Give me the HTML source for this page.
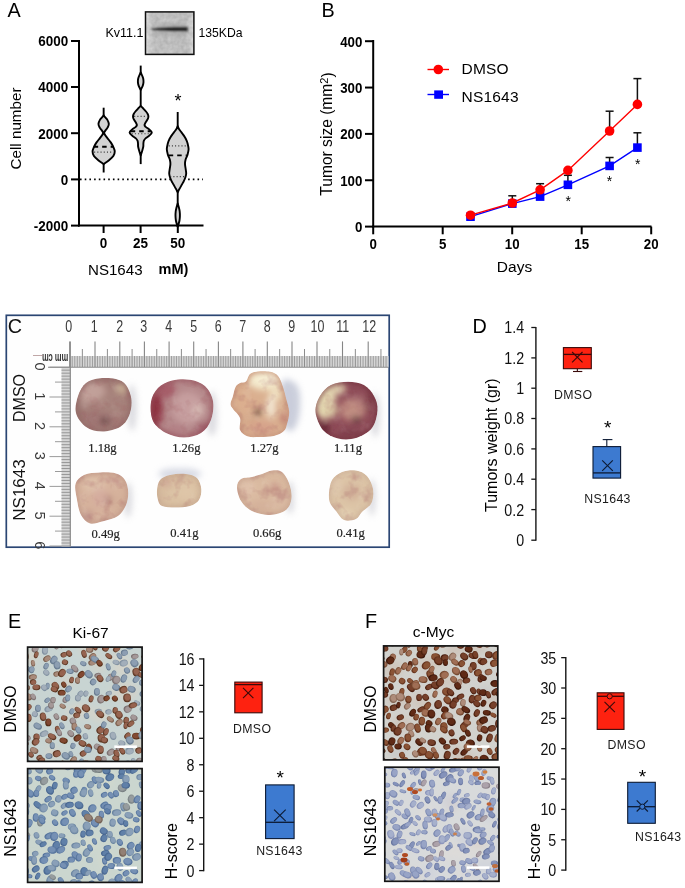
<!DOCTYPE html><html><head><meta charset="utf-8"><style>html,body{margin:0;padding:0;background:#fff;}#w{position:relative;width:685px;height:888px;overflow:hidden;background:#fff;will-change:transform;}svg{position:absolute;left:0;top:0;}</style></head><body><div id="w">
<svg width="685" height="888" viewBox="0 0 685 888">
<defs><filter id="b04" x="-20%" y="-20%" width="140%" height="140%"><feGaussianBlur stdDeviation="0.4"/></filter><filter id="b1" x="-20%" y="-20%" width="140%" height="140%"><feGaussianBlur stdDeviation="1"/></filter><filter id="b2" x="-30%" y="-30%" width="160%" height="160%"><feGaussianBlur stdDeviation="2"/></filter><filter id="b3" x="-30%" y="-30%" width="160%" height="160%"><feGaussianBlur stdDeviation="3"/></filter></defs>
<text x="7.60" y="17.20" font-size="19.8" text-anchor="start" font-weight="normal" fill="#000" font-family='"Liberation Sans", sans-serif' >A</text>
<defs><linearGradient id="wbg" x1="0" y1="0" x2="1" y2="0"><stop offset="0" stop-color="#f2f2f2"/><stop offset="0.07" stop-color="#e0e0e0"/><stop offset="0.15" stop-color="#d2d2d2"/><stop offset="0.85" stop-color="#cfcfcf"/><stop offset="0.95" stop-color="#dedede"/><stop offset="1" stop-color="#ececec"/></linearGradient><filter id="wbn" x="0" y="0" width="100%" height="100%"><feTurbulence type="fractalNoise" baseFrequency="0.22" numOctaves="2" seed="3"/><feColorMatrix type="matrix" values="0 0 0 0 0  0 0 0 0 0  0 0 0 0 0  0 0 0 0.18 0"/></filter><clipPath id="wbc"><rect x="145.5" y="11.9" width="48.4" height="42.5"/></clipPath></defs>
<rect x="145.5" y="11.9" width="48.4" height="42.5" fill="url(#wbg)"/>
<g clip-path="url(#wbc)"><rect x="145.5" y="11.9" width="48.4" height="42.5" filter="url(#wbn)"/></g>
<g filter="url(#b1)"><path d="M151.5,28.6 C160,27.2 175,26.6 187.5,26.8 L187.5,31.4 C175,31.4 160,30.8 151.5,30.0 Z" fill="#161616"/><rect x="152" y="23.5" width="34" height="4" fill="#a8a8a8" opacity="0.5"/><rect x="152" y="31" width="34" height="5" fill="#a0a0a0" opacity="0.45"/></g>
<rect x="145.5" y="11.9" width="48.4" height="42.5" fill="none" stroke="#111" stroke-width="1.5"/>
<text x="143.50" y="36.50" font-size="12.5" text-anchor="end" font-weight="normal" fill="#000" font-family='"Liberation Sans", sans-serif' >Kv11.1</text>
<text x="198.50" y="36.50" font-size="12.2" text-anchor="start" font-weight="normal" fill="#000" font-family='"Liberation Sans", sans-serif' >135KDa</text>
<line x1="79.00" y1="40.00" x2="79.00" y2="226.50" stroke="#000" stroke-width="2" />
<line x1="78.00" y1="225.60" x2="203.50" y2="225.60" stroke="#000" stroke-width="2" />
<line x1="71.00" y1="41.00" x2="79.00" y2="41.00" stroke="#000" stroke-width="2" />
<text x="0" y="0" transform="translate(68.20,46.30) scale(0.91,1)" font-size="14.8" text-anchor="end" font-weight="bold" fill="#000" font-family='"Liberation Sans", sans-serif'>6000</text>
<line x1="71.00" y1="87.00" x2="79.00" y2="87.00" stroke="#000" stroke-width="2" />
<text x="0" y="0" transform="translate(68.20,92.30) scale(0.91,1)" font-size="14.8" text-anchor="end" font-weight="bold" fill="#000" font-family='"Liberation Sans", sans-serif'>4000</text>
<line x1="71.00" y1="133.20" x2="79.00" y2="133.20" stroke="#000" stroke-width="2" />
<text x="0" y="0" transform="translate(68.20,138.50) scale(0.91,1)" font-size="14.8" text-anchor="end" font-weight="bold" fill="#000" font-family='"Liberation Sans", sans-serif'>2000</text>
<line x1="71.00" y1="179.40" x2="79.00" y2="179.40" stroke="#000" stroke-width="2" />
<text x="0" y="0" transform="translate(68.20,184.70) scale(0.91,1)" font-size="14.8" text-anchor="end" font-weight="bold" fill="#000" font-family='"Liberation Sans", sans-serif'>0</text>
<line x1="71.00" y1="225.60" x2="79.00" y2="225.60" stroke="#000" stroke-width="2" />
<text x="0" y="0" transform="translate(68.20,230.90) scale(0.91,1)" font-size="14.8" text-anchor="end" font-weight="bold" fill="#000" font-family='"Liberation Sans", sans-serif'>-2000</text>
<line x1="103.60" y1="225.60" x2="103.60" y2="233.00" stroke="#000" stroke-width="2" />
<text x="0" y="0" transform="translate(103.60,248.00) scale(0.91,1)" font-size="14.8" text-anchor="middle" font-weight="bold" fill="#000" font-family='"Liberation Sans", sans-serif'>0</text>
<line x1="140.60" y1="225.60" x2="140.60" y2="233.00" stroke="#000" stroke-width="2" />
<text x="0" y="0" transform="translate(140.60,248.00) scale(0.91,1)" font-size="14.8" text-anchor="middle" font-weight="bold" fill="#000" font-family='"Liberation Sans", sans-serif'>25</text>
<line x1="177.80" y1="225.60" x2="177.80" y2="233.00" stroke="#000" stroke-width="2" />
<text x="0" y="0" transform="translate(177.80,248.00) scale(0.91,1)" font-size="14.8" text-anchor="middle" font-weight="bold" fill="#000" font-family='"Liberation Sans", sans-serif'>50</text>
<text x="88.00" y="275.00" font-size="15.1" text-anchor="start" font-weight="normal" fill="#000" font-family='"Liberation Sans", sans-serif' >NS1643</text>
<text x="158.60" y="273.50" font-size="14.5" text-anchor="start" font-weight="bold" fill="#000" font-family='"Liberation Sans", sans-serif' >mM)</text>
<text x="0" y="0" transform="translate(15.50,128.50) rotate(-90)" font-size="15.2" text-anchor="middle" dominant-baseline="central" font-weight="normal" fill="#000" font-family='"Liberation Sans", sans-serif' >Cell number</text>
<line x1="80.00" y1="179.40" x2="203.00" y2="179.40" stroke="#000" stroke-width="1.6" stroke-dasharray="1.6 3.1"/>
<line x1="103.65" y1="107.70" x2="103.65" y2="172.50" stroke="#000" stroke-width="1.9" /><path d="M103.65,115.30 C103.88,115.62 104.45,116.48 105.05,117.20 C105.65,117.92 106.62,118.48 107.25,119.60 C107.88,120.72 108.80,122.57 108.85,123.90 C108.90,125.23 108.13,126.48 107.55,127.60 C106.97,128.72 105.97,129.72 105.35,130.60 C104.73,131.48 104.10,132.52 103.85,132.90 L103.45,132.90 C103.20,132.52 102.57,131.48 101.95,130.60 C101.33,129.72 100.33,128.72 99.75,127.60 C99.17,126.48 98.40,125.23 98.45,123.90 C98.50,122.57 99.42,120.72 100.05,119.60 C100.68,118.48 101.65,117.92 102.25,117.20 C102.85,116.48 103.42,115.62 103.65,115.30 Z" fill="#d3d3d3" stroke="#000" stroke-width="1.9" stroke-linejoin="round"/><path d="M103.85,132.90 C104.08,133.30 104.63,134.40 105.25,135.30 C105.87,136.20 106.63,137.12 107.55,138.30 C108.47,139.48 109.80,140.98 110.75,142.40 C111.70,143.82 112.58,145.30 113.25,146.80 C113.92,148.30 114.73,149.88 114.75,151.40 C114.77,152.92 114.30,154.43 113.35,155.90 C112.40,157.37 110.63,158.85 109.05,160.20 C107.47,161.55 104.72,163.37 103.85,164.00 L103.45,164.00 C102.58,163.37 99.83,161.55 98.25,160.20 C96.67,158.85 94.90,157.37 93.95,155.90 C93.00,154.43 92.53,152.92 92.55,151.40 C92.57,149.88 93.38,148.30 94.05,146.80 C94.72,145.30 95.60,143.82 96.55,142.40 C97.50,140.98 98.83,139.48 99.75,138.30 C100.67,137.12 101.43,136.20 102.05,135.30 C102.67,134.40 103.22,133.30 103.45,132.90 Z" fill="#d3d3d3" stroke="#000" stroke-width="1.9" stroke-linejoin="round"/><line x1="93.65" y1="146.70" x2="113.65" y2="146.70" stroke="#000" stroke-width="1.9" stroke-dasharray="4.5 4"/><line x1="94.15" y1="152.10" x2="113.15" y2="152.10" stroke="#333" stroke-width="1.1" stroke-dasharray="1 2.2"/>
<line x1="140.70" y1="65.60" x2="140.70" y2="164.10" stroke="#000" stroke-width="1.9" /><path d="M140.70,72.40 C140.93,72.92 141.68,74.48 142.10,75.50 C142.52,76.52 142.97,77.40 143.20,78.50 C143.43,79.60 143.58,80.88 143.50,82.10 C143.42,83.32 143.17,84.52 142.70,85.80 C142.23,87.08 141.03,89.13 140.70,89.80 L140.70,89.80 C140.37,89.13 139.17,87.08 138.70,85.80 C138.23,84.52 137.98,83.32 137.90,82.10 C137.82,80.88 137.97,79.60 138.20,78.50 C138.43,77.40 138.88,76.52 139.30,75.50 C139.72,74.48 140.47,72.92 140.70,72.40 Z" fill="#d3d3d3" stroke="#000" stroke-width="1.9" stroke-linejoin="round"/><path d="M140.70,105.90 C141.13,106.33 142.42,107.57 143.30,108.50 C144.18,109.43 145.27,110.58 146.00,111.50 C146.73,112.42 147.30,113.18 147.70,114.00 C148.10,114.82 148.40,115.53 148.40,116.40 C148.40,117.27 148.15,118.22 147.70,119.20 C147.25,120.18 146.23,121.32 145.70,122.30 C145.17,123.28 144.50,124.33 144.50,125.10 C144.50,125.87 144.92,126.18 145.70,126.90 C146.48,127.62 148.18,128.47 149.20,129.40 C150.22,130.33 151.78,131.47 151.80,132.50 C151.82,133.53 150.30,134.67 149.30,135.60 C148.30,136.53 146.70,137.27 145.80,138.10 C144.90,138.93 144.30,139.70 143.90,140.60 C143.50,141.50 143.50,142.52 143.40,143.50 C143.30,144.48 143.48,145.33 143.30,146.50 C143.12,147.67 142.73,149.00 142.30,150.50 C141.87,152.00 140.97,154.67 140.70,155.50 L140.70,155.50 C140.43,154.67 139.53,152.00 139.10,150.50 C138.67,149.00 138.28,147.67 138.10,146.50 C137.92,145.33 138.10,144.48 138.00,143.50 C137.90,142.52 137.90,141.50 137.50,140.60 C137.10,139.70 136.50,138.93 135.60,138.10 C134.70,137.27 133.10,136.53 132.10,135.60 C131.10,134.67 129.58,133.53 129.60,132.50 C129.62,131.47 131.18,130.33 132.20,129.40 C133.22,128.47 134.92,127.62 135.70,126.90 C136.48,126.18 136.90,125.87 136.90,125.10 C136.90,124.33 136.23,123.28 135.70,122.30 C135.17,121.32 134.15,120.18 133.70,119.20 C133.25,118.22 133.00,117.27 133.00,116.40 C133.00,115.53 133.30,114.82 133.70,114.00 C134.10,113.18 134.67,112.42 135.40,111.50 C136.13,110.58 137.22,109.43 138.10,108.50 C138.98,107.57 140.27,106.33 140.70,105.90 Z" fill="#d3d3d3" stroke="#000" stroke-width="1.9" stroke-linejoin="round"/><line x1="134.20" y1="116.40" x2="147.20" y2="116.40" stroke="#333" stroke-width="1.1" stroke-dasharray="1 2.2"/><line x1="130.70" y1="131.30" x2="150.70" y2="131.30" stroke="#000" stroke-width="1.9" stroke-dasharray="4.5 4"/><line x1="131.70" y1="133.80" x2="149.70" y2="133.80" stroke="#333" stroke-width="1.1" stroke-dasharray="1 2.2"/>
<line x1="177.70" y1="112.00" x2="177.70" y2="225.60" stroke="#000" stroke-width="1.9" /><path d="M177.70,126.20 C177.87,126.58 178.25,127.70 178.70,128.50 C179.15,129.30 179.73,130.08 180.40,131.00 C181.07,131.92 181.95,132.97 182.70,134.00 C183.45,135.03 184.27,136.15 184.90,137.20 C185.53,138.25 186.05,139.25 186.50,140.30 C186.95,141.35 187.25,142.03 187.60,143.50 C187.95,144.97 188.60,147.27 188.60,149.10 C188.60,150.93 188.10,152.77 187.60,154.50 C187.10,156.23 186.03,157.92 185.60,159.50 C185.17,161.08 185.00,162.50 185.00,164.00 C185.00,165.50 185.40,166.92 185.60,168.50 C185.80,170.08 186.25,172.00 186.20,173.50 C186.15,175.00 185.72,176.20 185.30,177.50 C184.88,178.80 184.27,180.13 183.70,181.30 C183.13,182.47 182.48,183.45 181.90,184.50 C181.32,185.55 180.73,186.63 180.20,187.60 C179.67,188.57 179.12,189.50 178.70,190.30 C178.28,191.10 177.87,192.05 177.70,192.40 L177.70,192.40 C177.53,192.05 177.12,191.10 176.70,190.30 C176.28,189.50 175.73,188.57 175.20,187.60 C174.67,186.63 174.08,185.55 173.50,184.50 C172.92,183.45 172.27,182.47 171.70,181.30 C171.13,180.13 170.52,178.80 170.10,177.50 C169.68,176.20 169.25,175.00 169.20,173.50 C169.15,172.00 169.60,170.08 169.80,168.50 C170.00,166.92 170.40,165.50 170.40,164.00 C170.40,162.50 170.23,161.08 169.80,159.50 C169.37,157.92 168.30,156.23 167.80,154.50 C167.30,152.77 166.80,150.93 166.80,149.10 C166.80,147.27 167.45,144.97 167.80,143.50 C168.15,142.03 168.45,141.35 168.90,140.30 C169.35,139.25 169.87,138.25 170.50,137.20 C171.13,136.15 171.95,135.03 172.70,134.00 C173.45,132.97 174.33,131.92 175.00,131.00 C175.67,130.08 176.25,129.30 176.70,128.50 C177.15,127.70 177.53,126.58 177.70,126.20 Z" fill="#d3d3d3" stroke="#000" stroke-width="1.9" stroke-linejoin="round"/><path d="M177.70,203.40 C177.90,204.08 178.57,206.15 178.90,207.50 C179.23,208.85 179.53,210.08 179.70,211.50 C179.87,212.92 179.93,214.50 179.90,216.00 C179.87,217.50 179.72,219.17 179.50,220.50 C179.28,221.83 178.87,223.00 178.60,224.00 C178.33,225.00 178.02,226.08 177.90,226.50 L177.50,226.50 C177.38,226.08 177.07,225.00 176.80,224.00 C176.53,223.00 176.12,221.83 175.90,220.50 C175.68,219.17 175.53,217.50 175.50,216.00 C175.47,214.50 175.53,212.92 175.70,211.50 C175.87,210.08 176.17,208.85 176.50,207.50 C176.83,206.15 177.50,204.08 177.70,203.40 Z" fill="#d3d3d3" stroke="#000" stroke-width="1.9" stroke-linejoin="round"/><line x1="168.70" y1="145.90" x2="186.70" y2="145.90" stroke="#333" stroke-width="1.1" stroke-dasharray="1 2.2"/><line x1="168.70" y1="155.40" x2="186.70" y2="155.40" stroke="#000" stroke-width="1.9" stroke-dasharray="4.5 4"/><line x1="170.20" y1="176.60" x2="185.20" y2="176.60" stroke="#333" stroke-width="1.1" stroke-dasharray="1 2.2"/>
<text x="178.10" y="106.80" font-size="18" text-anchor="middle" font-weight="normal" fill="#000" font-family='"Liberation Sans", sans-serif' >*</text>
<text x="321.50" y="17.20" font-size="19.8" text-anchor="start" font-weight="normal" fill="#000" font-family='"Liberation Sans", sans-serif' >B</text>
<line x1="373.20" y1="40.00" x2="373.20" y2="227.50" stroke="#000" stroke-width="2" />
<line x1="372.20" y1="226.60" x2="651.50" y2="226.60" stroke="#000" stroke-width="2" />
<line x1="365.00" y1="226.60" x2="373.20" y2="226.60" stroke="#000" stroke-width="2" />
<text x="0" y="0" transform="translate(362.30,231.90) scale(0.91,1)" font-size="14.6" text-anchor="end" font-weight="bold" fill="#000" font-family='"Liberation Sans", sans-serif'>0</text>
<line x1="365.00" y1="180.25" x2="373.20" y2="180.25" stroke="#000" stroke-width="2" />
<text x="0" y="0" transform="translate(362.30,185.55) scale(0.91,1)" font-size="14.6" text-anchor="end" font-weight="bold" fill="#000" font-family='"Liberation Sans", sans-serif'>100</text>
<line x1="365.00" y1="133.90" x2="373.20" y2="133.90" stroke="#000" stroke-width="2" />
<text x="0" y="0" transform="translate(362.30,139.20) scale(0.91,1)" font-size="14.6" text-anchor="end" font-weight="bold" fill="#000" font-family='"Liberation Sans", sans-serif'>200</text>
<line x1="365.00" y1="87.55" x2="373.20" y2="87.55" stroke="#000" stroke-width="2" />
<text x="0" y="0" transform="translate(362.30,92.85) scale(0.91,1)" font-size="14.6" text-anchor="end" font-weight="bold" fill="#000" font-family='"Liberation Sans", sans-serif'>300</text>
<line x1="365.00" y1="41.20" x2="373.20" y2="41.20" stroke="#000" stroke-width="2" />
<text x="0" y="0" transform="translate(362.30,46.50) scale(0.91,1)" font-size="14.6" text-anchor="end" font-weight="bold" fill="#000" font-family='"Liberation Sans", sans-serif'>400</text>
<line x1="373.20" y1="226.60" x2="373.20" y2="234.30" stroke="#000" stroke-width="2" />
<text x="0" y="0" transform="translate(373.20,249.20) scale(0.91,1)" font-size="14.6" text-anchor="middle" font-weight="bold" fill="#000" font-family='"Liberation Sans", sans-serif'>0</text>
<line x1="442.70" y1="226.60" x2="442.70" y2="234.30" stroke="#000" stroke-width="2" />
<text x="0" y="0" transform="translate(442.70,249.20) scale(0.91,1)" font-size="14.6" text-anchor="middle" font-weight="bold" fill="#000" font-family='"Liberation Sans", sans-serif'>5</text>
<line x1="512.20" y1="226.60" x2="512.20" y2="234.30" stroke="#000" stroke-width="2" />
<text x="0" y="0" transform="translate(512.20,249.20) scale(0.91,1)" font-size="14.6" text-anchor="middle" font-weight="bold" fill="#000" font-family='"Liberation Sans", sans-serif'>10</text>
<line x1="581.70" y1="226.60" x2="581.70" y2="234.30" stroke="#000" stroke-width="2" />
<text x="0" y="0" transform="translate(581.70,249.20) scale(0.91,1)" font-size="14.6" text-anchor="middle" font-weight="bold" fill="#000" font-family='"Liberation Sans", sans-serif'>15</text>
<line x1="651.20" y1="226.60" x2="651.20" y2="234.30" stroke="#000" stroke-width="2" />
<text x="0" y="0" transform="translate(651.20,249.20) scale(0.91,1)" font-size="14.6" text-anchor="middle" font-weight="bold" fill="#000" font-family='"Liberation Sans", sans-serif'>20</text>
<text x="514.50" y="272.20" font-size="15.5" text-anchor="middle" font-weight="normal" fill="#000" font-family='"Liberation Sans", sans-serif' >Days</text>
<text x="0" y="0" transform="translate(326.60,134.00) rotate(-90)" font-size="15.6" text-anchor="middle" dominant-baseline="central" font-family='"Liberation Sans", sans-serif'>Tumor size (mm<tspan font-size="11" dy="-2.6">2</tspan><tspan dy="2.6">)</tspan></text>
<line x1="512.30" y1="203.00" x2="512.30" y2="195.80" stroke="#111" stroke-width="1.5" />
<line x1="508.30" y1="195.80" x2="516.30" y2="195.80" stroke="#111" stroke-width="1.5" />
<line x1="540.10" y1="189.80" x2="540.10" y2="183.70" stroke="#111" stroke-width="1.5" />
<line x1="536.10" y1="183.70" x2="544.10" y2="183.70" stroke="#111" stroke-width="1.5" />
<line x1="609.60" y1="131.00" x2="609.60" y2="111.20" stroke="#111" stroke-width="1.5" />
<line x1="605.60" y1="111.20" x2="613.60" y2="111.20" stroke="#111" stroke-width="1.5" />
<line x1="637.40" y1="104.40" x2="637.40" y2="78.60" stroke="#111" stroke-width="1.5" />
<line x1="633.40" y1="78.60" x2="641.40" y2="78.60" stroke="#111" stroke-width="1.5" />
<line x1="567.90" y1="184.80" x2="567.90" y2="175.30" stroke="#111" stroke-width="1.5" />
<line x1="563.90" y1="175.30" x2="571.90" y2="175.30" stroke="#111" stroke-width="1.5" />
<line x1="609.60" y1="165.90" x2="609.60" y2="157.50" stroke="#111" stroke-width="1.5" />
<line x1="605.60" y1="157.50" x2="613.60" y2="157.50" stroke="#111" stroke-width="1.5" />
<line x1="637.40" y1="147.60" x2="637.40" y2="132.80" stroke="#111" stroke-width="1.5" />
<line x1="633.40" y1="132.80" x2="641.40" y2="132.80" stroke="#111" stroke-width="1.5" />
<polyline points="470.5,216.7 512.3,203.6 540.1,196.6 567.9,184.8 609.6,165.9 637.4,147.6" fill="none" stroke="#0000ff" stroke-width="1.4"/>
<rect x="466.20" y="212.40" width="8.6" height="8.6" fill="#0000ff"/>
<rect x="508.00" y="199.30" width="8.6" height="8.6" fill="#0000ff"/>
<rect x="535.80" y="192.30" width="8.6" height="8.6" fill="#0000ff"/>
<rect x="563.60" y="180.50" width="8.6" height="8.6" fill="#0000ff"/>
<rect x="605.30" y="161.60" width="8.6" height="8.6" fill="#0000ff"/>
<rect x="633.10" y="143.30" width="8.6" height="8.6" fill="#0000ff"/>
<polyline points="470.5,215.2 512.3,203.0 540.1,189.8 567.9,170.4 609.6,131.0 637.4,104.4" fill="none" stroke="#ff0000" stroke-width="1.4"/>
<circle cx="470.5" cy="215.2" r="4.8" fill="#ff0000"/>
<circle cx="512.3" cy="203.0" r="4.8" fill="#ff0000"/>
<circle cx="540.1" cy="189.8" r="4.8" fill="#ff0000"/>
<circle cx="567.9" cy="170.4" r="4.8" fill="#ff0000"/>
<circle cx="609.6" cy="131.0" r="4.8" fill="#ff0000"/>
<circle cx="637.4" cy="104.4" r="4.8" fill="#ff0000"/>
<text x="568.20" y="206.20" font-size="14" text-anchor="middle" font-weight="normal" fill="#000" font-family='"Liberation Sans", sans-serif' >*</text>
<text x="609.60" y="186.20" font-size="14" text-anchor="middle" font-weight="normal" fill="#000" font-family='"Liberation Sans", sans-serif' >*</text>
<text x="637.70" y="169.00" font-size="14" text-anchor="middle" font-weight="normal" fill="#000" font-family='"Liberation Sans", sans-serif' >*</text>
<line x1="427.50" y1="69.50" x2="449.00" y2="69.50" stroke="#ff0000" stroke-width="1.4" />
<circle cx="438.3" cy="69.5" r="4.8" fill="#ff0000"/>
<line x1="427.50" y1="94.50" x2="449.00" y2="94.50" stroke="#0000ff" stroke-width="1.4" />
<rect x="434.2" y="90.4" width="8.8" height="8.4" fill="#0000ff"/>
<text x="461.50" y="74.30" font-size="15.5" text-anchor="start" font-weight="normal" fill="#000" font-family='"Liberation Sans", sans-serif' letter-spacing="0.2">DMSO</text>
<text x="461.50" y="101.80" font-size="15.5" text-anchor="start" font-weight="normal" fill="#000" font-family='"Liberation Sans", sans-serif' letter-spacing="0.2">NS1643</text>
<rect x="6.3" y="315.3" width="382.9" height="231.9" fill="#fefefe" stroke="#2b4673" stroke-width="1.7"/>
<text x="7.80" y="332.90" font-size="19.8" text-anchor="start" font-weight="normal" fill="#111" font-family='"Liberation Sans", sans-serif' >C</text>
<text x="0" y="0" transform="translate(68.60,331.60) scale(0.8,1)" font-size="15.6" text-anchor="middle" font-weight="normal" fill="#3a3a3a" font-family='"Liberation Sans", sans-serif' >0</text>
<text x="0" y="0" transform="translate(94.30,331.60) scale(0.8,1)" font-size="15.6" text-anchor="middle" font-weight="normal" fill="#3a3a3a" font-family='"Liberation Sans", sans-serif' >1</text>
<text x="0" y="0" transform="translate(119.70,331.60) scale(0.8,1)" font-size="15.6" text-anchor="middle" font-weight="normal" fill="#3a3a3a" font-family='"Liberation Sans", sans-serif' >2</text>
<text x="0" y="0" transform="translate(143.80,331.60) scale(0.8,1)" font-size="15.6" text-anchor="middle" font-weight="normal" fill="#3a3a3a" font-family='"Liberation Sans", sans-serif' >3</text>
<text x="0" y="0" transform="translate(168.80,331.60) scale(0.8,1)" font-size="15.6" text-anchor="middle" font-weight="normal" fill="#3a3a3a" font-family='"Liberation Sans", sans-serif' >4</text>
<text x="0" y="0" transform="translate(193.60,331.60) scale(0.8,1)" font-size="15.6" text-anchor="middle" font-weight="normal" fill="#3a3a3a" font-family='"Liberation Sans", sans-serif' >5</text>
<text x="0" y="0" transform="translate(218.10,331.60) scale(0.8,1)" font-size="15.6" text-anchor="middle" font-weight="normal" fill="#3a3a3a" font-family='"Liberation Sans", sans-serif' >6</text>
<text x="0" y="0" transform="translate(242.60,331.60) scale(0.8,1)" font-size="15.6" text-anchor="middle" font-weight="normal" fill="#3a3a3a" font-family='"Liberation Sans", sans-serif' >7</text>
<text x="0" y="0" transform="translate(267.20,331.60) scale(0.8,1)" font-size="15.6" text-anchor="middle" font-weight="normal" fill="#3a3a3a" font-family='"Liberation Sans", sans-serif' >8</text>
<text x="0" y="0" transform="translate(291.60,331.60) scale(0.8,1)" font-size="15.6" text-anchor="middle" font-weight="normal" fill="#3a3a3a" font-family='"Liberation Sans", sans-serif' >9</text>
<text x="0" y="0" transform="translate(317.50,331.60) scale(0.8,1)" font-size="15.6" text-anchor="middle" font-weight="normal" fill="#3a3a3a" font-family='"Liberation Sans", sans-serif' >10</text>
<text x="0" y="0" transform="translate(342.60,331.60) scale(0.8,1)" font-size="15.6" text-anchor="middle" font-weight="normal" fill="#3a3a3a" font-family='"Liberation Sans", sans-serif' >11</text>
<text x="0" y="0" transform="translate(369.30,331.60) scale(0.8,1)" font-size="15.6" text-anchor="middle" font-weight="normal" fill="#3a3a3a" font-family='"Liberation Sans", sans-serif' >12</text>
<rect x="70" y="356" width="318.5" height="11" fill="#d6d6d6"/>
<rect x="61.5" y="367" width="8.8" height="179.5" fill="#d6d6d6"/>
<g><line x1="69.70" y1="341.40" x2="69.70" y2="367.00" stroke="#858585" stroke-width="1.1" /><line x1="82.35" y1="349.00" x2="82.35" y2="367.00" stroke="#8d8d8d" stroke-width="1.0" /><line x1="72.23" y1="356.00" x2="72.23" y2="367.00" stroke="#979797" stroke-width="0.9" /><line x1="74.76" y1="356.00" x2="74.76" y2="367.00" stroke="#979797" stroke-width="0.9" /><line x1="77.29" y1="356.00" x2="77.29" y2="367.00" stroke="#979797" stroke-width="0.9" /><line x1="79.82" y1="356.00" x2="79.82" y2="367.00" stroke="#979797" stroke-width="0.9" /><line x1="84.88" y1="356.00" x2="84.88" y2="367.00" stroke="#979797" stroke-width="0.9" /><line x1="87.41" y1="356.00" x2="87.41" y2="367.00" stroke="#979797" stroke-width="0.9" /><line x1="89.94" y1="356.00" x2="89.94" y2="367.00" stroke="#979797" stroke-width="0.9" /><line x1="92.47" y1="356.00" x2="92.47" y2="367.00" stroke="#979797" stroke-width="0.9" /><line x1="95.00" y1="341.40" x2="95.00" y2="367.00" stroke="#858585" stroke-width="1.1" /><line x1="107.40" y1="349.00" x2="107.40" y2="367.00" stroke="#8d8d8d" stroke-width="1.0" /><line x1="97.48" y1="356.00" x2="97.48" y2="367.00" stroke="#979797" stroke-width="0.9" /><line x1="99.96" y1="356.00" x2="99.96" y2="367.00" stroke="#979797" stroke-width="0.9" /><line x1="102.44" y1="356.00" x2="102.44" y2="367.00" stroke="#979797" stroke-width="0.9" /><line x1="104.92" y1="356.00" x2="104.92" y2="367.00" stroke="#979797" stroke-width="0.9" /><line x1="109.88" y1="356.00" x2="109.88" y2="367.00" stroke="#979797" stroke-width="0.9" /><line x1="112.36" y1="356.00" x2="112.36" y2="367.00" stroke="#979797" stroke-width="0.9" /><line x1="114.84" y1="356.00" x2="114.84" y2="367.00" stroke="#979797" stroke-width="0.9" /><line x1="117.32" y1="356.00" x2="117.32" y2="367.00" stroke="#979797" stroke-width="0.9" /><line x1="119.80" y1="341.40" x2="119.80" y2="367.00" stroke="#858585" stroke-width="1.1" /><line x1="132.10" y1="349.00" x2="132.10" y2="367.00" stroke="#8d8d8d" stroke-width="1.0" /><line x1="122.26" y1="356.00" x2="122.26" y2="367.00" stroke="#979797" stroke-width="0.9" /><line x1="124.72" y1="356.00" x2="124.72" y2="367.00" stroke="#979797" stroke-width="0.9" /><line x1="127.18" y1="356.00" x2="127.18" y2="367.00" stroke="#979797" stroke-width="0.9" /><line x1="129.64" y1="356.00" x2="129.64" y2="367.00" stroke="#979797" stroke-width="0.9" /><line x1="134.56" y1="356.00" x2="134.56" y2="367.00" stroke="#979797" stroke-width="0.9" /><line x1="137.02" y1="356.00" x2="137.02" y2="367.00" stroke="#979797" stroke-width="0.9" /><line x1="139.48" y1="356.00" x2="139.48" y2="367.00" stroke="#979797" stroke-width="0.9" /><line x1="141.94" y1="356.00" x2="141.94" y2="367.00" stroke="#979797" stroke-width="0.9" /><line x1="144.40" y1="341.40" x2="144.40" y2="367.00" stroke="#858585" stroke-width="1.1" /><line x1="156.75" y1="349.00" x2="156.75" y2="367.00" stroke="#8d8d8d" stroke-width="1.0" /><line x1="146.87" y1="356.00" x2="146.87" y2="367.00" stroke="#979797" stroke-width="0.9" /><line x1="149.34" y1="356.00" x2="149.34" y2="367.00" stroke="#979797" stroke-width="0.9" /><line x1="151.81" y1="356.00" x2="151.81" y2="367.00" stroke="#979797" stroke-width="0.9" /><line x1="154.28" y1="356.00" x2="154.28" y2="367.00" stroke="#979797" stroke-width="0.9" /><line x1="159.22" y1="356.00" x2="159.22" y2="367.00" stroke="#979797" stroke-width="0.9" /><line x1="161.69" y1="356.00" x2="161.69" y2="367.00" stroke="#979797" stroke-width="0.9" /><line x1="164.16" y1="356.00" x2="164.16" y2="367.00" stroke="#979797" stroke-width="0.9" /><line x1="166.63" y1="356.00" x2="166.63" y2="367.00" stroke="#979797" stroke-width="0.9" /><line x1="169.10" y1="341.40" x2="169.10" y2="367.00" stroke="#858585" stroke-width="1.1" /><line x1="181.40" y1="349.00" x2="181.40" y2="367.00" stroke="#8d8d8d" stroke-width="1.0" /><line x1="171.56" y1="356.00" x2="171.56" y2="367.00" stroke="#979797" stroke-width="0.9" /><line x1="174.02" y1="356.00" x2="174.02" y2="367.00" stroke="#979797" stroke-width="0.9" /><line x1="176.48" y1="356.00" x2="176.48" y2="367.00" stroke="#979797" stroke-width="0.9" /><line x1="178.94" y1="356.00" x2="178.94" y2="367.00" stroke="#979797" stroke-width="0.9" /><line x1="183.86" y1="356.00" x2="183.86" y2="367.00" stroke="#979797" stroke-width="0.9" /><line x1="186.32" y1="356.00" x2="186.32" y2="367.00" stroke="#979797" stroke-width="0.9" /><line x1="188.78" y1="356.00" x2="188.78" y2="367.00" stroke="#979797" stroke-width="0.9" /><line x1="191.24" y1="356.00" x2="191.24" y2="367.00" stroke="#979797" stroke-width="0.9" /><line x1="193.70" y1="341.40" x2="193.70" y2="367.00" stroke="#858585" stroke-width="1.1" /><line x1="206.05" y1="349.00" x2="206.05" y2="367.00" stroke="#8d8d8d" stroke-width="1.0" /><line x1="196.17" y1="356.00" x2="196.17" y2="367.00" stroke="#979797" stroke-width="0.9" /><line x1="198.64" y1="356.00" x2="198.64" y2="367.00" stroke="#979797" stroke-width="0.9" /><line x1="201.11" y1="356.00" x2="201.11" y2="367.00" stroke="#979797" stroke-width="0.9" /><line x1="203.58" y1="356.00" x2="203.58" y2="367.00" stroke="#979797" stroke-width="0.9" /><line x1="208.52" y1="356.00" x2="208.52" y2="367.00" stroke="#979797" stroke-width="0.9" /><line x1="210.99" y1="356.00" x2="210.99" y2="367.00" stroke="#979797" stroke-width="0.9" /><line x1="213.46" y1="356.00" x2="213.46" y2="367.00" stroke="#979797" stroke-width="0.9" /><line x1="215.93" y1="356.00" x2="215.93" y2="367.00" stroke="#979797" stroke-width="0.9" /><line x1="218.40" y1="341.40" x2="218.40" y2="367.00" stroke="#858585" stroke-width="1.1" /><line x1="230.65" y1="349.00" x2="230.65" y2="367.00" stroke="#8d8d8d" stroke-width="1.0" /><line x1="220.85" y1="356.00" x2="220.85" y2="367.00" stroke="#979797" stroke-width="0.9" /><line x1="223.30" y1="356.00" x2="223.30" y2="367.00" stroke="#979797" stroke-width="0.9" /><line x1="225.75" y1="356.00" x2="225.75" y2="367.00" stroke="#979797" stroke-width="0.9" /><line x1="228.20" y1="356.00" x2="228.20" y2="367.00" stroke="#979797" stroke-width="0.9" /><line x1="233.10" y1="356.00" x2="233.10" y2="367.00" stroke="#979797" stroke-width="0.9" /><line x1="235.55" y1="356.00" x2="235.55" y2="367.00" stroke="#979797" stroke-width="0.9" /><line x1="238.00" y1="356.00" x2="238.00" y2="367.00" stroke="#979797" stroke-width="0.9" /><line x1="240.45" y1="356.00" x2="240.45" y2="367.00" stroke="#979797" stroke-width="0.9" /><line x1="242.90" y1="341.40" x2="242.90" y2="367.00" stroke="#858585" stroke-width="1.1" /><line x1="255.10" y1="349.00" x2="255.10" y2="367.00" stroke="#8d8d8d" stroke-width="1.0" /><line x1="245.34" y1="356.00" x2="245.34" y2="367.00" stroke="#979797" stroke-width="0.9" /><line x1="247.78" y1="356.00" x2="247.78" y2="367.00" stroke="#979797" stroke-width="0.9" /><line x1="250.22" y1="356.00" x2="250.22" y2="367.00" stroke="#979797" stroke-width="0.9" /><line x1="252.66" y1="356.00" x2="252.66" y2="367.00" stroke="#979797" stroke-width="0.9" /><line x1="257.54" y1="356.00" x2="257.54" y2="367.00" stroke="#979797" stroke-width="0.9" /><line x1="259.98" y1="356.00" x2="259.98" y2="367.00" stroke="#979797" stroke-width="0.9" /><line x1="262.42" y1="356.00" x2="262.42" y2="367.00" stroke="#979797" stroke-width="0.9" /><line x1="264.86" y1="356.00" x2="264.86" y2="367.00" stroke="#979797" stroke-width="0.9" /><line x1="267.30" y1="341.40" x2="267.30" y2="367.00" stroke="#858585" stroke-width="1.1" /><line x1="279.65" y1="349.00" x2="279.65" y2="367.00" stroke="#8d8d8d" stroke-width="1.0" /><line x1="269.77" y1="356.00" x2="269.77" y2="367.00" stroke="#979797" stroke-width="0.9" /><line x1="272.24" y1="356.00" x2="272.24" y2="367.00" stroke="#979797" stroke-width="0.9" /><line x1="274.71" y1="356.00" x2="274.71" y2="367.00" stroke="#979797" stroke-width="0.9" /><line x1="277.18" y1="356.00" x2="277.18" y2="367.00" stroke="#979797" stroke-width="0.9" /><line x1="282.12" y1="356.00" x2="282.12" y2="367.00" stroke="#979797" stroke-width="0.9" /><line x1="284.59" y1="356.00" x2="284.59" y2="367.00" stroke="#979797" stroke-width="0.9" /><line x1="287.06" y1="356.00" x2="287.06" y2="367.00" stroke="#979797" stroke-width="0.9" /><line x1="289.53" y1="356.00" x2="289.53" y2="367.00" stroke="#979797" stroke-width="0.9" /><line x1="292.00" y1="341.40" x2="292.00" y2="367.00" stroke="#858585" stroke-width="1.1" /><line x1="304.50" y1="349.00" x2="304.50" y2="367.00" stroke="#8d8d8d" stroke-width="1.0" /><line x1="294.50" y1="356.00" x2="294.50" y2="367.00" stroke="#979797" stroke-width="0.9" /><line x1="297.00" y1="356.00" x2="297.00" y2="367.00" stroke="#979797" stroke-width="0.9" /><line x1="299.50" y1="356.00" x2="299.50" y2="367.00" stroke="#979797" stroke-width="0.9" /><line x1="302.00" y1="356.00" x2="302.00" y2="367.00" stroke="#979797" stroke-width="0.9" /><line x1="307.00" y1="356.00" x2="307.00" y2="367.00" stroke="#979797" stroke-width="0.9" /><line x1="309.50" y1="356.00" x2="309.50" y2="367.00" stroke="#979797" stroke-width="0.9" /><line x1="312.00" y1="356.00" x2="312.00" y2="367.00" stroke="#979797" stroke-width="0.9" /><line x1="314.50" y1="356.00" x2="314.50" y2="367.00" stroke="#979797" stroke-width="0.9" /><line x1="317.00" y1="341.40" x2="317.00" y2="367.00" stroke="#858585" stroke-width="1.1" /><line x1="329.75" y1="349.00" x2="329.75" y2="367.00" stroke="#8d8d8d" stroke-width="1.0" /><line x1="319.55" y1="356.00" x2="319.55" y2="367.00" stroke="#979797" stroke-width="0.9" /><line x1="322.10" y1="356.00" x2="322.10" y2="367.00" stroke="#979797" stroke-width="0.9" /><line x1="324.65" y1="356.00" x2="324.65" y2="367.00" stroke="#979797" stroke-width="0.9" /><line x1="327.20" y1="356.00" x2="327.20" y2="367.00" stroke="#979797" stroke-width="0.9" /><line x1="332.30" y1="356.00" x2="332.30" y2="367.00" stroke="#979797" stroke-width="0.9" /><line x1="334.85" y1="356.00" x2="334.85" y2="367.00" stroke="#979797" stroke-width="0.9" /><line x1="337.40" y1="356.00" x2="337.40" y2="367.00" stroke="#979797" stroke-width="0.9" /><line x1="339.95" y1="356.00" x2="339.95" y2="367.00" stroke="#979797" stroke-width="0.9" /><line x1="342.50" y1="341.40" x2="342.50" y2="367.00" stroke="#858585" stroke-width="1.1" /><line x1="355.35" y1="349.00" x2="355.35" y2="367.00" stroke="#8d8d8d" stroke-width="1.0" /><line x1="345.07" y1="356.00" x2="345.07" y2="367.00" stroke="#979797" stroke-width="0.9" /><line x1="347.64" y1="356.00" x2="347.64" y2="367.00" stroke="#979797" stroke-width="0.9" /><line x1="350.21" y1="356.00" x2="350.21" y2="367.00" stroke="#979797" stroke-width="0.9" /><line x1="352.78" y1="356.00" x2="352.78" y2="367.00" stroke="#979797" stroke-width="0.9" /><line x1="357.92" y1="356.00" x2="357.92" y2="367.00" stroke="#979797" stroke-width="0.9" /><line x1="360.49" y1="356.00" x2="360.49" y2="367.00" stroke="#979797" stroke-width="0.9" /><line x1="363.06" y1="356.00" x2="363.06" y2="367.00" stroke="#979797" stroke-width="0.9" /><line x1="365.63" y1="356.00" x2="365.63" y2="367.00" stroke="#979797" stroke-width="0.9" /><line x1="368.20" y1="341.40" x2="368.20" y2="367.00" stroke="#858585" stroke-width="1.1" /><line x1="380.95" y1="349.00" x2="380.95" y2="367.00" stroke="#8d8d8d" stroke-width="1.0" /><line x1="370.75" y1="356.00" x2="370.75" y2="367.00" stroke="#979797" stroke-width="0.9" /><line x1="373.30" y1="356.00" x2="373.30" y2="367.00" stroke="#979797" stroke-width="0.9" /><line x1="375.85" y1="356.00" x2="375.85" y2="367.00" stroke="#979797" stroke-width="0.9" /><line x1="378.40" y1="356.00" x2="378.40" y2="367.00" stroke="#979797" stroke-width="0.9" /><line x1="383.50" y1="356.00" x2="383.50" y2="367.00" stroke="#979797" stroke-width="0.9" /><line x1="386.05" y1="356.00" x2="386.05" y2="367.00" stroke="#979797" stroke-width="0.9" /></g>
<line x1="48.00" y1="367.20" x2="388.50" y2="367.20" stroke="#8a8a8a" stroke-width="1.1" />
<line x1="70.30" y1="341.40" x2="70.30" y2="547.00" stroke="#8a8a8a" stroke-width="1.2" />
<g><line x1="49.50" y1="367.20" x2="70.30" y2="367.20" stroke="#909090" stroke-width="0.9" /><line x1="61.50" y1="370.18" x2="70.30" y2="370.18" stroke="#909090" stroke-width="0.9" /><line x1="61.50" y1="373.16" x2="70.30" y2="373.16" stroke="#909090" stroke-width="0.9" /><line x1="61.50" y1="376.14" x2="70.30" y2="376.14" stroke="#909090" stroke-width="0.9" /><line x1="61.50" y1="379.12" x2="70.30" y2="379.12" stroke="#909090" stroke-width="0.9" /><line x1="55.00" y1="382.10" x2="70.30" y2="382.10" stroke="#909090" stroke-width="0.9" /><line x1="61.50" y1="385.08" x2="70.30" y2="385.08" stroke="#909090" stroke-width="0.9" /><line x1="61.50" y1="388.06" x2="70.30" y2="388.06" stroke="#909090" stroke-width="0.9" /><line x1="61.50" y1="391.04" x2="70.30" y2="391.04" stroke="#909090" stroke-width="0.9" /><line x1="61.50" y1="394.02" x2="70.30" y2="394.02" stroke="#909090" stroke-width="0.9" /><line x1="49.50" y1="397.00" x2="70.30" y2="397.00" stroke="#909090" stroke-width="0.9" /><line x1="61.50" y1="399.98" x2="70.30" y2="399.98" stroke="#909090" stroke-width="0.9" /><line x1="61.50" y1="402.96" x2="70.30" y2="402.96" stroke="#909090" stroke-width="0.9" /><line x1="61.50" y1="405.94" x2="70.30" y2="405.94" stroke="#909090" stroke-width="0.9" /><line x1="61.50" y1="408.92" x2="70.30" y2="408.92" stroke="#909090" stroke-width="0.9" /><line x1="55.00" y1="411.90" x2="70.30" y2="411.90" stroke="#909090" stroke-width="0.9" /><line x1="61.50" y1="414.88" x2="70.30" y2="414.88" stroke="#909090" stroke-width="0.9" /><line x1="61.50" y1="417.86" x2="70.30" y2="417.86" stroke="#909090" stroke-width="0.9" /><line x1="61.50" y1="420.84" x2="70.30" y2="420.84" stroke="#909090" stroke-width="0.9" /><line x1="61.50" y1="423.82" x2="70.30" y2="423.82" stroke="#909090" stroke-width="0.9" /><line x1="49.50" y1="426.80" x2="70.30" y2="426.80" stroke="#909090" stroke-width="0.9" /><line x1="61.50" y1="429.78" x2="70.30" y2="429.78" stroke="#909090" stroke-width="0.9" /><line x1="61.50" y1="432.76" x2="70.30" y2="432.76" stroke="#909090" stroke-width="0.9" /><line x1="61.50" y1="435.74" x2="70.30" y2="435.74" stroke="#909090" stroke-width="0.9" /><line x1="61.50" y1="438.72" x2="70.30" y2="438.72" stroke="#909090" stroke-width="0.9" /><line x1="55.00" y1="441.70" x2="70.30" y2="441.70" stroke="#909090" stroke-width="0.9" /><line x1="61.50" y1="444.68" x2="70.30" y2="444.68" stroke="#909090" stroke-width="0.9" /><line x1="61.50" y1="447.66" x2="70.30" y2="447.66" stroke="#909090" stroke-width="0.9" /><line x1="61.50" y1="450.64" x2="70.30" y2="450.64" stroke="#909090" stroke-width="0.9" /><line x1="61.50" y1="453.62" x2="70.30" y2="453.62" stroke="#909090" stroke-width="0.9" /><line x1="49.50" y1="456.60" x2="70.30" y2="456.60" stroke="#909090" stroke-width="0.9" /><line x1="61.50" y1="459.58" x2="70.30" y2="459.58" stroke="#909090" stroke-width="0.9" /><line x1="61.50" y1="462.56" x2="70.30" y2="462.56" stroke="#909090" stroke-width="0.9" /><line x1="61.50" y1="465.54" x2="70.30" y2="465.54" stroke="#909090" stroke-width="0.9" /><line x1="61.50" y1="468.52" x2="70.30" y2="468.52" stroke="#909090" stroke-width="0.9" /><line x1="55.00" y1="471.50" x2="70.30" y2="471.50" stroke="#909090" stroke-width="0.9" /><line x1="61.50" y1="474.48" x2="70.30" y2="474.48" stroke="#909090" stroke-width="0.9" /><line x1="61.50" y1="477.46" x2="70.30" y2="477.46" stroke="#909090" stroke-width="0.9" /><line x1="61.50" y1="480.44" x2="70.30" y2="480.44" stroke="#909090" stroke-width="0.9" /><line x1="61.50" y1="483.42" x2="70.30" y2="483.42" stroke="#909090" stroke-width="0.9" /><line x1="49.50" y1="486.40" x2="70.30" y2="486.40" stroke="#909090" stroke-width="0.9" /><line x1="61.50" y1="489.38" x2="70.30" y2="489.38" stroke="#909090" stroke-width="0.9" /><line x1="61.50" y1="492.36" x2="70.30" y2="492.36" stroke="#909090" stroke-width="0.9" /><line x1="61.50" y1="495.34" x2="70.30" y2="495.34" stroke="#909090" stroke-width="0.9" /><line x1="61.50" y1="498.32" x2="70.30" y2="498.32" stroke="#909090" stroke-width="0.9" /><line x1="55.00" y1="501.30" x2="70.30" y2="501.30" stroke="#909090" stroke-width="0.9" /><line x1="61.50" y1="504.28" x2="70.30" y2="504.28" stroke="#909090" stroke-width="0.9" /><line x1="61.50" y1="507.26" x2="70.30" y2="507.26" stroke="#909090" stroke-width="0.9" /><line x1="61.50" y1="510.24" x2="70.30" y2="510.24" stroke="#909090" stroke-width="0.9" /><line x1="61.50" y1="513.22" x2="70.30" y2="513.22" stroke="#909090" stroke-width="0.9" /><line x1="49.50" y1="516.20" x2="70.30" y2="516.20" stroke="#909090" stroke-width="0.9" /><line x1="61.50" y1="519.18" x2="70.30" y2="519.18" stroke="#909090" stroke-width="0.9" /><line x1="61.50" y1="522.16" x2="70.30" y2="522.16" stroke="#909090" stroke-width="0.9" /><line x1="61.50" y1="525.14" x2="70.30" y2="525.14" stroke="#909090" stroke-width="0.9" /><line x1="61.50" y1="528.12" x2="70.30" y2="528.12" stroke="#909090" stroke-width="0.9" /><line x1="55.00" y1="531.10" x2="70.30" y2="531.10" stroke="#909090" stroke-width="0.9" /><line x1="61.50" y1="534.08" x2="70.30" y2="534.08" stroke="#909090" stroke-width="0.9" /><line x1="61.50" y1="537.06" x2="70.30" y2="537.06" stroke="#909090" stroke-width="0.9" /><line x1="61.50" y1="540.04" x2="70.30" y2="540.04" stroke="#909090" stroke-width="0.9" /><line x1="61.50" y1="543.02" x2="70.30" y2="543.02" stroke="#909090" stroke-width="0.9" /><line x1="49.50" y1="546.00" x2="70.30" y2="546.00" stroke="#909090" stroke-width="0.9" /></g>
<text x="0" y="0" transform="translate(40.20,366.50) rotate(90)" font-size="14.5" text-anchor="middle" dominant-baseline="central" font-weight="normal" fill="#3a3a3a" font-family='"Liberation Sans", sans-serif' >0</text>
<text x="0" y="0" transform="translate(40.20,396.30) rotate(90)" font-size="14.5" text-anchor="middle" dominant-baseline="central" font-weight="normal" fill="#3a3a3a" font-family='"Liberation Sans", sans-serif' >1</text>
<text x="0" y="0" transform="translate(40.20,426.10) rotate(90)" font-size="14.5" text-anchor="middle" dominant-baseline="central" font-weight="normal" fill="#3a3a3a" font-family='"Liberation Sans", sans-serif' >2</text>
<text x="0" y="0" transform="translate(40.20,455.90) rotate(90)" font-size="14.5" text-anchor="middle" dominant-baseline="central" font-weight="normal" fill="#3a3a3a" font-family='"Liberation Sans", sans-serif' >3</text>
<text x="0" y="0" transform="translate(40.20,485.70) rotate(90)" font-size="14.5" text-anchor="middle" dominant-baseline="central" font-weight="normal" fill="#3a3a3a" font-family='"Liberation Sans", sans-serif' >4</text>
<text x="0" y="0" transform="translate(40.20,515.50) rotate(90)" font-size="14.5" text-anchor="middle" dominant-baseline="central" font-weight="normal" fill="#3a3a3a" font-family='"Liberation Sans", sans-serif' >5</text>
<text x="0" y="0" transform="translate(40.20,545.30) rotate(90)" font-size="14.5" text-anchor="middle" dominant-baseline="central" font-weight="normal" fill="#3a3a3a" font-family='"Liberation Sans", sans-serif' >6</text>
<text x="0" y="0" transform="translate(68.2,353.6) rotate(180) scale(0.6,1)" font-size="12.5" font-weight="bold" fill="#333" font-family='"Liberation Sans", sans-serif'>mm cm</text>
<line x1="33.00" y1="355.50" x2="43.00" y2="355.50" stroke="#b09090" stroke-width="0.8" />
<text x="0" y="0" transform="translate(19.20,398.00) rotate(-90)" font-size="16" text-anchor="middle" dominant-baseline="central" font-weight="normal" fill="#111" font-family='"Liberation Sans", sans-serif' >DMSO</text>
<text x="0" y="0" transform="translate(19.00,490.00) rotate(-90)" font-size="17" text-anchor="middle" dominant-baseline="central" font-weight="normal" fill="#111" font-family='"Liberation Sans", sans-serif' >NS1643</text>
<defs><filter id="tsoft" x="-10%" y="-10%" width="120%" height="120%"><feGaussianBlur stdDeviation="0.6"/></filter><filter id="tnoise" x="0" y="0" width="100%" height="100%"><feTurbulence type="fractalNoise" baseFrequency="0.08" numOctaves="3" seed="7"/><feColorMatrix type="matrix" values="0 0 0 0 0.35  0 0 0 0 0.1  0 0 0 0 0.12  3 0 0 0 -1.5"/></filter><filter id="tnoise2" x="0" y="0" width="100%" height="100%"><feTurbulence type="fractalNoise" baseFrequency="0.09" numOctaves="3" seed="19"/><feColorMatrix type="matrix" values="0 0 0 0 1  0 0 0 0 0.95  0 0 0 0 0.9  3 0 0 0 -1.5"/></filter></defs>
<g filter="url(#b3)" opacity="0.6"><path d="M300.06,405.00 C299.97,408.63 299.76,412.25 299.14,415.58 C298.52,418.91 297.59,422.39 296.35,424.98 C295.12,427.56 293.39,430.44 291.75,431.09 C290.10,431.74 288.11,430.05 286.48,428.88 C284.86,427.71 283.29,426.25 281.98,424.07 C280.68,421.89 279.57,418.97 278.65,415.80 C277.74,412.62 276.48,408.57 276.51,405.00 C276.53,401.43 278.01,397.87 278.80,394.36 C279.59,390.84 279.99,386.45 281.23,383.89 C282.47,381.33 284.55,379.45 286.26,378.99 C287.97,378.53 289.80,380.20 291.51,381.13 C293.23,382.05 295.16,382.44 296.52,384.56 C297.89,386.67 299.13,390.41 299.72,393.81 C300.31,397.22 300.16,401.37 300.06,405.00Z" fill="#a8aec4"/><path d="M136.66,408.00 C136.69,410.98 136.57,414.33 136.30,417.11 C136.02,419.88 135.54,422.37 135.02,424.66 C134.50,426.94 133.87,430.03 133.18,430.82 C132.50,431.62 131.62,430.27 130.89,429.44 C130.15,428.60 129.29,427.89 128.77,425.81 C128.26,423.72 128.08,419.90 127.78,416.93 C127.49,413.97 127.08,411.17 126.99,408.00 C126.90,404.83 126.93,400.81 127.25,397.93 C127.56,395.05 128.28,392.89 128.87,390.74 C129.46,388.59 130.09,385.94 130.81,385.03 C131.53,384.11 132.47,384.22 133.18,385.24 C133.89,386.26 134.56,388.83 135.05,391.15 C135.55,393.48 135.88,396.41 136.14,399.22 C136.41,402.02 136.64,405.02 136.66,408.00Z" fill="#c4c4cc"/><path d="M217.06,414.00 C217.08,417.20 216.90,420.74 216.60,423.75 C216.30,426.76 215.86,430.25 215.28,432.07 C214.69,433.90 213.81,434.03 213.07,434.68 C212.34,435.33 211.59,436.37 210.86,435.97 C210.13,435.57 209.30,434.24 208.69,432.28 C208.08,430.31 207.44,427.22 207.20,424.17 C206.96,421.12 207.22,417.32 207.25,414.00 C207.28,410.68 207.12,407.14 207.39,404.22 C207.65,401.30 208.24,398.42 208.82,396.48 C209.41,394.53 210.16,393.46 210.89,392.54 C211.62,391.62 212.49,390.25 213.20,390.95 C213.90,391.65 214.59,394.46 215.13,396.72 C215.68,398.99 216.14,401.66 216.47,404.54 C216.79,407.42 217.03,410.80 217.06,414.00Z" fill="#c4c4cc"/><path d="M380.02,414.00 C380.02,417.23 379.86,420.65 379.57,423.68 C379.28,426.70 378.85,429.96 378.29,432.15 C377.72,434.34 376.93,436.05 376.18,436.82 C375.44,437.59 374.52,437.76 373.82,436.76 C373.11,435.76 372.56,432.92 371.95,430.83 C371.34,428.74 370.49,427.04 370.17,424.23 C369.86,421.43 369.98,417.25 370.06,414.00 C370.14,410.75 370.30,407.43 370.63,404.75 C370.97,402.07 371.54,399.96 372.08,397.92 C372.63,395.88 373.22,393.21 373.89,392.51 C374.55,391.81 375.36,392.92 376.05,393.74 C376.74,394.55 377.42,395.66 378.00,397.42 C378.59,399.18 379.25,401.52 379.58,404.29 C379.92,407.05 380.03,410.77 380.02,414.00Z" fill="#c4c4cc"/><path d="M201.16,474.00 C201.25,474.89 200.94,475.89 199.68,476.71 C198.42,477.52 196.07,478.30 193.61,478.88 C191.16,479.46 187.97,480.06 184.95,480.19 C181.93,480.32 178.66,479.84 175.49,479.65 C172.32,479.46 168.37,479.54 165.93,479.04 C163.50,478.54 162.17,477.47 160.88,476.63 C159.58,475.79 158.26,474.89 158.17,474.00 C158.07,473.11 159.00,472.13 160.31,471.29 C161.61,470.46 163.48,469.47 166.01,468.99 C168.54,468.50 172.40,468.48 175.50,468.36 C178.59,468.24 181.56,468.14 184.57,468.28 C187.58,468.41 191.11,468.63 193.55,469.15 C195.98,469.66 197.91,470.55 199.18,471.36 C200.45,472.17 201.08,473.11 201.16,474.00Z" fill="#c0c4d4"/><path d="M293.89,497.00 C293.93,499.42 294.08,502.24 293.88,504.48 C293.68,506.72 293.17,508.90 292.68,510.43 C292.19,511.96 291.55,513.16 290.95,513.64 C290.35,514.13 289.67,513.89 289.07,513.32 C288.47,512.76 287.75,511.92 287.36,510.26 C286.96,508.60 286.92,505.60 286.68,503.39 C286.44,501.18 285.94,499.17 285.92,497.00 C285.89,494.83 286.29,492.50 286.54,490.34 C286.79,488.18 286.98,485.49 287.41,484.03 C287.84,482.57 288.54,482.03 289.12,481.57 C289.70,481.11 290.33,480.78 290.90,481.25 C291.46,481.72 292.05,482.95 292.51,484.41 C292.97,485.86 293.42,487.87 293.65,489.97 C293.88,492.07 293.85,494.58 293.89,497.00Z" fill="#c4c4cc"/><path d="M376.12,497.00 C376.09,499.49 375.63,501.91 375.37,504.30 C375.11,506.69 374.95,509.47 374.54,511.34 C374.14,513.21 373.52,514.82 372.94,515.51 C372.36,516.20 371.64,516.22 371.06,515.49 C370.49,514.75 369.96,512.86 369.50,511.11 C369.04,509.35 368.56,507.32 368.32,504.97 C368.08,502.62 368.07,499.64 368.08,497.00 C368.09,494.36 368.12,491.35 368.38,489.16 C368.64,486.96 369.21,485.51 369.66,483.81 C370.11,482.11 370.54,479.71 371.08,478.94 C371.62,478.16 372.35,478.42 372.90,479.17 C373.46,479.92 373.97,481.72 374.41,483.42 C374.85,485.11 375.25,487.08 375.53,489.34 C375.82,491.61 376.14,494.51 376.12,497.00Z" fill="#c4c4cc"/><path d="M132.09,500.00 C132.04,502.68 131.81,505.29 131.56,507.72 C131.31,510.15 131.04,513.14 130.58,514.58 C130.13,516.01 129.41,515.74 128.83,516.33 C128.24,516.92 127.63,518.53 127.08,518.10 C126.54,517.68 126.01,515.48 125.56,513.79 C125.10,512.10 124.56,510.24 124.33,507.94 C124.11,505.65 124.19,502.59 124.21,500.00 C124.24,497.41 124.25,494.64 124.49,492.38 C124.72,490.13 125.16,488.03 125.60,486.45 C126.04,484.88 126.58,483.70 127.13,482.93 C127.69,482.16 128.36,481.31 128.92,481.82 C129.48,482.32 129.99,484.35 130.48,485.99 C130.97,487.62 131.60,489.28 131.87,491.61 C132.14,493.95 132.14,497.32 132.09,500.00Z" fill="#c4c4cc"/></g>
<clipPath id="tc1"><path d="M78.00,396.00 C79.67,391.00 82.33,385.95 86.00,383.00 C89.67,380.05 95.00,378.97 100.00,378.30 C105.00,377.63 111.67,377.88 116.00,379.00 C120.33,380.12 123.42,381.50 126.00,385.00 C128.58,388.50 131.00,394.83 131.50,400.00 C132.00,405.17 130.92,411.50 129.00,416.00 C127.08,420.50 124.50,424.42 120.00,427.00 C115.50,429.58 107.67,431.50 102.00,431.50 C96.33,431.50 90.33,430.08 86.00,427.00 C81.67,423.92 77.33,418.17 76.00,413.00 C74.67,407.83 76.33,401.00 78.00,396.00Z"/></clipPath><g filter="url(#tsoft)"><g clip-path="url(#tc1)"><path d="M78.00,396.00 C79.67,391.00 82.33,385.95 86.00,383.00 C89.67,380.05 95.00,378.97 100.00,378.30 C105.00,377.63 111.67,377.88 116.00,379.00 C120.33,380.12 123.42,381.50 126.00,385.00 C128.58,388.50 131.00,394.83 131.50,400.00 C132.00,405.17 130.92,411.50 129.00,416.00 C127.08,420.50 124.50,424.42 120.00,427.00 C115.50,429.58 107.67,431.50 102.00,431.50 C96.33,431.50 90.33,430.08 86.00,427.00 C81.67,423.92 77.33,418.17 76.00,413.00 C74.67,407.83 76.33,401.00 78.00,396.00Z" fill="#a47e78"/><g filter="url(#b3)"><ellipse cx="92" cy="392" rx="14" ry="10" fill="#c4a49c" opacity="0.9"/><ellipse cx="122" cy="388" rx="6" ry="5" fill="#d4c0a0" opacity="0.8"/><ellipse cx="112" cy="405" rx="14" ry="14" fill="#a8847e" opacity="0.7"/><ellipse cx="100" cy="420" rx="16" ry="8" fill="#9c7070" opacity="0.7"/><ellipse cx="105" cy="421" rx="4" ry="3" fill="#4a2a2a" opacity="0.9"/><ellipse cx="84" cy="404" rx="2" ry="2" fill="#e8d8d0" opacity="0.9"/><ellipse cx="80" cy="412" rx="5" ry="10" fill="#98706c" opacity="0.6"/></g><path d="M78.00,396.00 C79.67,391.00 82.33,385.95 86.00,383.00 C89.67,380.05 95.00,378.97 100.00,378.30 C105.00,377.63 111.67,377.88 116.00,379.00 C120.33,380.12 123.42,381.50 126.00,385.00 C128.58,388.50 131.00,394.83 131.50,400.00 C132.00,405.17 130.92,411.50 129.00,416.00 C127.08,420.50 124.50,424.42 120.00,427.00 C115.50,429.58 107.67,431.50 102.00,431.50 C96.33,431.50 90.33,430.08 86.00,427.00 C81.67,423.92 77.33,418.17 76.00,413.00 C74.67,407.83 76.33,401.00 78.00,396.00Z" fill="#000" filter="url(#tnoise)" opacity="0.3"/><path d="M78.00,396.00 C79.67,391.00 82.33,385.95 86.00,383.00 C89.67,380.05 95.00,378.97 100.00,378.30 C105.00,377.63 111.67,377.88 116.00,379.00 C120.33,380.12 123.42,381.50 126.00,385.00 C128.58,388.50 131.00,394.83 131.50,400.00 C132.00,405.17 130.92,411.50 129.00,416.00 C127.08,420.50 124.50,424.42 120.00,427.00 C115.50,429.58 107.67,431.50 102.00,431.50 C96.33,431.50 90.33,430.08 86.00,427.00 C81.67,423.92 77.33,418.17 76.00,413.00 C74.67,407.83 76.33,401.00 78.00,396.00Z" fill="#000" filter="url(#tnoise2)" opacity="0.08"/><path d="M78.00,396.00 C79.67,391.00 82.33,385.95 86.00,383.00 C89.67,380.05 95.00,378.97 100.00,378.30 C105.00,377.63 111.67,377.88 116.00,379.00 C120.33,380.12 123.42,381.50 126.00,385.00 C128.58,388.50 131.00,394.83 131.50,400.00 C132.00,405.17 130.92,411.50 129.00,416.00 C127.08,420.50 124.50,424.42 120.00,427.00 C115.50,429.58 107.67,431.50 102.00,431.50 C96.33,431.50 90.33,430.08 86.00,427.00 C81.67,423.92 77.33,418.17 76.00,413.00 C74.67,407.83 76.33,401.00 78.00,396.00Z" fill="none" stroke="#8a6260" stroke-width="5" opacity="0.5" filter="url(#b2)"/></g></g>
<clipPath id="tc2"><path d="M151.00,402.00 C151.83,396.50 154.50,391.58 158.00,388.00 C161.50,384.42 166.67,381.88 172.00,380.50 C177.33,379.12 184.50,378.78 190.00,379.70 C195.50,380.62 201.17,382.45 205.00,386.00 C208.83,389.55 212.00,395.33 213.00,401.00 C214.00,406.67 213.00,414.67 211.00,420.00 C209.00,425.33 205.50,430.08 201.00,433.00 C196.50,435.92 189.83,437.50 184.00,437.50 C178.17,437.50 171.17,435.75 166.00,433.00 C160.83,430.25 155.50,426.17 153.00,421.00 C150.50,415.83 150.17,407.50 151.00,402.00Z"/></clipPath><g filter="url(#tsoft)"><g clip-path="url(#tc2)"><path d="M151.00,402.00 C151.83,396.50 154.50,391.58 158.00,388.00 C161.50,384.42 166.67,381.88 172.00,380.50 C177.33,379.12 184.50,378.78 190.00,379.70 C195.50,380.62 201.17,382.45 205.00,386.00 C208.83,389.55 212.00,395.33 213.00,401.00 C214.00,406.67 213.00,414.67 211.00,420.00 C209.00,425.33 205.50,430.08 201.00,433.00 C196.50,435.92 189.83,437.50 184.00,437.50 C178.17,437.50 171.17,435.75 166.00,433.00 C160.83,430.25 155.50,426.17 153.00,421.00 C150.50,415.83 150.17,407.50 151.00,402.00Z" fill="#b68a8c"/><g filter="url(#b3)"><ellipse cx="156" cy="410" rx="7" ry="17" fill="#8a2c3c" opacity="0.95"/><ellipse cx="166" cy="390" rx="10" ry="8" fill="#a45462" opacity="0.8"/><ellipse cx="188" cy="408" rx="16" ry="16" fill="#caa4a4" opacity="0.8"/><ellipse cx="198" cy="410" rx="5" ry="5" fill="#dcc4bc" opacity="0.8"/><ellipse cx="203" cy="428" rx="9" ry="6" fill="#9c5866" opacity="0.7"/><ellipse cx="176" cy="430" rx="10" ry="5" fill="#b07880" opacity="0.6"/></g><path d="M151.00,402.00 C151.83,396.50 154.50,391.58 158.00,388.00 C161.50,384.42 166.67,381.88 172.00,380.50 C177.33,379.12 184.50,378.78 190.00,379.70 C195.50,380.62 201.17,382.45 205.00,386.00 C208.83,389.55 212.00,395.33 213.00,401.00 C214.00,406.67 213.00,414.67 211.00,420.00 C209.00,425.33 205.50,430.08 201.00,433.00 C196.50,435.92 189.83,437.50 184.00,437.50 C178.17,437.50 171.17,435.75 166.00,433.00 C160.83,430.25 155.50,426.17 153.00,421.00 C150.50,415.83 150.17,407.50 151.00,402.00Z" fill="#000" filter="url(#tnoise)" opacity="0.3"/><path d="M151.00,402.00 C151.83,396.50 154.50,391.58 158.00,388.00 C161.50,384.42 166.67,381.88 172.00,380.50 C177.33,379.12 184.50,378.78 190.00,379.70 C195.50,380.62 201.17,382.45 205.00,386.00 C208.83,389.55 212.00,395.33 213.00,401.00 C214.00,406.67 213.00,414.67 211.00,420.00 C209.00,425.33 205.50,430.08 201.00,433.00 C196.50,435.92 189.83,437.50 184.00,437.50 C178.17,437.50 171.17,435.75 166.00,433.00 C160.83,430.25 155.50,426.17 153.00,421.00 C150.50,415.83 150.17,407.50 151.00,402.00Z" fill="#000" filter="url(#tnoise2)" opacity="0.08"/><path d="M151.00,402.00 C151.83,396.50 154.50,391.58 158.00,388.00 C161.50,384.42 166.67,381.88 172.00,380.50 C177.33,379.12 184.50,378.78 190.00,379.70 C195.50,380.62 201.17,382.45 205.00,386.00 C208.83,389.55 212.00,395.33 213.00,401.00 C214.00,406.67 213.00,414.67 211.00,420.00 C209.00,425.33 205.50,430.08 201.00,433.00 C196.50,435.92 189.83,437.50 184.00,437.50 C178.17,437.50 171.17,435.75 166.00,433.00 C160.83,430.25 155.50,426.17 153.00,421.00 C150.50,415.83 150.17,407.50 151.00,402.00Z" fill="none" stroke="#8a3a48" stroke-width="5" opacity="0.5" filter="url(#b2)"/></g></g>
<clipPath id="tc3"><path d="M230.50,404.00 C230.50,401.83 232.17,398.83 233.00,396.00 C233.83,393.17 234.33,389.17 235.50,387.00 C236.67,384.83 238.25,383.92 240.00,383.00 C241.75,382.08 244.33,383.00 246.00,381.50 C247.67,380.00 248.00,375.67 250.00,374.00 C252.00,372.33 254.67,371.87 258.00,371.50 C261.33,371.13 266.67,371.05 270.00,371.80 C273.33,372.55 275.83,373.47 278.00,376.00 C280.17,378.53 281.67,383.33 283.00,387.00 C284.33,390.67 284.97,393.83 286.00,398.00 C287.03,402.17 289.03,407.67 289.20,412.00 C289.37,416.33 287.87,420.83 287.00,424.00 C286.13,427.17 286.17,429.00 284.00,431.00 C281.83,433.00 278.00,435.00 274.00,436.00 C270.00,437.00 264.33,436.92 260.00,437.00 C255.67,437.08 251.33,437.67 248.00,436.50 C244.67,435.33 241.33,433.08 240.00,430.00 C238.67,426.92 241.17,421.50 240.00,418.00 C238.83,414.50 234.58,411.33 233.00,409.00 C231.42,406.67 230.50,406.17 230.50,404.00Z"/></clipPath><g filter="url(#tsoft)"><g clip-path="url(#tc3)"><path d="M230.50,404.00 C230.50,401.83 232.17,398.83 233.00,396.00 C233.83,393.17 234.33,389.17 235.50,387.00 C236.67,384.83 238.25,383.92 240.00,383.00 C241.75,382.08 244.33,383.00 246.00,381.50 C247.67,380.00 248.00,375.67 250.00,374.00 C252.00,372.33 254.67,371.87 258.00,371.50 C261.33,371.13 266.67,371.05 270.00,371.80 C273.33,372.55 275.83,373.47 278.00,376.00 C280.17,378.53 281.67,383.33 283.00,387.00 C284.33,390.67 284.97,393.83 286.00,398.00 C287.03,402.17 289.03,407.67 289.20,412.00 C289.37,416.33 287.87,420.83 287.00,424.00 C286.13,427.17 286.17,429.00 284.00,431.00 C281.83,433.00 278.00,435.00 274.00,436.00 C270.00,437.00 264.33,436.92 260.00,437.00 C255.67,437.08 251.33,437.67 248.00,436.50 C244.67,435.33 241.33,433.08 240.00,430.00 C238.67,426.92 241.17,421.50 240.00,418.00 C238.83,414.50 234.58,411.33 233.00,409.00 C231.42,406.67 230.50,406.17 230.50,404.00Z" fill="#dab090"/><g filter="url(#b3)"><ellipse cx="265" cy="380" rx="17" ry="10" fill="#f4eacc" opacity="1"/><ellipse cx="266" cy="377" rx="12" ry="6" fill="#f6eed4" opacity="1"/><ellipse cx="276" cy="392" rx="7" ry="9" fill="#f0e0c0" opacity="0.9"/><ellipse cx="271" cy="407" rx="4.5" ry="11" fill="#f6eedc" opacity="0.9"/><ellipse cx="245" cy="400" rx="10" ry="12" fill="#dcae8e" opacity="0.6"/><ellipse cx="262" cy="428" rx="14" ry="7" fill="#d49c88" opacity="0.7"/><ellipse cx="284" cy="418" rx="4" ry="6" fill="#b06060" opacity="0.6"/><ellipse cx="257.7" cy="412.3" rx="3.5" ry="2.8" fill="#4a2a20" opacity="1"/><ellipse cx="250" cy="420" rx="6" ry="5" fill="#d0a084" opacity="0.5"/></g><path d="M230.50,404.00 C230.50,401.83 232.17,398.83 233.00,396.00 C233.83,393.17 234.33,389.17 235.50,387.00 C236.67,384.83 238.25,383.92 240.00,383.00 C241.75,382.08 244.33,383.00 246.00,381.50 C247.67,380.00 248.00,375.67 250.00,374.00 C252.00,372.33 254.67,371.87 258.00,371.50 C261.33,371.13 266.67,371.05 270.00,371.80 C273.33,372.55 275.83,373.47 278.00,376.00 C280.17,378.53 281.67,383.33 283.00,387.00 C284.33,390.67 284.97,393.83 286.00,398.00 C287.03,402.17 289.03,407.67 289.20,412.00 C289.37,416.33 287.87,420.83 287.00,424.00 C286.13,427.17 286.17,429.00 284.00,431.00 C281.83,433.00 278.00,435.00 274.00,436.00 C270.00,437.00 264.33,436.92 260.00,437.00 C255.67,437.08 251.33,437.67 248.00,436.50 C244.67,435.33 241.33,433.08 240.00,430.00 C238.67,426.92 241.17,421.50 240.00,418.00 C238.83,414.50 234.58,411.33 233.00,409.00 C231.42,406.67 230.50,406.17 230.50,404.00Z" fill="#000" filter="url(#tnoise)" opacity="0.3"/><path d="M230.50,404.00 C230.50,401.83 232.17,398.83 233.00,396.00 C233.83,393.17 234.33,389.17 235.50,387.00 C236.67,384.83 238.25,383.92 240.00,383.00 C241.75,382.08 244.33,383.00 246.00,381.50 C247.67,380.00 248.00,375.67 250.00,374.00 C252.00,372.33 254.67,371.87 258.00,371.50 C261.33,371.13 266.67,371.05 270.00,371.80 C273.33,372.55 275.83,373.47 278.00,376.00 C280.17,378.53 281.67,383.33 283.00,387.00 C284.33,390.67 284.97,393.83 286.00,398.00 C287.03,402.17 289.03,407.67 289.20,412.00 C289.37,416.33 287.87,420.83 287.00,424.00 C286.13,427.17 286.17,429.00 284.00,431.00 C281.83,433.00 278.00,435.00 274.00,436.00 C270.00,437.00 264.33,436.92 260.00,437.00 C255.67,437.08 251.33,437.67 248.00,436.50 C244.67,435.33 241.33,433.08 240.00,430.00 C238.67,426.92 241.17,421.50 240.00,418.00 C238.83,414.50 234.58,411.33 233.00,409.00 C231.42,406.67 230.50,406.17 230.50,404.00Z" fill="#000" filter="url(#tnoise2)" opacity="0.08"/><path d="M230.50,404.00 C230.50,401.83 232.17,398.83 233.00,396.00 C233.83,393.17 234.33,389.17 235.50,387.00 C236.67,384.83 238.25,383.92 240.00,383.00 C241.75,382.08 244.33,383.00 246.00,381.50 C247.67,380.00 248.00,375.67 250.00,374.00 C252.00,372.33 254.67,371.87 258.00,371.50 C261.33,371.13 266.67,371.05 270.00,371.80 C273.33,372.55 275.83,373.47 278.00,376.00 C280.17,378.53 281.67,383.33 283.00,387.00 C284.33,390.67 284.97,393.83 286.00,398.00 C287.03,402.17 289.03,407.67 289.20,412.00 C289.37,416.33 287.87,420.83 287.00,424.00 C286.13,427.17 286.17,429.00 284.00,431.00 C281.83,433.00 278.00,435.00 274.00,436.00 C270.00,437.00 264.33,436.92 260.00,437.00 C255.67,437.08 251.33,437.67 248.00,436.50 C244.67,435.33 241.33,433.08 240.00,430.00 C238.67,426.92 241.17,421.50 240.00,418.00 C238.83,414.50 234.58,411.33 233.00,409.00 C231.42,406.67 230.50,406.17 230.50,404.00Z" fill="none" stroke="#c08a74" stroke-width="5" opacity="0.5" filter="url(#b2)"/></g></g>
<clipPath id="tc4"><path d="M315.50,412.00 C315.00,406.33 317.42,400.50 320.00,396.00 C322.58,391.50 326.33,387.37 331.00,385.00 C335.67,382.63 342.50,381.80 348.00,381.80 C353.50,381.80 359.67,382.63 364.00,385.00 C368.33,387.37 371.75,391.83 374.00,396.00 C376.25,400.17 377.83,404.67 377.50,410.00 C377.17,415.33 375.58,423.33 372.00,428.00 C368.42,432.67 361.67,436.25 356.00,438.00 C350.33,439.75 343.50,439.83 338.00,438.50 C332.50,437.17 326.75,434.42 323.00,430.00 C319.25,425.58 316.00,417.67 315.50,412.00Z"/></clipPath><g filter="url(#tsoft)"><g clip-path="url(#tc4)"><path d="M315.50,412.00 C315.00,406.33 317.42,400.50 320.00,396.00 C322.58,391.50 326.33,387.37 331.00,385.00 C335.67,382.63 342.50,381.80 348.00,381.80 C353.50,381.80 359.67,382.63 364.00,385.00 C368.33,387.37 371.75,391.83 374.00,396.00 C376.25,400.17 377.83,404.67 377.50,410.00 C377.17,415.33 375.58,423.33 372.00,428.00 C368.42,432.67 361.67,436.25 356.00,438.00 C350.33,439.75 343.50,439.83 338.00,438.50 C332.50,437.17 326.75,434.42 323.00,430.00 C319.25,425.58 316.00,417.67 315.50,412.00Z" fill="#8e4c58"/><g filter="url(#b3)"><ellipse cx="324" cy="402" rx="12" ry="17" fill="#e6dab4" opacity="0.98"/><ellipse cx="336" cy="388" rx="10" ry="7" fill="#e2d4b0" opacity="0.9"/><ellipse cx="330" cy="412" rx="8" ry="6" fill="#dccaa4" opacity="0.7"/><ellipse cx="352" cy="410" rx="13" ry="11" fill="#c89888" opacity="0.85"/><ellipse cx="360" cy="400" rx="6" ry="5" fill="#b48080" opacity="0.6"/><ellipse cx="370" cy="402" rx="6" ry="10" fill="#7a3644" opacity="0.7"/><ellipse cx="356" cy="419" rx="4" ry="2.5" fill="#24100c" opacity="0.85"/><ellipse cx="323" cy="428" rx="7" ry="6" fill="#5e2030" opacity="0.8"/><ellipse cx="350" cy="433" rx="12" ry="5" fill="#7c3a48" opacity="0.7"/></g><path d="M315.50,412.00 C315.00,406.33 317.42,400.50 320.00,396.00 C322.58,391.50 326.33,387.37 331.00,385.00 C335.67,382.63 342.50,381.80 348.00,381.80 C353.50,381.80 359.67,382.63 364.00,385.00 C368.33,387.37 371.75,391.83 374.00,396.00 C376.25,400.17 377.83,404.67 377.50,410.00 C377.17,415.33 375.58,423.33 372.00,428.00 C368.42,432.67 361.67,436.25 356.00,438.00 C350.33,439.75 343.50,439.83 338.00,438.50 C332.50,437.17 326.75,434.42 323.00,430.00 C319.25,425.58 316.00,417.67 315.50,412.00Z" fill="#000" filter="url(#tnoise)" opacity="0.3"/><path d="M315.50,412.00 C315.00,406.33 317.42,400.50 320.00,396.00 C322.58,391.50 326.33,387.37 331.00,385.00 C335.67,382.63 342.50,381.80 348.00,381.80 C353.50,381.80 359.67,382.63 364.00,385.00 C368.33,387.37 371.75,391.83 374.00,396.00 C376.25,400.17 377.83,404.67 377.50,410.00 C377.17,415.33 375.58,423.33 372.00,428.00 C368.42,432.67 361.67,436.25 356.00,438.00 C350.33,439.75 343.50,439.83 338.00,438.50 C332.50,437.17 326.75,434.42 323.00,430.00 C319.25,425.58 316.00,417.67 315.50,412.00Z" fill="#000" filter="url(#tnoise2)" opacity="0.08"/><path d="M315.50,412.00 C315.00,406.33 317.42,400.50 320.00,396.00 C322.58,391.50 326.33,387.37 331.00,385.00 C335.67,382.63 342.50,381.80 348.00,381.80 C353.50,381.80 359.67,382.63 364.00,385.00 C368.33,387.37 371.75,391.83 374.00,396.00 C376.25,400.17 377.83,404.67 377.50,410.00 C377.17,415.33 375.58,423.33 372.00,428.00 C368.42,432.67 361.67,436.25 356.00,438.00 C350.33,439.75 343.50,439.83 338.00,438.50 C332.50,437.17 326.75,434.42 323.00,430.00 C319.25,425.58 316.00,417.67 315.50,412.00Z" fill="none" stroke="#6a2a38" stroke-width="5" opacity="0.5" filter="url(#b2)"/></g></g>
<clipPath id="tc5"><path d="M75.50,484.00 C76.67,479.83 79.92,476.92 84.00,475.00 C88.08,473.08 94.67,472.75 100.00,472.50 C105.33,472.25 111.83,472.25 116.00,473.50 C120.17,474.75 122.97,476.92 125.00,480.00 C127.03,483.08 128.03,487.83 128.20,492.00 C128.37,496.17 127.70,501.00 126.00,505.00 C124.30,509.00 121.67,513.33 118.00,516.00 C114.33,518.67 108.67,519.77 104.00,521.00 C99.33,522.23 93.83,524.40 90.00,523.40 C86.17,522.40 83.17,518.90 81.00,515.00 C78.83,511.10 77.92,505.17 77.00,500.00 C76.08,494.83 74.33,488.17 75.50,484.00Z"/></clipPath><g filter="url(#tsoft)"><g clip-path="url(#tc5)"><path d="M75.50,484.00 C76.67,479.83 79.92,476.92 84.00,475.00 C88.08,473.08 94.67,472.75 100.00,472.50 C105.33,472.25 111.83,472.25 116.00,473.50 C120.17,474.75 122.97,476.92 125.00,480.00 C127.03,483.08 128.03,487.83 128.20,492.00 C128.37,496.17 127.70,501.00 126.00,505.00 C124.30,509.00 121.67,513.33 118.00,516.00 C114.33,518.67 108.67,519.77 104.00,521.00 C99.33,522.23 93.83,524.40 90.00,523.40 C86.17,522.40 83.17,518.90 81.00,515.00 C78.83,511.10 77.92,505.17 77.00,500.00 C76.08,494.83 74.33,488.17 75.50,484.00Z" fill="#d6b29c"/><g filter="url(#b3)"><ellipse cx="94" cy="484" rx="12" ry="8" fill="#e0c4ac" opacity="0.8"/><ellipse cx="108" cy="500" rx="3" ry="4" fill="#8a4c4c" opacity="0.7"/><ellipse cx="88" cy="515" rx="5" ry="4" fill="#a86e6e" opacity="0.6"/><ellipse cx="86" cy="517" rx="2" ry="2" fill="#f0e8e0" opacity="0.9"/><ellipse cx="120" cy="505" rx="6" ry="10" fill="#d0ac94" opacity="0.6"/><ellipse cx="100" cy="497" rx="8" ry="10" fill="#d4a8a0" opacity="0.5"/></g><path d="M75.50,484.00 C76.67,479.83 79.92,476.92 84.00,475.00 C88.08,473.08 94.67,472.75 100.00,472.50 C105.33,472.25 111.83,472.25 116.00,473.50 C120.17,474.75 122.97,476.92 125.00,480.00 C127.03,483.08 128.03,487.83 128.20,492.00 C128.37,496.17 127.70,501.00 126.00,505.00 C124.30,509.00 121.67,513.33 118.00,516.00 C114.33,518.67 108.67,519.77 104.00,521.00 C99.33,522.23 93.83,524.40 90.00,523.40 C86.17,522.40 83.17,518.90 81.00,515.00 C78.83,511.10 77.92,505.17 77.00,500.00 C76.08,494.83 74.33,488.17 75.50,484.00Z" fill="#000" filter="url(#tnoise)" opacity="0.3"/><path d="M75.50,484.00 C76.67,479.83 79.92,476.92 84.00,475.00 C88.08,473.08 94.67,472.75 100.00,472.50 C105.33,472.25 111.83,472.25 116.00,473.50 C120.17,474.75 122.97,476.92 125.00,480.00 C127.03,483.08 128.03,487.83 128.20,492.00 C128.37,496.17 127.70,501.00 126.00,505.00 C124.30,509.00 121.67,513.33 118.00,516.00 C114.33,518.67 108.67,519.77 104.00,521.00 C99.33,522.23 93.83,524.40 90.00,523.40 C86.17,522.40 83.17,518.90 81.00,515.00 C78.83,511.10 77.92,505.17 77.00,500.00 C76.08,494.83 74.33,488.17 75.50,484.00Z" fill="#000" filter="url(#tnoise2)" opacity="0.08"/><path d="M75.50,484.00 C76.67,479.83 79.92,476.92 84.00,475.00 C88.08,473.08 94.67,472.75 100.00,472.50 C105.33,472.25 111.83,472.25 116.00,473.50 C120.17,474.75 122.97,476.92 125.00,480.00 C127.03,483.08 128.03,487.83 128.20,492.00 C128.37,496.17 127.70,501.00 126.00,505.00 C124.30,509.00 121.67,513.33 118.00,516.00 C114.33,518.67 108.67,519.77 104.00,521.00 C99.33,522.23 93.83,524.40 90.00,523.40 C86.17,522.40 83.17,518.90 81.00,515.00 C78.83,511.10 77.92,505.17 77.00,500.00 C76.08,494.83 74.33,488.17 75.50,484.00Z" fill="none" stroke="#b88e80" stroke-width="5" opacity="0.5" filter="url(#b2)"/></g></g>
<clipPath id="tc6"><path d="M157.00,490.00 C157.33,486.67 157.83,482.50 160.00,480.00 C162.17,477.50 165.67,476.00 170.00,475.00 C174.33,474.00 181.50,473.50 186.00,474.00 C190.50,474.50 194.45,475.50 197.00,478.00 C199.55,480.50 200.97,485.33 201.30,489.00 C201.63,492.67 200.88,497.17 199.00,500.00 C197.12,502.83 194.00,504.73 190.00,506.00 C186.00,507.27 179.67,507.60 175.00,507.60 C170.33,507.60 164.83,507.27 162.00,506.00 C159.17,504.73 158.83,502.67 158.00,500.00 C157.17,497.33 156.67,493.33 157.00,490.00Z"/></clipPath><g filter="url(#tsoft)"><g clip-path="url(#tc6)"><path d="M157.00,490.00 C157.33,486.67 157.83,482.50 160.00,480.00 C162.17,477.50 165.67,476.00 170.00,475.00 C174.33,474.00 181.50,473.50 186.00,474.00 C190.50,474.50 194.45,475.50 197.00,478.00 C199.55,480.50 200.97,485.33 201.30,489.00 C201.63,492.67 200.88,497.17 199.00,500.00 C197.12,502.83 194.00,504.73 190.00,506.00 C186.00,507.27 179.67,507.60 175.00,507.60 C170.33,507.60 164.83,507.27 162.00,506.00 C159.17,504.73 158.83,502.67 158.00,500.00 C157.17,497.33 156.67,493.33 157.00,490.00Z" fill="#dac0a2"/><g filter="url(#b3)"><ellipse cx="166" cy="482" rx="6" ry="5" fill="#c8988c" opacity="0.6"/><ellipse cx="186" cy="492" rx="10" ry="8" fill="#e0c8aa" opacity="0.7"/><ellipse cx="162" cy="498" rx="4" ry="6" fill="#d0b098" opacity="0.5"/></g><path d="M157.00,490.00 C157.33,486.67 157.83,482.50 160.00,480.00 C162.17,477.50 165.67,476.00 170.00,475.00 C174.33,474.00 181.50,473.50 186.00,474.00 C190.50,474.50 194.45,475.50 197.00,478.00 C199.55,480.50 200.97,485.33 201.30,489.00 C201.63,492.67 200.88,497.17 199.00,500.00 C197.12,502.83 194.00,504.73 190.00,506.00 C186.00,507.27 179.67,507.60 175.00,507.60 C170.33,507.60 164.83,507.27 162.00,506.00 C159.17,504.73 158.83,502.67 158.00,500.00 C157.17,497.33 156.67,493.33 157.00,490.00Z" fill="#000" filter="url(#tnoise)" opacity="0.3"/><path d="M157.00,490.00 C157.33,486.67 157.83,482.50 160.00,480.00 C162.17,477.50 165.67,476.00 170.00,475.00 C174.33,474.00 181.50,473.50 186.00,474.00 C190.50,474.50 194.45,475.50 197.00,478.00 C199.55,480.50 200.97,485.33 201.30,489.00 C201.63,492.67 200.88,497.17 199.00,500.00 C197.12,502.83 194.00,504.73 190.00,506.00 C186.00,507.27 179.67,507.60 175.00,507.60 C170.33,507.60 164.83,507.27 162.00,506.00 C159.17,504.73 158.83,502.67 158.00,500.00 C157.17,497.33 156.67,493.33 157.00,490.00Z" fill="#000" filter="url(#tnoise2)" opacity="0.08"/><path d="M157.00,490.00 C157.33,486.67 157.83,482.50 160.00,480.00 C162.17,477.50 165.67,476.00 170.00,475.00 C174.33,474.00 181.50,473.50 186.00,474.00 C190.50,474.50 194.45,475.50 197.00,478.00 C199.55,480.50 200.97,485.33 201.30,489.00 C201.63,492.67 200.88,497.17 199.00,500.00 C197.12,502.83 194.00,504.73 190.00,506.00 C186.00,507.27 179.67,507.60 175.00,507.60 C170.33,507.60 164.83,507.27 162.00,506.00 C159.17,504.73 158.83,502.67 158.00,500.00 C157.17,497.33 156.67,493.33 157.00,490.00Z" fill="none" stroke="#c0a088" stroke-width="5" opacity="0.5" filter="url(#b2)"/></g></g>
<clipPath id="tc7"><path d="M237.00,487.00 C237.00,483.33 238.50,480.67 241.00,479.00 C243.50,477.33 248.50,477.83 252.00,477.00 C255.50,476.17 258.67,475.08 262.00,474.00 C265.33,472.92 268.67,470.83 272.00,470.50 C275.33,470.17 279.17,469.92 282.00,472.00 C284.83,474.08 287.42,478.67 289.00,483.00 C290.58,487.33 292.00,493.50 291.50,498.00 C291.00,502.50 289.58,507.17 286.00,510.00 C282.42,512.83 275.67,514.83 270.00,515.00 C264.33,515.17 256.83,513.33 252.00,511.00 C247.17,508.67 243.50,505.00 241.00,501.00 C238.50,497.00 237.00,490.67 237.00,487.00Z"/></clipPath><g filter="url(#tsoft)"><g clip-path="url(#tc7)"><path d="M237.00,487.00 C237.00,483.33 238.50,480.67 241.00,479.00 C243.50,477.33 248.50,477.83 252.00,477.00 C255.50,476.17 258.67,475.08 262.00,474.00 C265.33,472.92 268.67,470.83 272.00,470.50 C275.33,470.17 279.17,469.92 282.00,472.00 C284.83,474.08 287.42,478.67 289.00,483.00 C290.58,487.33 292.00,493.50 291.50,498.00 C291.00,502.50 289.58,507.17 286.00,510.00 C282.42,512.83 275.67,514.83 270.00,515.00 C264.33,515.17 256.83,513.33 252.00,511.00 C247.17,508.67 243.50,505.00 241.00,501.00 C238.50,497.00 237.00,490.67 237.00,487.00Z" fill="#dabaa0"/><g filter="url(#b3)"><ellipse cx="275" cy="488" rx="4" ry="5" fill="#b06a6a" opacity="0.55"/><ellipse cx="247" cy="487" rx="8" ry="8" fill="#e2c4b0" opacity="0.6"/><ellipse cx="280" cy="500" rx="8" ry="8" fill="#d8b8a4" opacity="0.6"/><ellipse cx="262" cy="506" rx="12" ry="6" fill="#d0a894" opacity="0.5"/></g><path d="M237.00,487.00 C237.00,483.33 238.50,480.67 241.00,479.00 C243.50,477.33 248.50,477.83 252.00,477.00 C255.50,476.17 258.67,475.08 262.00,474.00 C265.33,472.92 268.67,470.83 272.00,470.50 C275.33,470.17 279.17,469.92 282.00,472.00 C284.83,474.08 287.42,478.67 289.00,483.00 C290.58,487.33 292.00,493.50 291.50,498.00 C291.00,502.50 289.58,507.17 286.00,510.00 C282.42,512.83 275.67,514.83 270.00,515.00 C264.33,515.17 256.83,513.33 252.00,511.00 C247.17,508.67 243.50,505.00 241.00,501.00 C238.50,497.00 237.00,490.67 237.00,487.00Z" fill="#000" filter="url(#tnoise)" opacity="0.3"/><path d="M237.00,487.00 C237.00,483.33 238.50,480.67 241.00,479.00 C243.50,477.33 248.50,477.83 252.00,477.00 C255.50,476.17 258.67,475.08 262.00,474.00 C265.33,472.92 268.67,470.83 272.00,470.50 C275.33,470.17 279.17,469.92 282.00,472.00 C284.83,474.08 287.42,478.67 289.00,483.00 C290.58,487.33 292.00,493.50 291.50,498.00 C291.00,502.50 289.58,507.17 286.00,510.00 C282.42,512.83 275.67,514.83 270.00,515.00 C264.33,515.17 256.83,513.33 252.00,511.00 C247.17,508.67 243.50,505.00 241.00,501.00 C238.50,497.00 237.00,490.67 237.00,487.00Z" fill="#000" filter="url(#tnoise2)" opacity="0.08"/><path d="M237.00,487.00 C237.00,483.33 238.50,480.67 241.00,479.00 C243.50,477.33 248.50,477.83 252.00,477.00 C255.50,476.17 258.67,475.08 262.00,474.00 C265.33,472.92 268.67,470.83 272.00,470.50 C275.33,470.17 279.17,469.92 282.00,472.00 C284.83,474.08 287.42,478.67 289.00,483.00 C290.58,487.33 292.00,493.50 291.50,498.00 C291.00,502.50 289.58,507.17 286.00,510.00 C282.42,512.83 275.67,514.83 270.00,515.00 C264.33,515.17 256.83,513.33 252.00,511.00 C247.17,508.67 243.50,505.00 241.00,501.00 C238.50,497.00 237.00,490.67 237.00,487.00Z" fill="none" stroke="#c09a88" stroke-width="5" opacity="0.5" filter="url(#b2)"/></g></g>
<clipPath id="tc8"><path d="M329.00,493.00 C329.33,489.17 329.83,483.50 332.00,480.00 C334.17,476.50 338.00,473.58 342.00,472.00 C346.00,470.42 351.83,469.83 356.00,470.50 C360.17,471.17 364.17,472.92 367.00,476.00 C369.83,479.08 372.25,484.50 373.00,489.00 C373.75,493.50 373.33,499.17 371.50,503.00 C369.67,506.83 364.58,509.33 362.00,512.00 C359.42,514.67 359.00,517.67 356.00,519.00 C353.00,520.33 347.33,521.33 344.00,520.00 C340.67,518.67 338.33,513.83 336.00,511.00 C333.67,508.17 331.17,506.00 330.00,503.00 C328.83,500.00 328.67,496.83 329.00,493.00Z"/></clipPath><g filter="url(#tsoft)"><g clip-path="url(#tc8)"><path d="M329.00,493.00 C329.33,489.17 329.83,483.50 332.00,480.00 C334.17,476.50 338.00,473.58 342.00,472.00 C346.00,470.42 351.83,469.83 356.00,470.50 C360.17,471.17 364.17,472.92 367.00,476.00 C369.83,479.08 372.25,484.50 373.00,489.00 C373.75,493.50 373.33,499.17 371.50,503.00 C369.67,506.83 364.58,509.33 362.00,512.00 C359.42,514.67 359.00,517.67 356.00,519.00 C353.00,520.33 347.33,521.33 344.00,520.00 C340.67,518.67 338.33,513.83 336.00,511.00 C333.67,508.17 331.17,506.00 330.00,503.00 C328.83,500.00 328.67,496.83 329.00,493.00Z" fill="#dcc4a6"/><g filter="url(#b3)"><ellipse cx="352" cy="492" rx="9" ry="8" fill="#caa290" opacity="0.55"/><ellipse cx="345" cy="514" rx="8" ry="4" fill="#e8d8bc" opacity="0.7"/><ellipse cx="336" cy="484" rx="6" ry="6" fill="#e2ccb4" opacity="0.6"/></g><path d="M329.00,493.00 C329.33,489.17 329.83,483.50 332.00,480.00 C334.17,476.50 338.00,473.58 342.00,472.00 C346.00,470.42 351.83,469.83 356.00,470.50 C360.17,471.17 364.17,472.92 367.00,476.00 C369.83,479.08 372.25,484.50 373.00,489.00 C373.75,493.50 373.33,499.17 371.50,503.00 C369.67,506.83 364.58,509.33 362.00,512.00 C359.42,514.67 359.00,517.67 356.00,519.00 C353.00,520.33 347.33,521.33 344.00,520.00 C340.67,518.67 338.33,513.83 336.00,511.00 C333.67,508.17 331.17,506.00 330.00,503.00 C328.83,500.00 328.67,496.83 329.00,493.00Z" fill="#000" filter="url(#tnoise)" opacity="0.3"/><path d="M329.00,493.00 C329.33,489.17 329.83,483.50 332.00,480.00 C334.17,476.50 338.00,473.58 342.00,472.00 C346.00,470.42 351.83,469.83 356.00,470.50 C360.17,471.17 364.17,472.92 367.00,476.00 C369.83,479.08 372.25,484.50 373.00,489.00 C373.75,493.50 373.33,499.17 371.50,503.00 C369.67,506.83 364.58,509.33 362.00,512.00 C359.42,514.67 359.00,517.67 356.00,519.00 C353.00,520.33 347.33,521.33 344.00,520.00 C340.67,518.67 338.33,513.83 336.00,511.00 C333.67,508.17 331.17,506.00 330.00,503.00 C328.83,500.00 328.67,496.83 329.00,493.00Z" fill="#000" filter="url(#tnoise2)" opacity="0.08"/><path d="M329.00,493.00 C329.33,489.17 329.83,483.50 332.00,480.00 C334.17,476.50 338.00,473.58 342.00,472.00 C346.00,470.42 351.83,469.83 356.00,470.50 C360.17,471.17 364.17,472.92 367.00,476.00 C369.83,479.08 372.25,484.50 373.00,489.00 C373.75,493.50 373.33,499.17 371.50,503.00 C369.67,506.83 364.58,509.33 362.00,512.00 C359.42,514.67 359.00,517.67 356.00,519.00 C353.00,520.33 347.33,521.33 344.00,520.00 C340.67,518.67 338.33,513.83 336.00,511.00 C333.67,508.17 331.17,506.00 330.00,503.00 C328.83,500.00 328.67,496.83 329.00,493.00Z" fill="none" stroke="#c8aa94" stroke-width="5" opacity="0.5" filter="url(#b2)"/></g></g>
<text x="102.50" y="451.80" font-size="12.6" text-anchor="middle" font-weight="normal" fill="#222" font-family='"Liberation Serif", serif' stroke="#222" stroke-width="0.18">1.18g</text>
<text x="186.30" y="451.50" font-size="12.6" text-anchor="middle" font-weight="normal" fill="#222" font-family='"Liberation Serif", serif' stroke="#222" stroke-width="0.18">1.26g</text>
<text x="264.50" y="451.50" font-size="12.6" text-anchor="middle" font-weight="normal" fill="#222" font-family='"Liberation Serif", serif' stroke="#222" stroke-width="0.18">1.27g</text>
<text x="348.00" y="451.50" font-size="12.6" text-anchor="middle" font-weight="normal" fill="#222" font-family='"Liberation Serif", serif' stroke="#222" stroke-width="0.18">1.11g</text>
<text x="105.70" y="538.00" font-size="12.6" text-anchor="middle" font-weight="normal" fill="#222" font-family='"Liberation Serif", serif' stroke="#222" stroke-width="0.18">0.49g</text>
<text x="184.40" y="537.20" font-size="12.6" text-anchor="middle" font-weight="normal" fill="#222" font-family='"Liberation Serif", serif' stroke="#222" stroke-width="0.18">0.41g</text>
<text x="267.10" y="537.20" font-size="12.6" text-anchor="middle" font-weight="normal" fill="#222" font-family='"Liberation Serif", serif' stroke="#222" stroke-width="0.18">0.66g</text>
<text x="350.60" y="537.20" font-size="12.6" text-anchor="middle" font-weight="normal" fill="#222" font-family='"Liberation Serif", serif' stroke="#222" stroke-width="0.18">0.41g</text>
<text x="472.60" y="332.70" font-size="19.8" text-anchor="start" font-weight="normal" fill="#000" font-family='"Liberation Sans", sans-serif' >D</text>
<line x1="535.90" y1="326.90" x2="535.90" y2="540.80" stroke="#151515" stroke-width="1.4" /><line x1="531.30" y1="327.50" x2="535.90" y2="327.50" stroke="#151515" stroke-width="1.3" /><text x="0" y="0" transform="translate(524.20,333.40) scale(0.85,1)" font-size="16.8" text-anchor="end" font-weight="normal" fill="#111" font-family='"Liberation Sans", sans-serif' >1.4</text><line x1="531.30" y1="357.90" x2="535.90" y2="357.90" stroke="#151515" stroke-width="1.3" /><text x="0" y="0" transform="translate(524.20,363.80) scale(0.85,1)" font-size="16.8" text-anchor="end" font-weight="normal" fill="#111" font-family='"Liberation Sans", sans-serif' >1.2</text><line x1="531.30" y1="388.20" x2="535.90" y2="388.20" stroke="#151515" stroke-width="1.3" /><text x="0" y="0" transform="translate(524.20,394.10) scale(0.85,1)" font-size="16.8" text-anchor="end" font-weight="normal" fill="#111" font-family='"Liberation Sans", sans-serif' >1</text><line x1="531.30" y1="418.50" x2="535.90" y2="418.50" stroke="#151515" stroke-width="1.3" /><text x="0" y="0" transform="translate(524.20,424.40) scale(0.85,1)" font-size="16.8" text-anchor="end" font-weight="normal" fill="#111" font-family='"Liberation Sans", sans-serif' >0.8</text><line x1="531.30" y1="448.90" x2="535.90" y2="448.90" stroke="#151515" stroke-width="1.3" /><text x="0" y="0" transform="translate(524.20,454.80) scale(0.85,1)" font-size="16.8" text-anchor="end" font-weight="normal" fill="#111" font-family='"Liberation Sans", sans-serif' >0.6</text><line x1="531.30" y1="479.20" x2="535.90" y2="479.20" stroke="#151515" stroke-width="1.3" /><text x="0" y="0" transform="translate(524.20,485.10) scale(0.85,1)" font-size="16.8" text-anchor="end" font-weight="normal" fill="#111" font-family='"Liberation Sans", sans-serif' >0.4</text><line x1="531.30" y1="509.60" x2="535.90" y2="509.60" stroke="#151515" stroke-width="1.3" /><text x="0" y="0" transform="translate(524.20,515.50) scale(0.85,1)" font-size="16.8" text-anchor="end" font-weight="normal" fill="#111" font-family='"Liberation Sans", sans-serif' >0.2</text><line x1="531.30" y1="540.20" x2="535.90" y2="540.20" stroke="#151515" stroke-width="1.3" /><text x="0" y="0" transform="translate(524.20,546.10) scale(0.85,1)" font-size="16.8" text-anchor="end" font-weight="normal" fill="#111" font-family='"Liberation Sans", sans-serif' >0</text>
<text x="0" y="0" transform="translate(491.60,445.20) rotate(-90)" font-size="16" text-anchor="middle" dominant-baseline="central" font-weight="normal" fill="#000" font-family='"Liberation Sans", sans-serif' >Tumors weight (gr)</text>
<line x1="577.35" y1="368.70" x2="577.35" y2="371.50" stroke="#3a0a0a" stroke-width="1.1" /><line x1="573.00" y1="371.50" x2="582.30" y2="371.50" stroke="#3a0a0a" stroke-width="1.1" /><rect x="563.40" y="347.60" width="27.90" height="21.10" fill="#fe2210" stroke="#3a0a0a" stroke-width="1.1"/><line x1="563.40" y1="354.40" x2="591.30" y2="354.40" stroke="#3a0a0a" stroke-width="1.3" /><line x1="572.10" y1="352.00" x2="582.50" y2="362.40" stroke="#3a0a0a" stroke-width="1.1" /><line x1="572.10" y1="362.40" x2="582.50" y2="352.00" stroke="#3a0a0a" stroke-width="1.1" />
<line x1="606.80" y1="446.60" x2="606.80" y2="439.60" stroke="#0c1a33" stroke-width="1.1" /><line x1="602.70" y1="439.60" x2="612.40" y2="439.60" stroke="#0c1a33" stroke-width="1.1" /><rect x="593.00" y="446.60" width="27.60" height="31.50" fill="#3d7ad0" stroke="#0c1a33" stroke-width="1.1"/><line x1="593.00" y1="472.90" x2="620.60" y2="472.90" stroke="#0c1a33" stroke-width="1.3" /><line x1="602.20" y1="460.30" x2="612.80" y2="470.90" stroke="#0c1a33" stroke-width="1.1" /><line x1="602.20" y1="470.90" x2="612.80" y2="460.30" stroke="#0c1a33" stroke-width="1.1" />
<text x="573.20" y="399.20" font-size="12.3" text-anchor="middle" font-weight="normal" fill="#1a1a1a" font-family='"Liberation Sans", sans-serif' letter-spacing="0.35">DMSO</text>
<text x="607.50" y="502.90" font-size="12.3" text-anchor="middle" font-weight="normal" fill="#1a1a1a" font-family='"Liberation Sans", sans-serif' letter-spacing="0.35">NS1643</text>
<text x="607.60" y="433.70" font-size="19" text-anchor="middle" font-weight="normal" fill="#000" font-family='"Liberation Sans", sans-serif' >*</text>
<text x="8.00" y="627.60" font-size="19.8" text-anchor="start" font-weight="normal" fill="#000" font-family='"Liberation Sans", sans-serif' >E</text>
<text x="90.60" y="637.90" font-size="15.5" text-anchor="middle" font-weight="normal" fill="#000" font-family='"Liberation Sans", sans-serif' >Ki-67</text>
<clipPath id="clip11"><rect x="27.6" y="647.1" width="114.5" height="114.3"/></clipPath><defs><filter id="bi11" x="-5%" y="-5%" width="110%" height="110%"><feGaussianBlur stdDeviation="0.7"/></filter><radialGradient id="g11_0" cx="0.45" cy="0.45" r="0.6"><stop offset="0" stop-color="#966450"/><stop offset="0.5" stop-color="#966450"/><stop offset="0.85" stop-color="#5a3420"/><stop offset="1" stop-color="#5a3420"/></radialGradient><radialGradient id="g11_1" cx="0.45" cy="0.45" r="0.6"><stop offset="0" stop-color="#a88a7a"/><stop offset="0.5" stop-color="#a88a7a"/><stop offset="0.85" stop-color="#765846"/><stop offset="1" stop-color="#765846"/></radialGradient><radialGradient id="g11_2" cx="0.45" cy="0.45" r="0.6"><stop offset="0" stop-color="#8c9eb2"/><stop offset="0.5" stop-color="#8c9eb2"/><stop offset="0.85" stop-color="#64788e"/><stop offset="1" stop-color="#64788e"/></radialGradient><radialGradient id="g11_3" cx="0.45" cy="0.45" r="0.6"><stop offset="0" stop-color="#a2aeba"/><stop offset="0.5" stop-color="#a2aeba"/><stop offset="0.85" stop-color="#7e8e9e"/><stop offset="1" stop-color="#7e8e9e"/></radialGradient><radialGradient id="g11_4" cx="0.45" cy="0.45" r="0.6"><stop offset="0" stop-color="#824830"/><stop offset="0.5" stop-color="#824830"/><stop offset="0.85" stop-color="#4e2812"/><stop offset="1" stop-color="#4e2812"/></radialGradient><radialGradient id="g11_5" cx="0.45" cy="0.45" r="0.6"><stop offset="0" stop-color="#a49898"/><stop offset="0.5" stop-color="#a49898"/><stop offset="0.85" stop-color="#766a6a"/><stop offset="1" stop-color="#766a6a"/></radialGradient></defs><g clip-path="url(#clip11)"><rect x="27.6" y="647.1" width="114.5" height="114.3" fill="#c8d4d2"/><g filter="url(#b3)"><ellipse cx="79.4" cy="711.1" rx="13.4" ry="7.3" fill="#e0d4c4" opacity="0.5"/><ellipse cx="125.5" cy="668.8" rx="12.4" ry="7.4" fill="#e0d4c4" opacity="0.5"/><ellipse cx="118.4" cy="657.9" rx="8.4" ry="5.5" fill="#e0d4c4" opacity="0.5"/><ellipse cx="100.2" cy="715.2" rx="9.2" ry="7.3" fill="#e0d4c4" opacity="0.5"/><ellipse cx="98.1" cy="665.1" rx="6.1" ry="7.6" fill="#dcd0c0" opacity="0.5"/><ellipse cx="31.7" cy="747.6" rx="10.8" ry="8.9" fill="#cad8d8" opacity="0.5"/><ellipse cx="78.0" cy="743.4" rx="10.2" ry="8.2" fill="#cad8d8" opacity="0.5"/><ellipse cx="28.1" cy="656.8" rx="11.2" ry="7.0" fill="#e0d4c4" opacity="0.5"/><ellipse cx="141.6" cy="743.1" rx="11.7" ry="6.6" fill="#dcd0c0" opacity="0.5"/><ellipse cx="86.3" cy="650.5" rx="10.5" ry="5.5" fill="#dcd0c0" opacity="0.5"/><ellipse cx="124.5" cy="691.3" rx="13.7" ry="9.2" fill="#dcd0c0" opacity="0.5"/><ellipse cx="52.0" cy="753.1" rx="6.4" ry="6.9" fill="#e0d4c4" opacity="0.5"/><ellipse cx="73.1" cy="655.4" rx="11.0" ry="8.9" fill="#cad8d8" opacity="0.5"/><ellipse cx="66.2" cy="682.7" rx="6.1" ry="7.1" fill="#dcd0c0" opacity="0.5"/></g><g filter="url(#bi11)"><ellipse cx="24.7" cy="648.7" rx="3.1" ry="2.3" transform="rotate(88 24.7 648.7)" fill="url(#g11_3)"/><ellipse cx="25.1" cy="656.0" rx="4.5" ry="3.7" transform="rotate(75 25.1 656.0)" fill="url(#g11_1)"/><ellipse cx="26.8" cy="668.6" rx="3.1" ry="2.7" transform="rotate(175 26.8 668.6)" fill="url(#g11_2)"/><ellipse cx="31.5" cy="669.7" rx="3.4" ry="3.0" transform="rotate(108 31.5 669.7)" fill="url(#g11_2)"/><ellipse cx="24.0" cy="679.5" rx="3.7" ry="2.3" transform="rotate(110 24.0 679.5)" fill="url(#g11_4)"/><ellipse cx="26.7" cy="687.7" rx="3.4" ry="2.7" transform="rotate(3 26.7 687.7)" fill="url(#g11_1)"/><ellipse cx="28.6" cy="696.9" rx="3.9" ry="3.3" transform="rotate(24 28.6 696.9)" fill="url(#g11_1)"/><ellipse cx="28.6" cy="707.2" rx="3.4" ry="2.7" transform="rotate(131 28.6 707.2)" fill="url(#g11_0)"/><ellipse cx="28.6" cy="717.9" rx="4.1" ry="3.0" transform="rotate(87 28.6 717.9)" fill="url(#g11_0)"/><ellipse cx="24.0" cy="723.2" rx="3.8" ry="2.6" transform="rotate(133 24.0 723.2)" fill="url(#g11_1)"/><ellipse cx="27.0" cy="738.3" rx="3.8" ry="2.9" transform="rotate(167 27.0 738.3)" fill="url(#g11_5)"/><ellipse cx="24.6" cy="743.7" rx="4.0" ry="3.2" transform="rotate(13 24.6 743.7)" fill="url(#g11_0)"/><ellipse cx="30.9" cy="754.7" rx="3.2" ry="2.4" transform="rotate(45 30.9 754.7)" fill="url(#g11_0)"/><ellipse cx="25.9" cy="761.7" rx="4.5" ry="2.9" transform="rotate(25 25.9 761.7)" fill="url(#g11_2)"/><ellipse cx="35.1" cy="648.9" rx="3.8" ry="3.4" transform="rotate(106 35.1 648.9)" fill="url(#g11_5)"/><ellipse cx="36.2" cy="654.8" rx="3.5" ry="2.2" transform="rotate(108 36.2 654.8)" fill="url(#g11_0)"/><ellipse cx="33.0" cy="663.2" rx="3.3" ry="2.1" transform="rotate(82 33.0 663.2)" fill="url(#g11_1)"/><ellipse cx="32.8" cy="677.0" rx="4.1" ry="2.7" transform="rotate(173 32.8 677.0)" fill="url(#g11_1)"/><ellipse cx="33.1" cy="682.1" rx="3.2" ry="2.8" transform="rotate(170 33.1 682.1)" fill="url(#g11_0)"/><ellipse cx="36.4" cy="687.3" rx="4.0" ry="2.9" transform="rotate(2 36.4 687.3)" fill="url(#g11_0)"/><ellipse cx="33.2" cy="696.9" rx="3.5" ry="2.5" transform="rotate(59 33.2 696.9)" fill="url(#g11_5)"/><ellipse cx="37.9" cy="708.4" rx="3.7" ry="2.9" transform="rotate(93 37.9 708.4)" fill="url(#g11_2)"/><ellipse cx="34.9" cy="714.2" rx="3.1" ry="2.8" transform="rotate(20 34.9 714.2)" fill="url(#g11_3)"/><ellipse cx="37.7" cy="726.2" rx="4.4" ry="3.1" transform="rotate(26 37.7 726.2)" fill="url(#g11_2)"/><ellipse cx="36.5" cy="737.1" rx="3.6" ry="3.2" transform="rotate(90 36.5 737.1)" fill="url(#g11_0)"/><ellipse cx="35.6" cy="741.9" rx="4.0" ry="3.4" transform="rotate(136 35.6 741.9)" fill="url(#g11_0)"/><ellipse cx="34.1" cy="750.5" rx="4.4" ry="3.0" transform="rotate(24 34.1 750.5)" fill="url(#g11_1)"/><ellipse cx="39.5" cy="757.9" rx="3.2" ry="2.9" transform="rotate(148 39.5 757.9)" fill="url(#g11_0)"/><ellipse cx="45.0" cy="650.5" rx="4.3" ry="3.1" transform="rotate(94 45.0 650.5)" fill="url(#g11_3)"/><ellipse cx="46.9" cy="658.6" rx="4.0" ry="2.8" transform="rotate(149 46.9 658.6)" fill="url(#g11_1)"/><ellipse cx="46.1" cy="666.1" rx="3.5" ry="2.5" transform="rotate(117 46.1 666.1)" fill="url(#g11_2)"/><ellipse cx="46.3" cy="672.7" rx="3.4" ry="2.8" transform="rotate(48 46.3 672.7)" fill="url(#g11_3)"/><ellipse cx="47.6" cy="686.1" rx="3.3" ry="2.1" transform="rotate(96 47.6 686.1)" fill="url(#g11_2)"/><ellipse cx="44.2" cy="687.8" rx="3.4" ry="2.9" transform="rotate(46 44.2 687.8)" fill="url(#g11_3)"/><ellipse cx="47.2" cy="700.2" rx="3.2" ry="2.2" transform="rotate(140 47.2 700.2)" fill="url(#g11_2)"/><ellipse cx="48.7" cy="708.7" rx="4.5" ry="3.0" transform="rotate(153 48.7 708.7)" fill="url(#g11_3)"/><ellipse cx="43.0" cy="716.8" rx="4.3" ry="3.2" transform="rotate(81 43.0 716.8)" fill="url(#g11_0)"/><ellipse cx="48.3" cy="722.4" rx="3.9" ry="3.1" transform="rotate(90 48.3 722.4)" fill="url(#g11_4)"/><ellipse cx="44.0" cy="733.7" rx="4.5" ry="2.9" transform="rotate(156 44.0 733.7)" fill="url(#g11_3)"/><ellipse cx="48.6" cy="740.9" rx="3.4" ry="2.5" transform="rotate(16 48.6 740.9)" fill="url(#g11_1)"/><ellipse cx="49.0" cy="756.1" rx="3.5" ry="2.8" transform="rotate(3 49.0 756.1)" fill="url(#g11_2)"/><ellipse cx="41.5" cy="760.2" rx="3.7" ry="2.6" transform="rotate(166 41.5 760.2)" fill="url(#g11_0)"/><ellipse cx="56.9" cy="646.5" rx="3.1" ry="2.4" transform="rotate(124 56.9 646.5)" fill="url(#g11_5)"/><ellipse cx="53.8" cy="659.9" rx="4.4" ry="3.3" transform="rotate(122 53.8 659.9)" fill="url(#g11_2)"/><ellipse cx="57.0" cy="665.3" rx="4.1" ry="3.4" transform="rotate(79 57.0 665.3)" fill="url(#g11_2)"/><ellipse cx="56.6" cy="674.0" rx="3.3" ry="2.5" transform="rotate(163 56.6 674.0)" fill="url(#g11_1)"/><ellipse cx="55.4" cy="685.9" rx="4.3" ry="3.4" transform="rotate(55 55.4 685.9)" fill="url(#g11_0)"/><ellipse cx="54.4" cy="689.3" rx="3.8" ry="2.8" transform="rotate(21 54.4 689.3)" fill="url(#g11_0)"/><ellipse cx="53.0" cy="700.2" rx="3.2" ry="2.8" transform="rotate(98 53.0 700.2)" fill="url(#g11_5)"/><ellipse cx="51.0" cy="705.5" rx="3.3" ry="2.9" transform="rotate(83 51.0 705.5)" fill="url(#g11_5)"/><ellipse cx="56.4" cy="716.7" rx="3.4" ry="2.6" transform="rotate(61 56.4 716.7)" fill="url(#g11_5)"/><ellipse cx="57.5" cy="729.6" rx="3.8" ry="2.5" transform="rotate(76 57.5 729.6)" fill="url(#g11_0)"/><ellipse cx="52.1" cy="736.7" rx="4.5" ry="2.8" transform="rotate(28 52.1 736.7)" fill="url(#g11_0)"/><ellipse cx="52.3" cy="745.7" rx="3.4" ry="2.6" transform="rotate(90 52.3 745.7)" fill="url(#g11_2)"/><ellipse cx="56.8" cy="753.7" rx="4.1" ry="3.4" transform="rotate(158 56.8 753.7)" fill="url(#g11_0)"/><ellipse cx="55.1" cy="764.1" rx="4.0" ry="3.1" transform="rotate(155 55.1 764.1)" fill="url(#g11_2)"/><ellipse cx="60.6" cy="644.9" rx="3.9" ry="3.0" transform="rotate(25 60.6 644.9)" fill="url(#g11_5)"/><ellipse cx="63.8" cy="654.7" rx="3.4" ry="2.6" transform="rotate(160 63.8 654.7)" fill="url(#g11_0)"/><ellipse cx="65.0" cy="662.3" rx="3.2" ry="2.8" transform="rotate(24 65.0 662.3)" fill="url(#g11_0)"/><ellipse cx="61.9" cy="673.0" rx="4.4" ry="3.4" transform="rotate(127 61.9 673.0)" fill="url(#g11_0)"/><ellipse cx="63.8" cy="684.7" rx="3.2" ry="2.5" transform="rotate(64 63.8 684.7)" fill="url(#g11_4)"/><ellipse cx="61.7" cy="692.7" rx="4.0" ry="2.9" transform="rotate(180 61.7 692.7)" fill="url(#g11_4)"/><ellipse cx="65.2" cy="699.8" rx="3.1" ry="2.6" transform="rotate(110 65.2 699.8)" fill="url(#g11_5)"/><ellipse cx="62.7" cy="706.2" rx="3.3" ry="2.2" transform="rotate(28 62.7 706.2)" fill="url(#g11_1)"/><ellipse cx="64.2" cy="718.1" rx="3.3" ry="2.7" transform="rotate(14 64.2 718.1)" fill="url(#g11_0)"/><ellipse cx="61.9" cy="725.7" rx="3.6" ry="2.4" transform="rotate(67 61.9 725.7)" fill="url(#g11_2)"/><ellipse cx="59.2" cy="732.7" rx="3.7" ry="2.6" transform="rotate(67 59.2 732.7)" fill="url(#g11_5)"/><ellipse cx="63.6" cy="740.7" rx="4.2" ry="3.0" transform="rotate(15 63.6 740.7)" fill="url(#g11_4)"/><ellipse cx="65.8" cy="755.9" rx="4.4" ry="3.4" transform="rotate(34 65.8 755.9)" fill="url(#g11_2)"/><ellipse cx="61.5" cy="763.6" rx="3.5" ry="2.3" transform="rotate(134 61.5 763.6)" fill="url(#g11_0)"/><ellipse cx="75.0" cy="644.2" rx="3.6" ry="2.7" transform="rotate(67 75.0 644.2)" fill="url(#g11_2)"/><ellipse cx="69.1" cy="653.6" rx="3.4" ry="2.8" transform="rotate(54 69.1 653.6)" fill="url(#g11_0)"/><ellipse cx="74.7" cy="668.6" rx="4.4" ry="2.8" transform="rotate(49 74.7 668.6)" fill="url(#g11_5)"/><ellipse cx="70.0" cy="671.3" rx="3.7" ry="2.5" transform="rotate(14 70.0 671.3)" fill="url(#g11_2)"/><ellipse cx="71.6" cy="680.0" rx="3.3" ry="2.4" transform="rotate(103 71.6 680.0)" fill="url(#g11_0)"/><ellipse cx="68.5" cy="689.0" rx="3.7" ry="2.8" transform="rotate(137 68.5 689.0)" fill="url(#g11_2)"/><ellipse cx="67.7" cy="698.0" rx="3.5" ry="2.5" transform="rotate(97 67.7 698.0)" fill="url(#g11_2)"/><ellipse cx="71.8" cy="711.4" rx="3.2" ry="2.4" transform="rotate(116 71.8 711.4)" fill="url(#g11_2)"/><ellipse cx="72.9" cy="721.1" rx="3.6" ry="3.2" transform="rotate(69 72.9 721.1)" fill="url(#g11_5)"/><ellipse cx="74.4" cy="726.6" rx="3.9" ry="2.9" transform="rotate(89 74.4 726.6)" fill="url(#g11_1)"/><ellipse cx="70.8" cy="733.6" rx="3.8" ry="2.9" transform="rotate(49 70.8 733.6)" fill="url(#g11_5)"/><ellipse cx="72.9" cy="745.9" rx="3.1" ry="2.6" transform="rotate(105 72.9 745.9)" fill="url(#g11_2)"/><ellipse cx="70.9" cy="754.2" rx="3.2" ry="2.2" transform="rotate(72 70.9 754.2)" fill="url(#g11_2)"/><ellipse cx="73.4" cy="760.1" rx="4.2" ry="2.9" transform="rotate(129 73.4 760.1)" fill="url(#g11_1)"/><ellipse cx="82.4" cy="643.5" rx="3.2" ry="2.7" transform="rotate(164 82.4 643.5)" fill="url(#g11_0)"/><ellipse cx="84.0" cy="653.9" rx="4.1" ry="2.6" transform="rotate(75 84.0 653.9)" fill="url(#g11_0)"/><ellipse cx="83.3" cy="663.6" rx="3.3" ry="2.4" transform="rotate(25 83.3 663.6)" fill="url(#g11_2)"/><ellipse cx="81.2" cy="674.6" rx="4.1" ry="2.9" transform="rotate(134 81.2 674.6)" fill="url(#g11_4)"/><ellipse cx="77.5" cy="680.6" rx="3.3" ry="2.5" transform="rotate(91 77.5 680.6)" fill="url(#g11_1)"/><ellipse cx="80.5" cy="693.8" rx="3.5" ry="2.8" transform="rotate(131 80.5 693.8)" fill="url(#g11_3)"/><ellipse cx="77.9" cy="698.1" rx="3.4" ry="3.0" transform="rotate(90 77.9 698.1)" fill="url(#g11_3)"/><ellipse cx="78.0" cy="710.2" rx="4.0" ry="2.5" transform="rotate(47 78.0 710.2)" fill="url(#g11_0)"/><ellipse cx="76.7" cy="715.3" rx="3.5" ry="2.9" transform="rotate(164 76.7 715.3)" fill="url(#g11_0)"/><ellipse cx="78.3" cy="730.1" rx="3.8" ry="2.7" transform="rotate(61 78.3 730.1)" fill="url(#g11_2)"/><ellipse cx="77.5" cy="738.0" rx="4.2" ry="3.1" transform="rotate(148 77.5 738.0)" fill="url(#g11_4)"/><ellipse cx="82.5" cy="743.5" rx="4.1" ry="3.0" transform="rotate(27 82.5 743.5)" fill="url(#g11_0)"/><ellipse cx="83.1" cy="753.5" rx="3.5" ry="2.9" transform="rotate(149 83.1 753.5)" fill="url(#g11_0)"/><ellipse cx="81.6" cy="762.1" rx="3.7" ry="2.7" transform="rotate(98 81.6 762.1)" fill="url(#g11_2)"/><ellipse cx="89.7" cy="649.6" rx="3.7" ry="3.2" transform="rotate(2 89.7 649.6)" fill="url(#g11_1)"/><ellipse cx="92.5" cy="656.7" rx="4.1" ry="3.1" transform="rotate(138 92.5 656.7)" fill="url(#g11_1)"/><ellipse cx="92.2" cy="662.5" rx="4.0" ry="2.9" transform="rotate(163 92.2 662.5)" fill="url(#g11_1)"/><ellipse cx="88.7" cy="674.3" rx="4.4" ry="3.5" transform="rotate(50 88.7 674.3)" fill="url(#g11_2)"/><ellipse cx="93.1" cy="682.0" rx="3.4" ry="3.0" transform="rotate(131 93.1 682.0)" fill="url(#g11_2)"/><ellipse cx="85.9" cy="693.7" rx="3.1" ry="2.5" transform="rotate(105 85.9 693.7)" fill="url(#g11_3)"/><ellipse cx="91.1" cy="698.9" rx="3.6" ry="2.4" transform="rotate(106 91.1 698.9)" fill="url(#g11_0)"/><ellipse cx="86.0" cy="708.3" rx="4.3" ry="3.6" transform="rotate(40 86.0 708.3)" fill="url(#g11_0)"/><ellipse cx="86.5" cy="715.9" rx="3.1" ry="2.7" transform="rotate(76 86.5 715.9)" fill="url(#g11_2)"/><ellipse cx="87.7" cy="726.7" rx="3.6" ry="2.5" transform="rotate(19 87.7 726.7)" fill="url(#g11_1)"/><ellipse cx="85.4" cy="736.3" rx="3.2" ry="2.7" transform="rotate(76 85.4 736.3)" fill="url(#g11_3)"/><ellipse cx="89.1" cy="747.1" rx="3.6" ry="2.7" transform="rotate(63 89.1 747.1)" fill="url(#g11_4)"/><ellipse cx="87.9" cy="749.8" rx="3.8" ry="3.2" transform="rotate(13 87.9 749.8)" fill="url(#g11_2)"/><ellipse cx="85.6" cy="763.5" rx="4.5" ry="3.2" transform="rotate(1 85.6 763.5)" fill="url(#g11_1)"/><ellipse cx="94.7" cy="646.8" rx="3.9" ry="2.4" transform="rotate(65 94.7 646.8)" fill="url(#g11_0)"/><ellipse cx="94.9" cy="659.3" rx="4.4" ry="3.0" transform="rotate(29 94.9 659.3)" fill="url(#g11_2)"/><ellipse cx="99.5" cy="663.3" rx="3.6" ry="2.8" transform="rotate(49 99.5 663.3)" fill="url(#g11_4)"/><ellipse cx="97.8" cy="675.3" rx="3.5" ry="2.3" transform="rotate(166 97.8 675.3)" fill="url(#g11_5)"/><ellipse cx="100.0" cy="678.5" rx="3.8" ry="3.2" transform="rotate(56 100.0 678.5)" fill="url(#g11_0)"/><ellipse cx="96.9" cy="691.8" rx="3.9" ry="3.0" transform="rotate(92 96.9 691.8)" fill="url(#g11_2)"/><ellipse cx="101.1" cy="699.1" rx="4.4" ry="3.9" transform="rotate(113 101.1 699.1)" fill="url(#g11_5)"/><ellipse cx="98.4" cy="711.5" rx="3.8" ry="2.8" transform="rotate(172 98.4 711.5)" fill="url(#g11_3)"/><ellipse cx="100.2" cy="714.3" rx="4.3" ry="3.2" transform="rotate(39 100.2 714.3)" fill="url(#g11_0)"/><ellipse cx="100.4" cy="730.1" rx="4.2" ry="3.5" transform="rotate(142 100.4 730.1)" fill="url(#g11_0)"/><ellipse cx="101.4" cy="738.2" rx="4.3" ry="3.8" transform="rotate(81 101.4 738.2)" fill="url(#g11_0)"/><ellipse cx="97.4" cy="746.9" rx="3.7" ry="3.1" transform="rotate(26 97.4 746.9)" fill="url(#g11_5)"/><ellipse cx="100.5" cy="749.8" rx="4.1" ry="3.3" transform="rotate(93 100.5 749.8)" fill="url(#g11_0)"/><ellipse cx="98.6" cy="759.0" rx="3.4" ry="3.0" transform="rotate(27 98.6 759.0)" fill="url(#g11_0)"/><ellipse cx="105.6" cy="648.0" rx="3.8" ry="3.3" transform="rotate(125 105.6 648.0)" fill="url(#g11_0)"/><ellipse cx="108.8" cy="656.2" rx="3.8" ry="2.4" transform="rotate(34 108.8 656.2)" fill="url(#g11_0)"/><ellipse cx="108.2" cy="666.9" rx="3.7" ry="2.3" transform="rotate(74 108.2 666.9)" fill="url(#g11_2)"/><ellipse cx="110.3" cy="677.2" rx="3.5" ry="2.6" transform="rotate(100 110.3 677.2)" fill="url(#g11_5)"/><ellipse cx="108.1" cy="678.9" rx="3.2" ry="2.1" transform="rotate(120 108.1 678.9)" fill="url(#g11_3)"/><ellipse cx="108.8" cy="693.4" rx="3.3" ry="2.4" transform="rotate(155 108.8 693.4)" fill="url(#g11_3)"/><ellipse cx="106.6" cy="698.3" rx="3.3" ry="2.7" transform="rotate(154 106.6 698.3)" fill="url(#g11_4)"/><ellipse cx="108.5" cy="711.9" rx="3.3" ry="2.6" transform="rotate(169 108.5 711.9)" fill="url(#g11_3)"/><ellipse cx="110.4" cy="719.5" rx="3.9" ry="2.5" transform="rotate(34 110.4 719.5)" fill="url(#g11_1)"/><ellipse cx="103.7" cy="724.8" rx="3.5" ry="2.6" transform="rotate(115 103.7 724.8)" fill="url(#g11_2)"/><ellipse cx="105.9" cy="731.9" rx="4.0" ry="2.6" transform="rotate(113 105.9 731.9)" fill="url(#g11_0)"/><ellipse cx="104.4" cy="740.2" rx="3.7" ry="3.1" transform="rotate(18 104.4 740.2)" fill="url(#g11_0)"/><ellipse cx="110.7" cy="752.2" rx="4.2" ry="3.0" transform="rotate(148 110.7 752.2)" fill="url(#g11_5)"/><ellipse cx="103.9" cy="759.2" rx="3.3" ry="2.7" transform="rotate(87 103.9 759.2)" fill="url(#g11_5)"/><ellipse cx="116.6" cy="648.9" rx="4.0" ry="2.8" transform="rotate(142 116.6 648.9)" fill="url(#g11_0)"/><ellipse cx="119.4" cy="656.1" rx="3.5" ry="2.3" transform="rotate(55 119.4 656.1)" fill="url(#g11_2)"/><ellipse cx="116.1" cy="662.4" rx="3.6" ry="2.5" transform="rotate(18 116.1 662.4)" fill="url(#g11_3)"/><ellipse cx="113.7" cy="673.8" rx="3.5" ry="2.4" transform="rotate(110 113.7 673.8)" fill="url(#g11_2)"/><ellipse cx="116.2" cy="679.9" rx="4.4" ry="4.0" transform="rotate(127 116.2 679.9)" fill="url(#g11_5)"/><ellipse cx="116.1" cy="687.4" rx="4.0" ry="3.4" transform="rotate(25 116.1 687.4)" fill="url(#g11_2)"/><ellipse cx="114.9" cy="698.6" rx="3.2" ry="2.8" transform="rotate(48 114.9 698.6)" fill="url(#g11_4)"/><ellipse cx="115.2" cy="710.5" rx="3.4" ry="2.7" transform="rotate(98 115.2 710.5)" fill="url(#g11_0)"/><ellipse cx="118.9" cy="714.9" rx="4.1" ry="3.6" transform="rotate(60 118.9 714.9)" fill="url(#g11_0)"/><ellipse cx="119.0" cy="722.4" rx="4.1" ry="2.9" transform="rotate(136 119.0 722.4)" fill="url(#g11_1)"/><ellipse cx="113.0" cy="735.9" rx="4.2" ry="3.2" transform="rotate(73 113.0 735.9)" fill="url(#g11_3)"/><ellipse cx="119.0" cy="747.9" rx="3.3" ry="2.7" transform="rotate(153 119.0 747.9)" fill="url(#g11_5)"/><ellipse cx="116.5" cy="753.8" rx="4.2" ry="2.8" transform="rotate(74 116.5 753.8)" fill="url(#g11_0)"/><ellipse cx="115.8" cy="758.5" rx="3.7" ry="2.6" transform="rotate(24 115.8 758.5)" fill="url(#g11_0)"/><ellipse cx="127.8" cy="643.6" rx="4.2" ry="3.5" transform="rotate(142 127.8 643.6)" fill="url(#g11_2)"/><ellipse cx="124.4" cy="652.8" rx="3.6" ry="3.1" transform="rotate(164 124.4 652.8)" fill="url(#g11_2)"/><ellipse cx="123.7" cy="663.0" rx="4.3" ry="3.3" transform="rotate(163 123.7 663.0)" fill="url(#g11_3)"/><ellipse cx="127.0" cy="670.5" rx="3.3" ry="2.9" transform="rotate(59 127.0 670.5)" fill="url(#g11_2)"/><ellipse cx="123.8" cy="678.5" rx="4.4" ry="3.1" transform="rotate(111 123.8 678.5)" fill="url(#g11_2)"/><ellipse cx="123.4" cy="689.7" rx="4.2" ry="3.6" transform="rotate(158 123.4 689.7)" fill="url(#g11_0)"/><ellipse cx="127.1" cy="697.9" rx="4.3" ry="3.9" transform="rotate(86 127.1 697.9)" fill="url(#g11_0)"/><ellipse cx="127.6" cy="709.1" rx="4.0" ry="3.6" transform="rotate(158 127.6 709.1)" fill="url(#g11_5)"/><ellipse cx="126.2" cy="720.4" rx="3.6" ry="2.8" transform="rotate(102 126.2 720.4)" fill="url(#g11_0)"/><ellipse cx="125.6" cy="725.7" rx="3.3" ry="2.1" transform="rotate(94 125.6 725.7)" fill="url(#g11_0)"/><ellipse cx="127.4" cy="735.7" rx="3.7" ry="2.6" transform="rotate(131 127.4 735.7)" fill="url(#g11_0)"/><ellipse cx="121.8" cy="743.4" rx="3.7" ry="2.9" transform="rotate(25 121.8 743.4)" fill="url(#g11_3)"/><ellipse cx="122.3" cy="751.2" rx="3.7" ry="2.6" transform="rotate(58 122.3 751.2)" fill="url(#g11_0)"/><ellipse cx="126.6" cy="763.7" rx="4.3" ry="2.9" transform="rotate(155 126.6 763.7)" fill="url(#g11_3)"/><ellipse cx="129.7" cy="645.6" rx="4.3" ry="3.8" transform="rotate(3 129.7 645.6)" fill="url(#g11_2)"/><ellipse cx="134.8" cy="656.4" rx="3.8" ry="2.6" transform="rotate(171 134.8 656.4)" fill="url(#g11_5)"/><ellipse cx="134.4" cy="663.2" rx="4.2" ry="3.8" transform="rotate(49 134.4 663.2)" fill="url(#g11_2)"/><ellipse cx="136.2" cy="672.2" rx="4.4" ry="3.7" transform="rotate(75 136.2 672.2)" fill="url(#g11_0)"/><ellipse cx="136.1" cy="679.3" rx="4.1" ry="2.8" transform="rotate(130 136.1 679.3)" fill="url(#g11_2)"/><ellipse cx="131.6" cy="689.3" rx="4.2" ry="3.2" transform="rotate(21 131.6 689.3)" fill="url(#g11_2)"/><ellipse cx="137.0" cy="703.0" rx="3.4" ry="2.3" transform="rotate(24 137.0 703.0)" fill="url(#g11_3)"/><ellipse cx="132.9" cy="705.3" rx="4.4" ry="2.8" transform="rotate(163 132.9 705.3)" fill="url(#g11_0)"/><ellipse cx="133.9" cy="717.8" rx="3.7" ry="2.9" transform="rotate(30 133.9 717.8)" fill="url(#g11_5)"/><ellipse cx="130.7" cy="723.8" rx="4.1" ry="2.6" transform="rotate(142 130.7 723.8)" fill="url(#g11_0)"/><ellipse cx="136.4" cy="736.1" rx="4.4" ry="3.4" transform="rotate(0 136.4 736.1)" fill="url(#g11_4)"/><ellipse cx="129.7" cy="740.4" rx="4.2" ry="3.7" transform="rotate(58 129.7 740.4)" fill="url(#g11_2)"/><ellipse cx="129.5" cy="751.0" rx="4.3" ry="3.4" transform="rotate(177 129.5 751.0)" fill="url(#g11_3)"/><ellipse cx="133.5" cy="762.2" rx="4.2" ry="2.7" transform="rotate(78 133.5 762.2)" fill="url(#g11_3)"/><ellipse cx="142.4" cy="645.2" rx="4.1" ry="3.4" transform="rotate(47 142.4 645.2)" fill="url(#g11_2)"/><ellipse cx="144.8" cy="656.7" rx="3.5" ry="2.3" transform="rotate(175 144.8 656.7)" fill="url(#g11_0)"/><ellipse cx="141.6" cy="667.7" rx="3.6" ry="2.8" transform="rotate(110 141.6 667.7)" fill="url(#g11_4)"/><ellipse cx="142.0" cy="675.3" rx="4.3" ry="2.7" transform="rotate(21 142.0 675.3)" fill="url(#g11_0)"/><ellipse cx="143.1" cy="682.9" rx="4.1" ry="3.3" transform="rotate(10 143.1 682.9)" fill="url(#g11_2)"/><ellipse cx="143.5" cy="693.6" rx="4.1" ry="3.5" transform="rotate(138 143.5 693.6)" fill="url(#g11_2)"/><ellipse cx="143.2" cy="700.0" rx="3.6" ry="2.5" transform="rotate(89 143.2 700.0)" fill="url(#g11_3)"/><ellipse cx="142.8" cy="708.3" rx="3.5" ry="2.7" transform="rotate(126 142.8 708.3)" fill="url(#g11_3)"/><ellipse cx="145.6" cy="714.6" rx="4.2" ry="3.3" transform="rotate(24 145.6 714.6)" fill="url(#g11_3)"/><ellipse cx="142.2" cy="730.1" rx="3.1" ry="2.3" transform="rotate(95 142.2 730.1)" fill="url(#g11_0)"/><ellipse cx="142.4" cy="734.9" rx="4.4" ry="3.9" transform="rotate(122 142.4 734.9)" fill="url(#g11_3)"/><ellipse cx="145.8" cy="744.8" rx="3.5" ry="2.3" transform="rotate(154 145.8 744.8)" fill="url(#g11_2)"/><ellipse cx="138.7" cy="750.5" rx="3.5" ry="3.1" transform="rotate(166 138.7 750.5)" fill="url(#g11_0)"/><ellipse cx="139.3" cy="762.2" rx="4.5" ry="3.7" transform="rotate(102 139.3 762.2)" fill="url(#g11_5)"/><ellipse cx="153.8" cy="650.5" rx="3.3" ry="2.9" transform="rotate(168 153.8 650.5)" fill="url(#g11_0)"/><ellipse cx="149.8" cy="652.3" rx="3.7" ry="2.5" transform="rotate(143 149.8 652.3)" fill="url(#g11_4)"/><ellipse cx="150.6" cy="663.9" rx="3.9" ry="3.3" transform="rotate(85 150.6 663.9)" fill="url(#g11_2)"/><ellipse cx="151.8" cy="671.0" rx="3.8" ry="2.9" transform="rotate(75 151.8 671.0)" fill="url(#g11_0)"/><ellipse cx="149.0" cy="685.9" rx="4.0" ry="3.0" transform="rotate(133 149.0 685.9)" fill="url(#g11_2)"/><ellipse cx="151.3" cy="692.3" rx="3.4" ry="2.2" transform="rotate(10 151.3 692.3)" fill="url(#g11_3)"/><ellipse cx="153.0" cy="697.0" rx="3.4" ry="2.9" transform="rotate(21 153.0 697.0)" fill="url(#g11_5)"/><ellipse cx="153.5" cy="708.3" rx="4.3" ry="3.1" transform="rotate(46 153.5 708.3)" fill="url(#g11_4)"/><ellipse cx="152.1" cy="715.9" rx="4.0" ry="3.0" transform="rotate(34 152.1 715.9)" fill="url(#g11_2)"/><ellipse cx="147.9" cy="724.0" rx="3.7" ry="2.8" transform="rotate(125 147.9 724.0)" fill="url(#g11_2)"/><ellipse cx="151.2" cy="733.6" rx="3.7" ry="2.7" transform="rotate(158 151.2 733.6)" fill="url(#g11_4)"/><ellipse cx="151.1" cy="743.5" rx="3.3" ry="2.5" transform="rotate(64 151.1 743.5)" fill="url(#g11_0)"/><ellipse cx="149.8" cy="753.6" rx="3.3" ry="2.8" transform="rotate(134 149.8 753.6)" fill="url(#g11_2)"/><ellipse cx="146.9" cy="763.6" rx="4.1" ry="3.3" transform="rotate(12 146.9 763.6)" fill="url(#g11_4)"/></g></g><rect x="27.6" y="647.1" width="114.5" height="114.3" fill="none" stroke="#151515" stroke-width="1.7"/>
<clipPath id="clip12"><rect x="27.6" y="768.6" width="114.5" height="113.8"/></clipPath><defs><filter id="bi12" x="-5%" y="-5%" width="110%" height="110%"><feGaussianBlur stdDeviation="0.7"/></filter><radialGradient id="g12_0" cx="0.45" cy="0.45" r="0.6"><stop offset="0" stop-color="#7490b4"/><stop offset="0.5" stop-color="#7490b4"/><stop offset="0.85" stop-color="#52709a"/><stop offset="1" stop-color="#52709a"/></radialGradient><radialGradient id="g12_1" cx="0.45" cy="0.45" r="0.6"><stop offset="0" stop-color="#8aa0b8"/><stop offset="0.5" stop-color="#8aa0b8"/><stop offset="0.85" stop-color="#6a84a0"/><stop offset="1" stop-color="#6a84a0"/></radialGradient><radialGradient id="g12_2" cx="0.45" cy="0.45" r="0.6"><stop offset="0" stop-color="#969c9e"/><stop offset="0.5" stop-color="#969c9e"/><stop offset="0.85" stop-color="#767e80"/><stop offset="1" stop-color="#767e80"/></radialGradient><radialGradient id="g12_3" cx="0.45" cy="0.45" r="0.6"><stop offset="0" stop-color="#6080a8"/><stop offset="0.5" stop-color="#6080a8"/><stop offset="0.85" stop-color="#46648e"/><stop offset="1" stop-color="#46648e"/></radialGradient><radialGradient id="g12_4" cx="0.45" cy="0.45" r="0.6"><stop offset="0" stop-color="#928074"/><stop offset="0.5" stop-color="#928074"/><stop offset="0.85" stop-color="#6e5c50"/><stop offset="1" stop-color="#6e5c50"/></radialGradient></defs><g clip-path="url(#clip12)"><rect x="27.6" y="768.6" width="114.5" height="113.8" fill="#cbd6cf"/><g filter="url(#b3)"><ellipse cx="81.9" cy="843.4" rx="11.3" ry="5.7" fill="#d8dccc" opacity="0.5"/><ellipse cx="141.7" cy="823.5" rx="11.1" ry="7.3" fill="#d8dccc" opacity="0.5"/><ellipse cx="91.5" cy="843.9" rx="7.2" ry="7.2" fill="#d8dccc" opacity="0.5"/><ellipse cx="66.5" cy="792.5" rx="10.6" ry="6.0" fill="#cad4ce" opacity="0.5"/><ellipse cx="105.6" cy="859.4" rx="6.7" ry="9.6" fill="#d8dccc" opacity="0.5"/><ellipse cx="38.0" cy="880.9" rx="13.6" ry="5.6" fill="#cad4ce" opacity="0.5"/><ellipse cx="138.8" cy="830.0" rx="13.1" ry="7.8" fill="#d8dccc" opacity="0.5"/><ellipse cx="91.2" cy="826.3" rx="6.7" ry="8.0" fill="#cad4ce" opacity="0.5"/><ellipse cx="82.2" cy="812.4" rx="6.2" ry="8.6" fill="#d8dccc" opacity="0.5"/><ellipse cx="139.4" cy="844.1" rx="8.9" ry="6.8" fill="#cad4ce" opacity="0.5"/><ellipse cx="104.7" cy="781.6" rx="7.9" ry="6.8" fill="#d8dccc" opacity="0.5"/><ellipse cx="30.8" cy="862.2" rx="9.4" ry="7.6" fill="#d8dccc" opacity="0.5"/><ellipse cx="105.0" cy="773.5" rx="7.6" ry="8.0" fill="#d8dccc" opacity="0.5"/><ellipse cx="48.0" cy="847.8" rx="6.3" ry="6.4" fill="#cad4ce" opacity="0.5"/></g><g filter="url(#bi12)"><ellipse cx="28.4" cy="770.5" rx="4.1" ry="2.9" transform="rotate(61 28.4 770.5)" fill="url(#g12_1)"/><ellipse cx="29.2" cy="780.7" rx="3.7" ry="3.3" transform="rotate(84 29.2 780.7)" fill="url(#g12_1)"/><ellipse cx="25.0" cy="789.2" rx="3.6" ry="2.9" transform="rotate(171 25.0 789.2)" fill="url(#g12_3)"/><ellipse cx="30.1" cy="793.5" rx="4.5" ry="3.4" transform="rotate(45 30.1 793.5)" fill="url(#g12_0)"/><ellipse cx="26.4" cy="805.8" rx="3.5" ry="3.1" transform="rotate(159 26.4 805.8)" fill="url(#g12_1)"/><ellipse cx="25.8" cy="811.4" rx="4.5" ry="3.4" transform="rotate(88 25.8 811.4)" fill="url(#g12_0)"/><ellipse cx="29.1" cy="823.3" rx="4.4" ry="3.3" transform="rotate(111 29.1 823.3)" fill="url(#g12_0)"/><ellipse cx="26.2" cy="836.0" rx="4.3" ry="3.2" transform="rotate(143 26.2 836.0)" fill="url(#g12_2)"/><ellipse cx="27.8" cy="838.3" rx="3.3" ry="2.1" transform="rotate(100 27.8 838.3)" fill="url(#g12_0)"/><ellipse cx="24.6" cy="848.9" rx="4.0" ry="2.6" transform="rotate(103 24.6 848.9)" fill="url(#g12_2)"/><ellipse cx="31.2" cy="858.6" rx="3.4" ry="2.5" transform="rotate(17 31.2 858.6)" fill="url(#g12_0)"/><ellipse cx="25.1" cy="870.3" rx="4.8" ry="3.8" transform="rotate(69 25.1 870.3)" fill="url(#g12_0)"/><ellipse cx="29.2" cy="876.1" rx="3.3" ry="2.1" transform="rotate(13 29.2 876.1)" fill="url(#g12_0)"/><ellipse cx="25.1" cy="891.7" rx="4.5" ry="3.7" transform="rotate(34 25.1 891.7)" fill="url(#g12_0)"/><ellipse cx="39.2" cy="770.1" rx="4.0" ry="3.2" transform="rotate(38 39.2 770.1)" fill="url(#g12_1)"/><ellipse cx="38.3" cy="778.5" rx="3.4" ry="2.5" transform="rotate(15 38.3 778.5)" fill="url(#g12_0)"/><ellipse cx="38.3" cy="788.8" rx="3.8" ry="2.5" transform="rotate(122 38.3 788.8)" fill="url(#g12_1)"/><ellipse cx="36.3" cy="793.5" rx="3.6" ry="2.9" transform="rotate(87 36.3 793.5)" fill="url(#g12_0)"/><ellipse cx="37.6" cy="805.0" rx="4.6" ry="3.0" transform="rotate(40 37.6 805.0)" fill="url(#g12_3)"/><ellipse cx="35.7" cy="817.5" rx="4.3" ry="3.0" transform="rotate(93 35.7 817.5)" fill="url(#g12_0)"/><ellipse cx="40.1" cy="822.4" rx="4.1" ry="3.0" transform="rotate(90 40.1 822.4)" fill="url(#g12_2)"/><ellipse cx="36.5" cy="835.4" rx="3.4" ry="2.8" transform="rotate(73 36.5 835.4)" fill="url(#g12_1)"/><ellipse cx="39.2" cy="842.4" rx="4.0" ry="2.5" transform="rotate(19 39.2 842.4)" fill="url(#g12_1)"/><ellipse cx="35.2" cy="853.6" rx="3.3" ry="2.8" transform="rotate(161 35.2 853.6)" fill="url(#g12_1)"/><ellipse cx="34.1" cy="860.4" rx="4.5" ry="3.0" transform="rotate(89 34.1 860.4)" fill="url(#g12_1)"/><ellipse cx="35.7" cy="869.0" rx="4.2" ry="3.0" transform="rotate(146 35.7 869.0)" fill="url(#g12_3)"/><ellipse cx="37.7" cy="876.1" rx="3.7" ry="2.3" transform="rotate(118 37.7 876.1)" fill="url(#g12_3)"/><ellipse cx="35.8" cy="887.6" rx="4.3" ry="3.1" transform="rotate(138 35.8 887.6)" fill="url(#g12_1)"/><ellipse cx="49.6" cy="771.2" rx="3.6" ry="3.0" transform="rotate(150 49.6 771.2)" fill="url(#g12_0)"/><ellipse cx="44.1" cy="781.0" rx="4.6" ry="3.7" transform="rotate(134 44.1 781.0)" fill="url(#g12_2)"/><ellipse cx="50.0" cy="790.4" rx="4.5" ry="3.8" transform="rotate(56 50.0 790.4)" fill="url(#g12_3)"/><ellipse cx="48.1" cy="799.2" rx="4.1" ry="2.6" transform="rotate(146 48.1 799.2)" fill="url(#g12_0)"/><ellipse cx="43.5" cy="808.0" rx="4.7" ry="4.2" transform="rotate(139 43.5 808.0)" fill="url(#g12_1)"/><ellipse cx="42.0" cy="818.0" rx="3.8" ry="2.9" transform="rotate(36 42.0 818.0)" fill="url(#g12_0)"/><ellipse cx="41.9" cy="820.7" rx="3.9" ry="2.9" transform="rotate(53 41.9 820.7)" fill="url(#g12_0)"/><ellipse cx="48.8" cy="835.9" rx="4.6" ry="2.9" transform="rotate(152 48.8 835.9)" fill="url(#g12_0)"/><ellipse cx="43.1" cy="844.3" rx="3.8" ry="2.5" transform="rotate(152 43.1 844.3)" fill="url(#g12_3)"/><ellipse cx="46.4" cy="855.2" rx="3.9" ry="2.5" transform="rotate(165 46.4 855.2)" fill="url(#g12_0)"/><ellipse cx="43.8" cy="860.0" rx="4.5" ry="3.9" transform="rotate(168 43.8 860.0)" fill="url(#g12_0)"/><ellipse cx="47.5" cy="870.3" rx="4.7" ry="3.9" transform="rotate(117 47.5 870.3)" fill="url(#g12_3)"/><ellipse cx="50.0" cy="879.8" rx="4.2" ry="3.5" transform="rotate(113 50.0 879.8)" fill="url(#g12_1)"/><ellipse cx="44.6" cy="889.4" rx="4.5" ry="3.8" transform="rotate(70 44.6 889.4)" fill="url(#g12_1)"/><ellipse cx="53.9" cy="764.9" rx="4.5" ry="3.6" transform="rotate(178 53.9 764.9)" fill="url(#g12_0)"/><ellipse cx="52.1" cy="777.7" rx="3.5" ry="2.4" transform="rotate(36 52.1 777.7)" fill="url(#g12_0)"/><ellipse cx="54.7" cy="785.7" rx="3.9" ry="2.8" transform="rotate(107 54.7 785.7)" fill="url(#g12_3)"/><ellipse cx="58.4" cy="798.8" rx="3.8" ry="3.3" transform="rotate(114 58.4 798.8)" fill="url(#g12_1)"/><ellipse cx="51.6" cy="804.1" rx="3.7" ry="2.9" transform="rotate(151 51.6 804.1)" fill="url(#g12_1)"/><ellipse cx="54.7" cy="812.8" rx="3.8" ry="3.4" transform="rotate(21 54.7 812.8)" fill="url(#g12_1)"/><ellipse cx="55.1" cy="822.7" rx="3.5" ry="2.8" transform="rotate(50 55.1 822.7)" fill="url(#g12_0)"/><ellipse cx="54.2" cy="836.4" rx="4.7" ry="4.1" transform="rotate(108 54.2 836.4)" fill="url(#g12_0)"/><ellipse cx="56.2" cy="845.4" rx="4.7" ry="3.7" transform="rotate(111 56.2 845.4)" fill="url(#g12_3)"/><ellipse cx="52.2" cy="850.0" rx="4.8" ry="3.8" transform="rotate(8 52.2 850.0)" fill="url(#g12_0)"/><ellipse cx="55.5" cy="863.4" rx="4.1" ry="3.5" transform="rotate(29 55.5 863.4)" fill="url(#g12_1)"/><ellipse cx="51.8" cy="868.2" rx="4.5" ry="3.1" transform="rotate(12 51.8 868.2)" fill="url(#g12_1)"/><ellipse cx="52.6" cy="877.1" rx="3.5" ry="2.4" transform="rotate(33 52.6 877.1)" fill="url(#g12_2)"/><ellipse cx="53.6" cy="885.2" rx="4.0" ry="3.0" transform="rotate(70 53.6 885.2)" fill="url(#g12_0)"/><ellipse cx="67.7" cy="766.1" rx="4.2" ry="3.5" transform="rotate(87 67.7 766.1)" fill="url(#g12_1)"/><ellipse cx="66.2" cy="780.7" rx="3.8" ry="2.8" transform="rotate(25 66.2 780.7)" fill="url(#g12_0)"/><ellipse cx="65.8" cy="785.3" rx="4.3" ry="3.0" transform="rotate(87 65.8 785.3)" fill="url(#g12_1)"/><ellipse cx="64.6" cy="796.8" rx="3.6" ry="2.6" transform="rotate(150 64.6 796.8)" fill="url(#g12_0)"/><ellipse cx="64.0" cy="805.7" rx="3.7" ry="2.5" transform="rotate(140 64.0 805.7)" fill="url(#g12_1)"/><ellipse cx="64.5" cy="813.0" rx="3.4" ry="2.3" transform="rotate(151 64.5 813.0)" fill="url(#g12_0)"/><ellipse cx="64.6" cy="821.8" rx="4.7" ry="4.0" transform="rotate(141 64.6 821.8)" fill="url(#g12_0)"/><ellipse cx="62.0" cy="835.8" rx="3.5" ry="2.4" transform="rotate(6 62.0 835.8)" fill="url(#g12_1)"/><ellipse cx="63.9" cy="842.1" rx="4.1" ry="3.6" transform="rotate(102 63.9 842.1)" fill="url(#g12_3)"/><ellipse cx="60.7" cy="849.8" rx="4.8" ry="3.5" transform="rotate(151 60.7 849.8)" fill="url(#g12_0)"/><ellipse cx="64.8" cy="864.0" rx="4.0" ry="3.3" transform="rotate(175 64.8 864.0)" fill="url(#g12_3)"/><ellipse cx="63.6" cy="865.7" rx="4.1" ry="3.0" transform="rotate(25 63.6 865.7)" fill="url(#g12_0)"/><ellipse cx="60.9" cy="880.5" rx="3.7" ry="2.6" transform="rotate(54 60.9 880.5)" fill="url(#g12_0)"/><ellipse cx="64.5" cy="887.3" rx="3.4" ry="2.8" transform="rotate(8 64.5 887.3)" fill="url(#g12_0)"/><ellipse cx="77.4" cy="770.2" rx="3.8" ry="3.1" transform="rotate(149 77.4 770.2)" fill="url(#g12_0)"/><ellipse cx="76.1" cy="774.2" rx="3.5" ry="3.0" transform="rotate(91 76.1 774.2)" fill="url(#g12_0)"/><ellipse cx="74.0" cy="790.3" rx="3.8" ry="3.4" transform="rotate(150 74.0 790.3)" fill="url(#g12_0)"/><ellipse cx="70.7" cy="795.9" rx="4.0" ry="2.8" transform="rotate(30 70.7 795.9)" fill="url(#g12_0)"/><ellipse cx="69.5" cy="804.8" rx="4.4" ry="3.0" transform="rotate(172 69.5 804.8)" fill="url(#g12_3)"/><ellipse cx="72.4" cy="812.9" rx="4.2" ry="3.1" transform="rotate(64 72.4 812.9)" fill="url(#g12_0)"/><ellipse cx="72.0" cy="826.9" rx="4.2" ry="3.3" transform="rotate(2 72.0 826.9)" fill="url(#g12_1)"/><ellipse cx="74.1" cy="830.0" rx="4.6" ry="4.0" transform="rotate(43 74.1 830.0)" fill="url(#g12_1)"/><ellipse cx="75.9" cy="845.5" rx="4.6" ry="3.0" transform="rotate(173 75.9 845.5)" fill="url(#g12_1)"/><ellipse cx="75.6" cy="855.5" rx="4.8" ry="3.4" transform="rotate(48 75.6 855.5)" fill="url(#g12_0)"/><ellipse cx="71.3" cy="859.6" rx="3.8" ry="3.0" transform="rotate(178 71.3 859.6)" fill="url(#g12_0)"/><ellipse cx="75.2" cy="873.1" rx="4.6" ry="3.6" transform="rotate(149 75.2 873.1)" fill="url(#g12_1)"/><ellipse cx="73.5" cy="881.5" rx="3.5" ry="2.4" transform="rotate(163 73.5 881.5)" fill="url(#g12_1)"/><ellipse cx="72.7" cy="886.8" rx="3.6" ry="3.1" transform="rotate(24 72.7 886.8)" fill="url(#g12_1)"/><ellipse cx="83.0" cy="770.4" rx="4.8" ry="3.1" transform="rotate(117 83.0 770.4)" fill="url(#g12_0)"/><ellipse cx="80.8" cy="774.2" rx="4.0" ry="3.5" transform="rotate(81 80.8 774.2)" fill="url(#g12_0)"/><ellipse cx="84.1" cy="790.4" rx="3.6" ry="3.0" transform="rotate(103 84.1 790.4)" fill="url(#g12_0)"/><ellipse cx="83.4" cy="792.8" rx="4.4" ry="3.6" transform="rotate(113 83.4 792.8)" fill="url(#g12_1)"/><ellipse cx="79.0" cy="805.2" rx="4.6" ry="3.8" transform="rotate(25 79.0 805.2)" fill="url(#g12_3)"/><ellipse cx="85.8" cy="814.3" rx="4.8" ry="3.7" transform="rotate(41 85.8 814.3)" fill="url(#g12_3)"/><ellipse cx="86.7" cy="826.2" rx="4.8" ry="4.1" transform="rotate(93 86.7 826.2)" fill="url(#g12_1)"/><ellipse cx="83.0" cy="834.1" rx="3.7" ry="2.7" transform="rotate(99 83.0 834.1)" fill="url(#g12_3)"/><ellipse cx="83.2" cy="842.8" rx="3.3" ry="2.6" transform="rotate(81 83.2 842.8)" fill="url(#g12_1)"/><ellipse cx="86.6" cy="852.5" rx="4.5" ry="3.5" transform="rotate(121 86.6 852.5)" fill="url(#g12_1)"/><ellipse cx="78.8" cy="857.5" rx="4.1" ry="3.0" transform="rotate(100 78.8 857.5)" fill="url(#g12_0)"/><ellipse cx="84.1" cy="871.5" rx="4.6" ry="3.9" transform="rotate(92 84.1 871.5)" fill="url(#g12_3)"/><ellipse cx="79.2" cy="876.2" rx="3.9" ry="3.3" transform="rotate(176 79.2 876.2)" fill="url(#g12_0)"/><ellipse cx="79.5" cy="884.1" rx="4.4" ry="3.2" transform="rotate(55 79.5 884.1)" fill="url(#g12_0)"/><ellipse cx="95.5" cy="769.3" rx="4.0" ry="3.3" transform="rotate(17 95.5 769.3)" fill="url(#g12_2)"/><ellipse cx="94.7" cy="780.1" rx="3.9" ry="2.7" transform="rotate(65 94.7 780.1)" fill="url(#g12_0)"/><ellipse cx="90.6" cy="784.8" rx="3.8" ry="3.3" transform="rotate(140 90.6 784.8)" fill="url(#g12_1)"/><ellipse cx="90.7" cy="793.1" rx="3.9" ry="2.6" transform="rotate(79 90.7 793.1)" fill="url(#g12_1)"/><ellipse cx="92.3" cy="808.4" rx="4.5" ry="3.9" transform="rotate(138 92.3 808.4)" fill="url(#g12_0)"/><ellipse cx="88.4" cy="817.8" rx="4.8" ry="3.8" transform="rotate(30 88.4 817.8)" fill="url(#g12_4)"/><ellipse cx="94.9" cy="823.4" rx="4.1" ry="3.7" transform="rotate(43 94.9 823.4)" fill="url(#g12_0)"/><ellipse cx="89.5" cy="832.9" rx="4.1" ry="3.4" transform="rotate(176 89.5 832.9)" fill="url(#g12_3)"/><ellipse cx="94.5" cy="841.5" rx="3.4" ry="2.4" transform="rotate(69 94.5 841.5)" fill="url(#g12_0)"/><ellipse cx="90.1" cy="847.9" rx="3.8" ry="2.4" transform="rotate(61 90.1 847.9)" fill="url(#g12_0)"/><ellipse cx="89.5" cy="859.9" rx="3.6" ry="3.0" transform="rotate(177 89.5 859.9)" fill="url(#g12_1)"/><ellipse cx="87.9" cy="872.8" rx="3.7" ry="2.4" transform="rotate(143 87.9 872.8)" fill="url(#g12_1)"/><ellipse cx="93.7" cy="875.0" rx="3.9" ry="3.3" transform="rotate(66 93.7 875.0)" fill="url(#g12_0)"/><ellipse cx="91.5" cy="885.0" rx="4.6" ry="4.0" transform="rotate(101 91.5 885.0)" fill="url(#g12_3)"/><ellipse cx="98.6" cy="769.7" rx="4.4" ry="3.1" transform="rotate(18 98.6 769.7)" fill="url(#g12_2)"/><ellipse cx="99.6" cy="779.9" rx="4.7" ry="2.9" transform="rotate(10 99.6 779.9)" fill="url(#g12_1)"/><ellipse cx="99.1" cy="785.5" rx="3.3" ry="2.3" transform="rotate(98 99.1 785.5)" fill="url(#g12_1)"/><ellipse cx="104.2" cy="794.8" rx="3.5" ry="2.6" transform="rotate(152 104.2 794.8)" fill="url(#g12_0)"/><ellipse cx="104.4" cy="805.2" rx="4.3" ry="3.1" transform="rotate(148 104.4 805.2)" fill="url(#g12_0)"/><ellipse cx="101.4" cy="814.6" rx="3.9" ry="2.7" transform="rotate(86 101.4 814.6)" fill="url(#g12_0)"/><ellipse cx="98.7" cy="819.7" rx="4.0" ry="3.6" transform="rotate(31 98.7 819.7)" fill="url(#g12_4)"/><ellipse cx="103.8" cy="831.2" rx="4.2" ry="3.5" transform="rotate(37 103.8 831.2)" fill="url(#g12_3)"/><ellipse cx="103.9" cy="838.2" rx="4.0" ry="3.4" transform="rotate(116 103.9 838.2)" fill="url(#g12_3)"/><ellipse cx="105.2" cy="853.0" rx="4.3" ry="2.9" transform="rotate(164 105.2 853.0)" fill="url(#g12_3)"/><ellipse cx="104.6" cy="861.0" rx="3.8" ry="2.5" transform="rotate(79 104.6 861.0)" fill="url(#g12_0)"/><ellipse cx="104.9" cy="870.1" rx="4.6" ry="3.2" transform="rotate(109 104.9 870.1)" fill="url(#g12_3)"/><ellipse cx="100.5" cy="877.2" rx="3.8" ry="3.4" transform="rotate(78 100.5 877.2)" fill="url(#g12_0)"/><ellipse cx="102.2" cy="885.1" rx="4.3" ry="3.3" transform="rotate(21 102.2 885.1)" fill="url(#g12_1)"/><ellipse cx="106.5" cy="770.8" rx="4.1" ry="3.6" transform="rotate(5 106.5 770.8)" fill="url(#g12_3)"/><ellipse cx="109.8" cy="777.3" rx="4.7" ry="3.7" transform="rotate(152 109.8 777.3)" fill="url(#g12_3)"/><ellipse cx="106.6" cy="785.8" rx="3.6" ry="2.6" transform="rotate(48 106.6 785.8)" fill="url(#g12_3)"/><ellipse cx="110.8" cy="795.2" rx="3.6" ry="2.6" transform="rotate(58 110.8 795.2)" fill="url(#g12_0)"/><ellipse cx="107.6" cy="807.3" rx="4.2" ry="3.6" transform="rotate(175 107.6 807.3)" fill="url(#g12_0)"/><ellipse cx="107.6" cy="811.4" rx="3.4" ry="2.8" transform="rotate(26 107.6 811.4)" fill="url(#g12_3)"/><ellipse cx="112.6" cy="822.7" rx="4.1" ry="3.2" transform="rotate(99 112.6 822.7)" fill="url(#g12_1)"/><ellipse cx="109.8" cy="834.5" rx="3.5" ry="3.0" transform="rotate(81 109.8 834.5)" fill="url(#g12_1)"/><ellipse cx="112.9" cy="840.4" rx="3.6" ry="2.9" transform="rotate(76 112.9 840.4)" fill="url(#g12_1)"/><ellipse cx="107.3" cy="847.6" rx="3.9" ry="2.5" transform="rotate(168 107.3 847.6)" fill="url(#g12_0)"/><ellipse cx="108.2" cy="856.8" rx="4.2" ry="3.6" transform="rotate(128 108.2 856.8)" fill="url(#g12_3)"/><ellipse cx="111.3" cy="866.0" rx="3.8" ry="3.0" transform="rotate(2 111.3 866.0)" fill="url(#g12_0)"/><ellipse cx="112.9" cy="882.4" rx="4.8" ry="3.6" transform="rotate(24 112.9 882.4)" fill="url(#g12_1)"/><ellipse cx="114.5" cy="889.0" rx="3.4" ry="3.0" transform="rotate(150 114.5 889.0)" fill="url(#g12_0)"/><ellipse cx="121.8" cy="772.0" rx="3.6" ry="3.2" transform="rotate(102 121.8 772.0)" fill="url(#g12_3)"/><ellipse cx="121.3" cy="776.3" rx="3.6" ry="2.7" transform="rotate(167 121.3 776.3)" fill="url(#g12_3)"/><ellipse cx="122.3" cy="788.1" rx="4.6" ry="4.1" transform="rotate(12 122.3 788.1)" fill="url(#g12_2)"/><ellipse cx="116.0" cy="793.6" rx="3.5" ry="3.0" transform="rotate(75 116.0 793.6)" fill="url(#g12_0)"/><ellipse cx="123.2" cy="807.0" rx="4.5" ry="2.9" transform="rotate(79 123.2 807.0)" fill="url(#g12_1)"/><ellipse cx="116.6" cy="812.5" rx="4.7" ry="3.2" transform="rotate(171 116.6 812.5)" fill="url(#g12_1)"/><ellipse cx="121.1" cy="821.2" rx="4.1" ry="3.4" transform="rotate(44 121.1 821.2)" fill="url(#g12_0)"/><ellipse cx="122.9" cy="832.7" rx="4.0" ry="2.8" transform="rotate(157 122.9 832.7)" fill="url(#g12_3)"/><ellipse cx="119.8" cy="842.4" rx="3.6" ry="2.9" transform="rotate(58 119.8 842.4)" fill="url(#g12_0)"/><ellipse cx="122.7" cy="852.3" rx="4.5" ry="3.7" transform="rotate(83 122.7 852.3)" fill="url(#g12_4)"/><ellipse cx="116.9" cy="860.4" rx="4.2" ry="3.4" transform="rotate(177 116.9 860.4)" fill="url(#g12_0)"/><ellipse cx="120.0" cy="866.8" rx="4.1" ry="3.3" transform="rotate(73 120.0 866.8)" fill="url(#g12_1)"/><ellipse cx="118.5" cy="877.9" rx="4.4" ry="3.5" transform="rotate(134 118.5 877.9)" fill="url(#g12_0)"/><ellipse cx="122.7" cy="884.2" rx="4.7" ry="3.7" transform="rotate(51 122.7 884.2)" fill="url(#g12_0)"/><ellipse cx="129.1" cy="770.5" rx="3.9" ry="3.0" transform="rotate(171 129.1 770.5)" fill="url(#g12_3)"/><ellipse cx="125.9" cy="779.3" rx="4.4" ry="3.7" transform="rotate(91 125.9 779.3)" fill="url(#g12_1)"/><ellipse cx="125.8" cy="785.4" rx="4.2" ry="3.2" transform="rotate(1 125.8 785.4)" fill="url(#g12_3)"/><ellipse cx="131.4" cy="799.2" rx="4.6" ry="3.7" transform="rotate(90 131.4 799.2)" fill="url(#g12_2)"/><ellipse cx="126.4" cy="807.0" rx="4.0" ry="3.5" transform="rotate(64 126.4 807.0)" fill="url(#g12_2)"/><ellipse cx="128.9" cy="815.3" rx="4.5" ry="3.2" transform="rotate(15 128.9 815.3)" fill="url(#g12_1)"/><ellipse cx="125.7" cy="823.6" rx="3.3" ry="2.6" transform="rotate(84 125.7 823.6)" fill="url(#g12_3)"/><ellipse cx="129.4" cy="832.0" rx="4.6" ry="4.0" transform="rotate(131 129.4 832.0)" fill="url(#g12_1)"/><ellipse cx="130.7" cy="845.8" rx="4.2" ry="3.4" transform="rotate(131 130.7 845.8)" fill="url(#g12_0)"/><ellipse cx="130.2" cy="852.1" rx="4.1" ry="3.6" transform="rotate(136 130.2 852.1)" fill="url(#g12_1)"/><ellipse cx="127.9" cy="861.6" rx="4.7" ry="3.8" transform="rotate(14 127.9 861.6)" fill="url(#g12_0)"/><ellipse cx="126.0" cy="873.2" rx="3.6" ry="2.8" transform="rotate(145 126.0 873.2)" fill="url(#g12_0)"/><ellipse cx="128.7" cy="880.0" rx="3.6" ry="2.8" transform="rotate(50 128.7 880.0)" fill="url(#g12_1)"/><ellipse cx="129.2" cy="886.3" rx="4.5" ry="3.8" transform="rotate(65 129.2 886.3)" fill="url(#g12_0)"/><ellipse cx="133.9" cy="770.2" rx="4.6" ry="2.9" transform="rotate(145 133.9 770.2)" fill="url(#g12_3)"/><ellipse cx="140.3" cy="777.1" rx="4.0" ry="3.2" transform="rotate(180 140.3 777.1)" fill="url(#g12_1)"/><ellipse cx="141.1" cy="784.9" rx="3.5" ry="2.2" transform="rotate(79 141.1 784.9)" fill="url(#g12_1)"/><ellipse cx="137.0" cy="799.3" rx="4.1" ry="3.0" transform="rotate(123 137.0 799.3)" fill="url(#g12_0)"/><ellipse cx="140.7" cy="805.8" rx="4.2" ry="3.4" transform="rotate(92 140.7 805.8)" fill="url(#g12_0)"/><ellipse cx="138.9" cy="813.5" rx="3.6" ry="2.5" transform="rotate(54 138.9 813.5)" fill="url(#g12_0)"/><ellipse cx="136.2" cy="819.8" rx="3.4" ry="2.6" transform="rotate(12 136.2 819.8)" fill="url(#g12_0)"/><ellipse cx="137.0" cy="829.5" rx="3.8" ry="3.1" transform="rotate(106 137.0 829.5)" fill="url(#g12_0)"/><ellipse cx="141.9" cy="844.9" rx="3.6" ry="3.0" transform="rotate(95 141.9 844.9)" fill="url(#g12_1)"/><ellipse cx="138.1" cy="847.9" rx="4.2" ry="3.1" transform="rotate(102 138.1 847.9)" fill="url(#g12_3)"/><ellipse cx="136.5" cy="856.9" rx="4.5" ry="3.7" transform="rotate(160 136.5 856.9)" fill="url(#g12_1)"/><ellipse cx="134.2" cy="871.2" rx="4.1" ry="2.9" transform="rotate(20 134.2 871.2)" fill="url(#g12_0)"/><ellipse cx="134.7" cy="881.7" rx="3.8" ry="2.6" transform="rotate(129 134.7 881.7)" fill="url(#g12_0)"/><ellipse cx="141.3" cy="885.9" rx="4.4" ry="3.4" transform="rotate(75 141.3 885.9)" fill="url(#g12_0)"/><ellipse cx="148.4" cy="769.8" rx="3.5" ry="2.2" transform="rotate(94 148.4 769.8)" fill="url(#g12_0)"/><ellipse cx="148.9" cy="773.7" rx="4.0" ry="3.2" transform="rotate(7 148.9 773.7)" fill="url(#g12_1)"/><ellipse cx="149.4" cy="782.9" rx="4.1" ry="3.3" transform="rotate(35 149.4 782.9)" fill="url(#g12_1)"/><ellipse cx="150.2" cy="798.3" rx="4.0" ry="2.7" transform="rotate(177 150.2 798.3)" fill="url(#g12_0)"/><ellipse cx="149.7" cy="804.4" rx="3.8" ry="2.8" transform="rotate(102 149.7 804.4)" fill="url(#g12_3)"/><ellipse cx="149.0" cy="812.4" rx="3.8" ry="3.1" transform="rotate(17 149.0 812.4)" fill="url(#g12_1)"/><ellipse cx="146.7" cy="827.4" rx="3.5" ry="2.6" transform="rotate(47 146.7 827.4)" fill="url(#g12_3)"/><ellipse cx="150.2" cy="830.4" rx="3.7" ry="3.1" transform="rotate(36 150.2 830.4)" fill="url(#g12_1)"/><ellipse cx="145.2" cy="844.1" rx="3.8" ry="3.3" transform="rotate(109 145.2 844.1)" fill="url(#g12_1)"/><ellipse cx="146.0" cy="851.9" rx="3.8" ry="2.8" transform="rotate(95 146.0 851.9)" fill="url(#g12_0)"/><ellipse cx="148.6" cy="864.6" rx="3.5" ry="3.2" transform="rotate(86 148.6 864.6)" fill="url(#g12_1)"/><ellipse cx="150.7" cy="869.8" rx="4.5" ry="3.9" transform="rotate(93 150.7 869.8)" fill="url(#g12_3)"/><ellipse cx="145.0" cy="881.3" rx="3.4" ry="2.7" transform="rotate(166 145.0 881.3)" fill="url(#g12_0)"/><ellipse cx="147.6" cy="886.9" rx="3.9" ry="2.9" transform="rotate(106 147.6 886.9)" fill="url(#g12_0)"/></g></g><rect x="27.6" y="768.6" width="114.5" height="113.8" fill="none" stroke="#151515" stroke-width="1.7"/>
<line x1="114.30" y1="746.70" x2="136.90" y2="746.70" stroke="#fff" stroke-width="2.6" />
<line x1="114.30" y1="867.90" x2="136.90" y2="867.90" stroke="#fff" stroke-width="2.6" />
<text x="0" y="0" transform="translate(10.30,709.00) rotate(-90)" font-size="15.6" text-anchor="middle" dominant-baseline="central" font-weight="normal" fill="#000" font-family='"Liberation Sans", sans-serif' >DMSO</text>
<text x="0" y="0" transform="translate(10.30,827.80) rotate(-90)" font-size="16" text-anchor="middle" dominant-baseline="central" font-weight="normal" fill="#000" font-family='"Liberation Sans", sans-serif' >NS1643</text>
<line x1="203.70" y1="658.32" x2="203.70" y2="871.20" stroke="#151515" stroke-width="1.4" /><line x1="199.10" y1="658.92" x2="203.70" y2="658.92" stroke="#151515" stroke-width="1.3" /><text x="0" y="0" transform="translate(194.50,664.82) scale(0.85,1)" font-size="16.8" text-anchor="end" font-weight="normal" fill="#111" font-family='"Liberation Sans", sans-serif' >16</text><line x1="199.10" y1="685.38" x2="203.70" y2="685.38" stroke="#151515" stroke-width="1.3" /><text x="0" y="0" transform="translate(194.50,691.28) scale(0.85,1)" font-size="16.8" text-anchor="end" font-weight="normal" fill="#111" font-family='"Liberation Sans", sans-serif' >14</text><line x1="199.10" y1="711.84" x2="203.70" y2="711.84" stroke="#151515" stroke-width="1.3" /><text x="0" y="0" transform="translate(194.50,717.74) scale(0.85,1)" font-size="16.8" text-anchor="end" font-weight="normal" fill="#111" font-family='"Liberation Sans", sans-serif' >12</text><line x1="199.10" y1="738.30" x2="203.70" y2="738.30" stroke="#151515" stroke-width="1.3" /><text x="0" y="0" transform="translate(194.50,744.20) scale(0.85,1)" font-size="16.8" text-anchor="end" font-weight="normal" fill="#111" font-family='"Liberation Sans", sans-serif' >10</text><line x1="199.10" y1="764.76" x2="203.70" y2="764.76" stroke="#151515" stroke-width="1.3" /><text x="0" y="0" transform="translate(194.50,770.66) scale(0.85,1)" font-size="16.8" text-anchor="end" font-weight="normal" fill="#111" font-family='"Liberation Sans", sans-serif' >8</text><line x1="199.10" y1="791.22" x2="203.70" y2="791.22" stroke="#151515" stroke-width="1.3" /><text x="0" y="0" transform="translate(194.50,797.12) scale(0.85,1)" font-size="16.8" text-anchor="end" font-weight="normal" fill="#111" font-family='"Liberation Sans", sans-serif' >6</text><line x1="199.10" y1="817.68" x2="203.70" y2="817.68" stroke="#151515" stroke-width="1.3" /><text x="0" y="0" transform="translate(194.50,823.58) scale(0.85,1)" font-size="16.8" text-anchor="end" font-weight="normal" fill="#111" font-family='"Liberation Sans", sans-serif' >4</text><line x1="199.10" y1="844.14" x2="203.70" y2="844.14" stroke="#151515" stroke-width="1.3" /><text x="0" y="0" transform="translate(194.50,850.04) scale(0.85,1)" font-size="16.8" text-anchor="end" font-weight="normal" fill="#111" font-family='"Liberation Sans", sans-serif' >2</text><line x1="199.10" y1="870.60" x2="203.70" y2="870.60" stroke="#151515" stroke-width="1.3" /><text x="0" y="0" transform="translate(194.50,876.50) scale(0.85,1)" font-size="16.8" text-anchor="end" font-weight="normal" fill="#111" font-family='"Liberation Sans", sans-serif' >0</text>
<text x="0" y="0" transform="translate(171.60,851.20) rotate(-90)" font-size="16" text-anchor="middle" dominant-baseline="central" font-weight="normal" fill="#000" font-family='"Liberation Sans", sans-serif' >H-score</text>
<rect x="234.80" y="682.10" width="27.30" height="30.70" fill="#fe2210" stroke="#3a0a0a" stroke-width="1.1"/><line x1="234.80" y1="684.60" x2="262.10" y2="684.60" stroke="#3a0a0a" stroke-width="1.3" /><line x1="243.00" y1="687.80" x2="253.40" y2="698.20" stroke="#3a0a0a" stroke-width="1.1" /><line x1="243.00" y1="698.20" x2="253.40" y2="687.80" stroke="#3a0a0a" stroke-width="1.1" />
<rect x="265.60" y="784.90" width="28.50" height="53.70" fill="#3d7ad0" stroke="#0c1a33" stroke-width="1.1"/><line x1="265.60" y1="822.30" x2="294.10" y2="822.30" stroke="#0c1a33" stroke-width="1.3" /><line x1="274.10" y1="809.60" x2="285.70" y2="821.20" stroke="#0c1a33" stroke-width="1.1" /><line x1="274.10" y1="821.20" x2="285.70" y2="809.60" stroke="#0c1a33" stroke-width="1.1" />
<text x="252.20" y="732.60" font-size="12.3" text-anchor="middle" font-weight="normal" fill="#1a1a1a" font-family='"Liberation Sans", sans-serif' letter-spacing="0.35">DMSO</text>
<text x="279.40" y="855.20" font-size="12.3" text-anchor="middle" font-weight="normal" fill="#1a1a1a" font-family='"Liberation Sans", sans-serif' letter-spacing="0.35">NS1643</text>
<text x="280.20" y="783.80" font-size="19" text-anchor="middle" font-weight="normal" fill="#000" font-family='"Liberation Sans", sans-serif' >*</text>
<text x="365.00" y="627.60" font-size="19.8" text-anchor="start" font-weight="normal" fill="#000" font-family='"Liberation Sans", sans-serif' >F</text>
<text x="433.50" y="636.80" font-size="15.5" text-anchor="middle" font-weight="normal" fill="#000" font-family='"Liberation Sans", sans-serif' >c-Myc</text>
<clipPath id="clip21"><rect x="383.6" y="645.9" width="114.2" height="114.0"/></clipPath><defs><filter id="bi21" x="-5%" y="-5%" width="110%" height="110%"><feGaussianBlur stdDeviation="0.7"/></filter><radialGradient id="g21_0" cx="0.45" cy="0.45" r="0.6"><stop offset="0" stop-color="#76402a"/><stop offset="0.5" stop-color="#76402a"/><stop offset="0.85" stop-color="#4a1e0e"/><stop offset="1" stop-color="#4a1e0e"/></radialGradient><radialGradient id="g21_1" cx="0.45" cy="0.45" r="0.6"><stop offset="0" stop-color="#8a5236"/><stop offset="0.5" stop-color="#8a5236"/><stop offset="0.85" stop-color="#5e2c16"/><stop offset="1" stop-color="#5e2c16"/></radialGradient><radialGradient id="g21_2" cx="0.45" cy="0.45" r="0.6"><stop offset="0" stop-color="#a06e54"/><stop offset="0.5" stop-color="#a06e54"/><stop offset="0.85" stop-color="#70442c"/><stop offset="1" stop-color="#70442c"/></radialGradient><radialGradient id="g21_3" cx="0.45" cy="0.45" r="0.6"><stop offset="0" stop-color="#5e2c16"/><stop offset="0.5" stop-color="#5e2c16"/><stop offset="0.85" stop-color="#3a1408"/><stop offset="1" stop-color="#3a1408"/></radialGradient><radialGradient id="g21_4" cx="0.45" cy="0.45" r="0.6"><stop offset="0" stop-color="#ae8c7a"/><stop offset="0.5" stop-color="#ae8c7a"/><stop offset="0.85" stop-color="#80604e"/><stop offset="1" stop-color="#80604e"/></radialGradient></defs><g clip-path="url(#clip21)"><rect x="383.6" y="645.9" width="114.2" height="114.0" fill="#d2d2ce"/><g filter="url(#b3)"><ellipse cx="402.4" cy="724.5" rx="11.1" ry="7.4" fill="#ccbcae" opacity="0.5"/><ellipse cx="496.6" cy="700.0" rx="13.7" ry="5.9" fill="#ccbcae" opacity="0.5"/><ellipse cx="473.6" cy="647.5" rx="13.5" ry="7.1" fill="#ccbcae" opacity="0.5"/><ellipse cx="474.2" cy="672.4" rx="7.9" ry="5.2" fill="#c4c4c4" opacity="0.5"/><ellipse cx="453.9" cy="649.8" rx="8.6" ry="7.5" fill="#ccbcae" opacity="0.5"/><ellipse cx="457.7" cy="752.8" rx="6.2" ry="8.7" fill="#ccbcae" opacity="0.5"/><ellipse cx="397.9" cy="751.7" rx="9.6" ry="7.8" fill="#c4c4c4" opacity="0.5"/><ellipse cx="429.4" cy="663.1" rx="11.3" ry="7.3" fill="#ccbcae" opacity="0.5"/><ellipse cx="392.1" cy="668.4" rx="11.4" ry="9.0" fill="#ccbcae" opacity="0.5"/><ellipse cx="397.6" cy="700.2" rx="12.6" ry="6.0" fill="#ccbcae" opacity="0.5"/><ellipse cx="485.0" cy="692.6" rx="8.9" ry="7.3" fill="#c4c4c4" opacity="0.5"/><ellipse cx="419.9" cy="701.1" rx="8.1" ry="9.2" fill="#ccbcae" opacity="0.5"/><ellipse cx="465.6" cy="759.1" rx="10.0" ry="7.5" fill="#ccbcae" opacity="0.5"/><ellipse cx="448.9" cy="682.2" rx="13.8" ry="5.6" fill="#ccbcae" opacity="0.5"/></g><g filter="url(#bi21)"><ellipse cx="384.6" cy="648.5" rx="3.8" ry="3.2" transform="rotate(167 384.6 648.5)" fill="url(#g21_0)"/><ellipse cx="381.0" cy="657.8" rx="3.6" ry="2.6" transform="rotate(29 381.0 657.8)" fill="url(#g21_0)"/><ellipse cx="383.8" cy="664.3" rx="3.7" ry="3.2" transform="rotate(29 383.8 664.3)" fill="url(#g21_2)"/><ellipse cx="379.8" cy="670.5" rx="4.1" ry="3.3" transform="rotate(169 379.8 670.5)" fill="url(#g21_0)"/><ellipse cx="384.1" cy="679.8" rx="3.9" ry="3.2" transform="rotate(10 384.1 679.8)" fill="url(#g21_0)"/><ellipse cx="386.3" cy="690.1" rx="3.4" ry="2.3" transform="rotate(71 386.3 690.1)" fill="url(#g21_3)"/><ellipse cx="384.7" cy="694.8" rx="3.5" ry="2.9" transform="rotate(9 384.7 694.8)" fill="url(#g21_0)"/><ellipse cx="384.8" cy="709.3" rx="4.0" ry="3.6" transform="rotate(162 384.8 709.3)" fill="url(#g21_1)"/><ellipse cx="380.9" cy="713.7" rx="4.5" ry="3.4" transform="rotate(162 380.9 713.7)" fill="url(#g21_1)"/><ellipse cx="380.8" cy="724.0" rx="3.5" ry="2.9" transform="rotate(69 380.8 724.0)" fill="url(#g21_0)"/><ellipse cx="385.3" cy="730.1" rx="3.8" ry="2.6" transform="rotate(172 385.3 730.1)" fill="url(#g21_1)"/><ellipse cx="385.0" cy="742.4" rx="4.5" ry="3.0" transform="rotate(26 385.0 742.4)" fill="url(#g21_1)"/><ellipse cx="381.2" cy="750.2" rx="4.5" ry="2.9" transform="rotate(21 381.2 750.2)" fill="url(#g21_0)"/><ellipse cx="382.1" cy="761.1" rx="3.9" ry="3.4" transform="rotate(112 382.1 761.1)" fill="url(#g21_0)"/><ellipse cx="386.4" cy="764.0" rx="4.4" ry="3.7" transform="rotate(109 386.4 764.0)" fill="url(#g21_1)"/><ellipse cx="394.1" cy="642.5" rx="4.7" ry="3.4" transform="rotate(156 394.1 642.5)" fill="url(#g21_1)"/><ellipse cx="392.7" cy="657.2" rx="3.6" ry="3.2" transform="rotate(109 392.7 657.2)" fill="url(#g21_2)"/><ellipse cx="390.2" cy="660.4" rx="4.4" ry="3.9" transform="rotate(147 390.2 660.4)" fill="url(#g21_3)"/><ellipse cx="392.1" cy="672.3" rx="4.1" ry="2.6" transform="rotate(107 392.1 672.3)" fill="url(#g21_1)"/><ellipse cx="392.3" cy="678.7" rx="4.2" ry="3.5" transform="rotate(34 392.3 678.7)" fill="url(#g21_2)"/><ellipse cx="390.9" cy="686.6" rx="3.4" ry="2.7" transform="rotate(76 390.9 686.6)" fill="url(#g21_3)"/><ellipse cx="393.4" cy="698.5" rx="4.5" ry="4.0" transform="rotate(91 393.4 698.5)" fill="url(#g21_4)"/><ellipse cx="393.6" cy="707.7" rx="4.0" ry="3.1" transform="rotate(158 393.6 707.7)" fill="url(#g21_0)"/><ellipse cx="388.5" cy="716.0" rx="3.4" ry="2.3" transform="rotate(106 388.5 716.0)" fill="url(#g21_1)"/><ellipse cx="391.6" cy="725.6" rx="3.9" ry="2.8" transform="rotate(41 391.6 725.6)" fill="url(#g21_3)"/><ellipse cx="393.4" cy="728.3" rx="3.6" ry="2.6" transform="rotate(109 393.4 728.3)" fill="url(#g21_0)"/><ellipse cx="391.8" cy="741.5" rx="4.2" ry="3.5" transform="rotate(109 391.8 741.5)" fill="url(#g21_3)"/><ellipse cx="390.4" cy="749.0" rx="4.0" ry="2.9" transform="rotate(69 390.4 749.0)" fill="url(#g21_1)"/><ellipse cx="393.8" cy="760.9" rx="3.5" ry="2.4" transform="rotate(158 393.8 760.9)" fill="url(#g21_2)"/><ellipse cx="389.0" cy="763.8" rx="4.1" ry="3.2" transform="rotate(68 389.0 763.8)" fill="url(#g21_2)"/><ellipse cx="404.5" cy="649.7" rx="3.5" ry="2.6" transform="rotate(122 404.5 649.7)" fill="url(#g21_1)"/><ellipse cx="401.4" cy="652.1" rx="3.4" ry="2.1" transform="rotate(93 401.4 652.1)" fill="url(#g21_4)"/><ellipse cx="404.4" cy="666.2" rx="4.1" ry="2.8" transform="rotate(124 404.4 666.2)" fill="url(#g21_2)"/><ellipse cx="398.1" cy="670.9" rx="3.9" ry="2.9" transform="rotate(120 398.1 670.9)" fill="url(#g21_2)"/><ellipse cx="402.1" cy="681.2" rx="3.4" ry="3.1" transform="rotate(39 402.1 681.2)" fill="url(#g21_1)"/><ellipse cx="401.8" cy="691.8" rx="3.9" ry="2.5" transform="rotate(104 401.8 691.8)" fill="url(#g21_1)"/><ellipse cx="400.3" cy="697.1" rx="4.8" ry="4.2" transform="rotate(27 400.3 697.1)" fill="url(#g21_4)"/><ellipse cx="398.4" cy="705.1" rx="3.3" ry="2.2" transform="rotate(103 398.4 705.1)" fill="url(#g21_3)"/><ellipse cx="400.3" cy="717.3" rx="3.8" ry="2.8" transform="rotate(159 400.3 717.3)" fill="url(#g21_0)"/><ellipse cx="401.4" cy="725.8" rx="4.2" ry="3.1" transform="rotate(143 401.4 725.8)" fill="url(#g21_2)"/><ellipse cx="397.5" cy="731.4" rx="4.5" ry="4.1" transform="rotate(118 397.5 731.4)" fill="url(#g21_0)"/><ellipse cx="400.8" cy="740.7" rx="4.1" ry="3.1" transform="rotate(122 400.8 740.7)" fill="url(#g21_2)"/><ellipse cx="398.1" cy="746.4" rx="3.7" ry="3.0" transform="rotate(2 398.1 746.4)" fill="url(#g21_3)"/><ellipse cx="402.1" cy="755.3" rx="3.4" ry="2.9" transform="rotate(65 402.1 755.3)" fill="url(#g21_1)"/><ellipse cx="398.2" cy="767.0" rx="3.7" ry="3.1" transform="rotate(72 398.2 767.0)" fill="url(#g21_0)"/><ellipse cx="407.3" cy="644.8" rx="3.7" ry="2.5" transform="rotate(35 407.3 644.8)" fill="url(#g21_4)"/><ellipse cx="408.8" cy="653.1" rx="3.6" ry="2.8" transform="rotate(131 408.8 653.1)" fill="url(#g21_2)"/><ellipse cx="410.4" cy="664.2" rx="3.3" ry="2.4" transform="rotate(86 410.4 664.2)" fill="url(#g21_3)"/><ellipse cx="408.9" cy="668.0" rx="3.7" ry="2.4" transform="rotate(123 408.9 668.0)" fill="url(#g21_2)"/><ellipse cx="410.3" cy="681.1" rx="3.5" ry="2.5" transform="rotate(38 410.3 681.1)" fill="url(#g21_1)"/><ellipse cx="410.9" cy="687.9" rx="4.7" ry="3.1" transform="rotate(48 410.9 687.9)" fill="url(#g21_0)"/><ellipse cx="408.4" cy="699.4" rx="3.6" ry="3.2" transform="rotate(90 408.4 699.4)" fill="url(#g21_1)"/><ellipse cx="407.3" cy="706.2" rx="3.7" ry="2.8" transform="rotate(138 407.3 706.2)" fill="url(#g21_4)"/><ellipse cx="412.6" cy="712.7" rx="4.2" ry="3.0" transform="rotate(121 412.6 712.7)" fill="url(#g21_3)"/><ellipse cx="410.0" cy="727.1" rx="4.7" ry="4.1" transform="rotate(136 410.0 727.1)" fill="url(#g21_4)"/><ellipse cx="411.3" cy="733.8" rx="3.6" ry="2.8" transform="rotate(67 411.3 733.8)" fill="url(#g21_4)"/><ellipse cx="407.8" cy="737.9" rx="4.3" ry="3.4" transform="rotate(84 407.8 737.9)" fill="url(#g21_1)"/><ellipse cx="407.0" cy="746.9" rx="3.6" ry="3.0" transform="rotate(40 407.0 746.9)" fill="url(#g21_1)"/><ellipse cx="405.8" cy="760.5" rx="3.6" ry="3.0" transform="rotate(60 405.8 760.5)" fill="url(#g21_1)"/><ellipse cx="407.9" cy="763.5" rx="3.6" ry="2.4" transform="rotate(26 407.9 763.5)" fill="url(#g21_0)"/><ellipse cx="420.1" cy="648.7" rx="3.7" ry="3.2" transform="rotate(82 420.1 648.7)" fill="url(#g21_1)"/><ellipse cx="420.9" cy="654.9" rx="4.4" ry="3.6" transform="rotate(5 420.9 654.9)" fill="url(#g21_3)"/><ellipse cx="415.2" cy="661.8" rx="3.8" ry="3.0" transform="rotate(81 415.2 661.8)" fill="url(#g21_2)"/><ellipse cx="414.7" cy="669.8" rx="3.5" ry="2.8" transform="rotate(132 414.7 669.8)" fill="url(#g21_1)"/><ellipse cx="415.1" cy="683.4" rx="4.2" ry="3.0" transform="rotate(153 415.1 683.4)" fill="url(#g21_2)"/><ellipse cx="416.1" cy="686.0" rx="4.4" ry="3.9" transform="rotate(19 416.1 686.0)" fill="url(#g21_2)"/><ellipse cx="419.1" cy="697.6" rx="3.5" ry="2.9" transform="rotate(89 419.1 697.6)" fill="url(#g21_0)"/><ellipse cx="421.1" cy="709.4" rx="4.1" ry="2.5" transform="rotate(152 421.1 709.4)" fill="url(#g21_0)"/><ellipse cx="416.2" cy="717.2" rx="3.4" ry="2.8" transform="rotate(108 416.2 717.2)" fill="url(#g21_1)"/><ellipse cx="421.8" cy="721.2" rx="4.4" ry="3.3" transform="rotate(97 421.8 721.2)" fill="url(#g21_1)"/><ellipse cx="417.5" cy="728.2" rx="4.7" ry="3.1" transform="rotate(72 417.5 728.2)" fill="url(#g21_1)"/><ellipse cx="419.1" cy="742.2" rx="4.2" ry="3.1" transform="rotate(42 419.1 742.2)" fill="url(#g21_3)"/><ellipse cx="421.1" cy="751.8" rx="4.5" ry="3.9" transform="rotate(135 421.1 751.8)" fill="url(#g21_1)"/><ellipse cx="415.3" cy="753.9" rx="3.7" ry="3.0" transform="rotate(54 415.3 753.9)" fill="url(#g21_4)"/><ellipse cx="417.7" cy="764.0" rx="3.3" ry="2.2" transform="rotate(28 417.7 764.0)" fill="url(#g21_1)"/><ellipse cx="424.0" cy="647.0" rx="4.2" ry="2.8" transform="rotate(22 424.0 647.0)" fill="url(#g21_2)"/><ellipse cx="424.3" cy="650.8" rx="4.5" ry="3.0" transform="rotate(102 424.3 650.8)" fill="url(#g21_0)"/><ellipse cx="426.1" cy="665.3" rx="4.7" ry="3.8" transform="rotate(146 426.1 665.3)" fill="url(#g21_1)"/><ellipse cx="430.2" cy="674.1" rx="4.3" ry="3.8" transform="rotate(75 430.2 674.1)" fill="url(#g21_1)"/><ellipse cx="423.1" cy="679.6" rx="4.5" ry="3.4" transform="rotate(7 423.1 679.6)" fill="url(#g21_2)"/><ellipse cx="428.8" cy="687.0" rx="4.0" ry="2.8" transform="rotate(148 428.8 687.0)" fill="url(#g21_0)"/><ellipse cx="425.6" cy="697.4" rx="3.7" ry="3.2" transform="rotate(53 425.6 697.4)" fill="url(#g21_0)"/><ellipse cx="427.3" cy="706.0" rx="4.5" ry="3.0" transform="rotate(130 427.3 706.0)" fill="url(#g21_1)"/><ellipse cx="425.8" cy="712.9" rx="4.3" ry="3.8" transform="rotate(9 425.8 712.9)" fill="url(#g21_2)"/><ellipse cx="429.1" cy="723.4" rx="3.5" ry="3.1" transform="rotate(39 429.1 723.4)" fill="url(#g21_3)"/><ellipse cx="428.3" cy="728.4" rx="4.2" ry="3.4" transform="rotate(78 428.3 728.4)" fill="url(#g21_3)"/><ellipse cx="422.9" cy="740.5" rx="3.5" ry="2.4" transform="rotate(30 422.9 740.5)" fill="url(#g21_4)"/><ellipse cx="422.8" cy="751.2" rx="4.6" ry="4.1" transform="rotate(45 422.8 751.2)" fill="url(#g21_1)"/><ellipse cx="429.3" cy="755.3" rx="4.4" ry="3.8" transform="rotate(33 429.3 755.3)" fill="url(#g21_1)"/><ellipse cx="423.8" cy="765.3" rx="4.7" ry="3.7" transform="rotate(52 423.8 765.3)" fill="url(#g21_2)"/><ellipse cx="436.7" cy="647.7" rx="3.4" ry="2.2" transform="rotate(129 436.7 647.7)" fill="url(#g21_1)"/><ellipse cx="435.7" cy="657.0" rx="4.5" ry="3.7" transform="rotate(5 435.7 657.0)" fill="url(#g21_1)"/><ellipse cx="438.4" cy="660.9" rx="4.8" ry="4.0" transform="rotate(41 438.4 660.9)" fill="url(#g21_0)"/><ellipse cx="431.5" cy="669.5" rx="3.9" ry="2.6" transform="rotate(117 431.5 669.5)" fill="url(#g21_2)"/><ellipse cx="433.0" cy="677.7" rx="4.7" ry="3.4" transform="rotate(167 433.0 677.7)" fill="url(#g21_3)"/><ellipse cx="435.3" cy="685.4" rx="4.4" ry="3.6" transform="rotate(30 435.3 685.4)" fill="url(#g21_0)"/><ellipse cx="435.0" cy="694.2" rx="3.8" ry="2.5" transform="rotate(105 435.0 694.2)" fill="url(#g21_2)"/><ellipse cx="438.1" cy="704.5" rx="4.5" ry="3.9" transform="rotate(100 438.1 704.5)" fill="url(#g21_0)"/><ellipse cx="431.4" cy="714.0" rx="4.5" ry="3.9" transform="rotate(83 431.4 714.0)" fill="url(#g21_3)"/><ellipse cx="438.2" cy="721.5" rx="3.8" ry="2.9" transform="rotate(117 438.2 721.5)" fill="url(#g21_2)"/><ellipse cx="432.9" cy="729.3" rx="3.4" ry="2.9" transform="rotate(29 432.9 729.3)" fill="url(#g21_4)"/><ellipse cx="431.7" cy="742.7" rx="4.3" ry="3.3" transform="rotate(8 431.7 742.7)" fill="url(#g21_0)"/><ellipse cx="433.8" cy="750.5" rx="3.6" ry="2.4" transform="rotate(58 433.8 750.5)" fill="url(#g21_2)"/><ellipse cx="436.0" cy="755.4" rx="3.6" ry="2.9" transform="rotate(74 436.0 755.4)" fill="url(#g21_1)"/><ellipse cx="437.0" cy="765.4" rx="4.5" ry="3.2" transform="rotate(167 437.0 765.4)" fill="url(#g21_0)"/><ellipse cx="442.2" cy="643.8" rx="4.5" ry="3.8" transform="rotate(34 442.2 643.8)" fill="url(#g21_4)"/><ellipse cx="444.7" cy="657.6" rx="4.0" ry="3.3" transform="rotate(168 444.7 657.6)" fill="url(#g21_0)"/><ellipse cx="445.5" cy="662.6" rx="3.4" ry="2.5" transform="rotate(88 445.5 662.6)" fill="url(#g21_3)"/><ellipse cx="444.2" cy="674.8" rx="4.7" ry="4.0" transform="rotate(164 444.2 674.8)" fill="url(#g21_2)"/><ellipse cx="440.0" cy="682.4" rx="4.8" ry="3.7" transform="rotate(130 440.0 682.4)" fill="url(#g21_0)"/><ellipse cx="446.8" cy="691.8" rx="4.8" ry="4.2" transform="rotate(16 446.8 691.8)" fill="url(#g21_1)"/><ellipse cx="447.5" cy="700.3" rx="4.5" ry="3.4" transform="rotate(48 447.5 700.3)" fill="url(#g21_1)"/><ellipse cx="444.9" cy="709.8" rx="3.8" ry="3.3" transform="rotate(26 444.9 709.8)" fill="url(#g21_3)"/><ellipse cx="445.0" cy="715.2" rx="4.5" ry="3.3" transform="rotate(134 445.0 715.2)" fill="url(#g21_1)"/><ellipse cx="443.9" cy="726.5" rx="4.3" ry="3.7" transform="rotate(83 443.9 726.5)" fill="url(#g21_1)"/><ellipse cx="443.9" cy="729.9" rx="4.1" ry="2.9" transform="rotate(35 443.9 729.9)" fill="url(#g21_1)"/><ellipse cx="442.4" cy="741.2" rx="4.0" ry="3.0" transform="rotate(41 442.4 741.2)" fill="url(#g21_3)"/><ellipse cx="446.7" cy="746.8" rx="3.6" ry="2.8" transform="rotate(173 446.7 746.8)" fill="url(#g21_0)"/><ellipse cx="447.2" cy="755.3" rx="4.5" ry="3.4" transform="rotate(107 447.2 755.3)" fill="url(#g21_0)"/><ellipse cx="443.8" cy="763.1" rx="4.2" ry="3.6" transform="rotate(164 443.8 763.1)" fill="url(#g21_3)"/><ellipse cx="452.9" cy="642.5" rx="4.8" ry="3.2" transform="rotate(2 452.9 642.5)" fill="url(#g21_3)"/><ellipse cx="452.4" cy="656.8" rx="4.3" ry="3.4" transform="rotate(126 452.4 656.8)" fill="url(#g21_4)"/><ellipse cx="455.1" cy="662.3" rx="4.2" ry="2.8" transform="rotate(35 455.1 662.3)" fill="url(#g21_2)"/><ellipse cx="456.0" cy="671.1" rx="4.6" ry="3.7" transform="rotate(47 456.0 671.1)" fill="url(#g21_2)"/><ellipse cx="453.7" cy="679.5" rx="3.7" ry="3.1" transform="rotate(42 453.7 679.5)" fill="url(#g21_2)"/><ellipse cx="450.5" cy="692.5" rx="4.1" ry="3.1" transform="rotate(47 450.5 692.5)" fill="url(#g21_0)"/><ellipse cx="455.5" cy="700.3" rx="3.5" ry="2.8" transform="rotate(163 455.5 700.3)" fill="url(#g21_0)"/><ellipse cx="453.0" cy="704.7" rx="4.1" ry="3.6" transform="rotate(109 453.0 704.7)" fill="url(#g21_0)"/><ellipse cx="448.9" cy="716.0" rx="4.5" ry="3.5" transform="rotate(33 448.9 716.0)" fill="url(#g21_4)"/><ellipse cx="451.4" cy="721.8" rx="4.5" ry="4.0" transform="rotate(26 451.4 721.8)" fill="url(#g21_3)"/><ellipse cx="451.5" cy="732.9" rx="3.5" ry="3.0" transform="rotate(69 451.5 732.9)" fill="url(#g21_0)"/><ellipse cx="453.7" cy="741.6" rx="4.5" ry="2.9" transform="rotate(176 453.7 741.6)" fill="url(#g21_0)"/><ellipse cx="456.0" cy="751.4" rx="3.8" ry="2.8" transform="rotate(131 456.0 751.4)" fill="url(#g21_0)"/><ellipse cx="454.8" cy="760.9" rx="3.4" ry="2.8" transform="rotate(165 454.8 760.9)" fill="url(#g21_1)"/><ellipse cx="449.7" cy="766.4" rx="3.4" ry="2.9" transform="rotate(82 449.7 766.4)" fill="url(#g21_1)"/><ellipse cx="460.6" cy="645.7" rx="3.7" ry="3.0" transform="rotate(10 460.6 645.7)" fill="url(#g21_0)"/><ellipse cx="464.2" cy="656.6" rx="4.4" ry="3.4" transform="rotate(43 464.2 656.6)" fill="url(#g21_0)"/><ellipse cx="461.6" cy="663.6" rx="3.6" ry="3.2" transform="rotate(133 461.6 663.6)" fill="url(#g21_1)"/><ellipse cx="464.0" cy="674.7" rx="4.6" ry="3.9" transform="rotate(56 464.0 674.7)" fill="url(#g21_3)"/><ellipse cx="459.3" cy="682.8" rx="4.3" ry="2.7" transform="rotate(114 459.3 682.8)" fill="url(#g21_4)"/><ellipse cx="457.7" cy="685.9" rx="4.0" ry="3.2" transform="rotate(57 457.7 685.9)" fill="url(#g21_3)"/><ellipse cx="460.4" cy="696.6" rx="4.1" ry="2.6" transform="rotate(153 460.4 696.6)" fill="url(#g21_0)"/><ellipse cx="462.9" cy="702.8" rx="3.9" ry="2.8" transform="rotate(99 462.9 702.8)" fill="url(#g21_4)"/><ellipse cx="460.2" cy="711.7" rx="4.1" ry="3.6" transform="rotate(16 460.2 711.7)" fill="url(#g21_2)"/><ellipse cx="464.5" cy="725.0" rx="4.7" ry="3.2" transform="rotate(143 464.5 725.0)" fill="url(#g21_0)"/><ellipse cx="463.5" cy="728.2" rx="4.3" ry="2.9" transform="rotate(60 463.5 728.2)" fill="url(#g21_1)"/><ellipse cx="462.5" cy="738.2" rx="3.5" ry="2.5" transform="rotate(151 462.5 738.2)" fill="url(#g21_3)"/><ellipse cx="464.2" cy="752.0" rx="4.4" ry="2.8" transform="rotate(136 464.2 752.0)" fill="url(#g21_3)"/><ellipse cx="464.2" cy="760.0" rx="3.9" ry="2.5" transform="rotate(177 464.2 760.0)" fill="url(#g21_2)"/><ellipse cx="459.2" cy="762.6" rx="4.6" ry="2.9" transform="rotate(87 459.2 762.6)" fill="url(#g21_4)"/><ellipse cx="468.7" cy="649.3" rx="4.0" ry="3.3" transform="rotate(15 468.7 649.3)" fill="url(#g21_3)"/><ellipse cx="472.0" cy="655.9" rx="3.7" ry="2.6" transform="rotate(33 472.0 655.9)" fill="url(#g21_0)"/><ellipse cx="473.2" cy="666.2" rx="4.2" ry="3.5" transform="rotate(92 473.2 666.2)" fill="url(#g21_0)"/><ellipse cx="470.5" cy="669.6" rx="3.3" ry="2.1" transform="rotate(78 470.5 669.6)" fill="url(#g21_2)"/><ellipse cx="466.4" cy="680.5" rx="3.9" ry="2.9" transform="rotate(164 466.4 680.5)" fill="url(#g21_0)"/><ellipse cx="473.2" cy="690.7" rx="3.8" ry="2.9" transform="rotate(61 473.2 690.7)" fill="url(#g21_0)"/><ellipse cx="471.9" cy="699.1" rx="4.3" ry="3.1" transform="rotate(104 471.9 699.1)" fill="url(#g21_0)"/><ellipse cx="465.8" cy="709.8" rx="4.7" ry="3.0" transform="rotate(32 465.8 709.8)" fill="url(#g21_3)"/><ellipse cx="466.8" cy="717.9" rx="4.2" ry="3.1" transform="rotate(115 466.8 717.9)" fill="url(#g21_3)"/><ellipse cx="467.3" cy="722.3" rx="4.0" ry="2.6" transform="rotate(26 467.3 722.3)" fill="url(#g21_2)"/><ellipse cx="467.9" cy="733.2" rx="3.7" ry="2.7" transform="rotate(67 467.9 733.2)" fill="url(#g21_3)"/><ellipse cx="470.4" cy="743.4" rx="4.6" ry="4.0" transform="rotate(6 470.4 743.4)" fill="url(#g21_3)"/><ellipse cx="467.6" cy="747.2" rx="4.1" ry="3.5" transform="rotate(40 467.6 747.2)" fill="url(#g21_2)"/><ellipse cx="468.4" cy="758.1" rx="4.4" ry="2.8" transform="rotate(7 468.4 758.1)" fill="url(#g21_1)"/><ellipse cx="469.5" cy="765.7" rx="4.6" ry="3.0" transform="rotate(174 469.5 765.7)" fill="url(#g21_1)"/><ellipse cx="479.6" cy="643.8" rx="4.1" ry="3.7" transform="rotate(98 479.6 643.8)" fill="url(#g21_1)"/><ellipse cx="475.3" cy="655.0" rx="4.1" ry="2.9" transform="rotate(77 475.3 655.0)" fill="url(#g21_0)"/><ellipse cx="481.3" cy="661.3" rx="3.8" ry="3.2" transform="rotate(34 481.3 661.3)" fill="url(#g21_1)"/><ellipse cx="477.9" cy="672.7" rx="4.0" ry="3.5" transform="rotate(155 477.9 672.7)" fill="url(#g21_1)"/><ellipse cx="480.7" cy="678.2" rx="4.3" ry="2.9" transform="rotate(109 480.7 678.2)" fill="url(#g21_0)"/><ellipse cx="479.1" cy="691.7" rx="3.4" ry="2.3" transform="rotate(64 479.1 691.7)" fill="url(#g21_0)"/><ellipse cx="477.8" cy="698.0" rx="3.7" ry="3.3" transform="rotate(156 477.8 698.0)" fill="url(#g21_1)"/><ellipse cx="476.8" cy="703.8" rx="3.8" ry="3.0" transform="rotate(40 476.8 703.8)" fill="url(#g21_0)"/><ellipse cx="476.8" cy="713.1" rx="4.1" ry="2.9" transform="rotate(115 476.8 713.1)" fill="url(#g21_0)"/><ellipse cx="480.2" cy="722.4" rx="4.0" ry="3.3" transform="rotate(150 480.2 722.4)" fill="url(#g21_2)"/><ellipse cx="479.9" cy="728.3" rx="3.7" ry="3.0" transform="rotate(77 479.9 728.3)" fill="url(#g21_4)"/><ellipse cx="479.6" cy="737.9" rx="3.6" ry="2.7" transform="rotate(102 479.6 737.9)" fill="url(#g21_3)"/><ellipse cx="479.6" cy="748.4" rx="3.4" ry="2.5" transform="rotate(77 479.6 748.4)" fill="url(#g21_2)"/><ellipse cx="475.4" cy="758.9" rx="3.3" ry="2.1" transform="rotate(132 475.4 758.9)" fill="url(#g21_2)"/><ellipse cx="475.3" cy="764.0" rx="4.5" ry="3.9" transform="rotate(137 475.3 764.0)" fill="url(#g21_3)"/><ellipse cx="486.9" cy="644.3" rx="3.9" ry="3.2" transform="rotate(12 486.9 644.3)" fill="url(#g21_2)"/><ellipse cx="488.9" cy="654.8" rx="3.9" ry="3.5" transform="rotate(7 488.9 654.8)" fill="url(#g21_0)"/><ellipse cx="483.3" cy="661.6" rx="4.0" ry="3.3" transform="rotate(152 483.3 661.6)" fill="url(#g21_0)"/><ellipse cx="488.5" cy="672.0" rx="3.9" ry="3.1" transform="rotate(164 488.5 672.0)" fill="url(#g21_2)"/><ellipse cx="483.2" cy="678.2" rx="3.7" ry="2.7" transform="rotate(17 483.2 678.2)" fill="url(#g21_3)"/><ellipse cx="483.0" cy="692.7" rx="3.8" ry="3.4" transform="rotate(3 483.0 692.7)" fill="url(#g21_3)"/><ellipse cx="488.3" cy="694.7" rx="3.8" ry="2.5" transform="rotate(71 488.3 694.7)" fill="url(#g21_0)"/><ellipse cx="483.4" cy="703.3" rx="3.6" ry="2.7" transform="rotate(115 483.4 703.3)" fill="url(#g21_3)"/><ellipse cx="486.9" cy="712.8" rx="4.1" ry="2.8" transform="rotate(7 486.9 712.8)" fill="url(#g21_3)"/><ellipse cx="483.5" cy="720.1" rx="4.5" ry="3.6" transform="rotate(162 483.5 720.1)" fill="url(#g21_3)"/><ellipse cx="484.6" cy="729.8" rx="4.1" ry="3.6" transform="rotate(32 484.6 729.8)" fill="url(#g21_0)"/><ellipse cx="489.5" cy="738.0" rx="4.6" ry="3.1" transform="rotate(109 489.5 738.0)" fill="url(#g21_0)"/><ellipse cx="489.7" cy="751.4" rx="3.7" ry="2.7" transform="rotate(69 489.7 751.4)" fill="url(#g21_1)"/><ellipse cx="484.2" cy="758.7" rx="4.6" ry="3.9" transform="rotate(15 484.2 758.7)" fill="url(#g21_3)"/><ellipse cx="486.4" cy="768.0" rx="3.5" ry="2.7" transform="rotate(152 486.4 768.0)" fill="url(#g21_3)"/><ellipse cx="496.3" cy="644.1" rx="3.6" ry="2.9" transform="rotate(18 496.3 644.1)" fill="url(#g21_0)"/><ellipse cx="496.5" cy="655.4" rx="4.7" ry="4.1" transform="rotate(136 496.5 655.4)" fill="url(#g21_1)"/><ellipse cx="494.1" cy="663.2" rx="4.1" ry="3.6" transform="rotate(151 494.1 663.2)" fill="url(#g21_1)"/><ellipse cx="498.9" cy="674.0" rx="3.3" ry="2.7" transform="rotate(113 498.9 674.0)" fill="url(#g21_3)"/><ellipse cx="495.1" cy="683.5" rx="4.8" ry="3.5" transform="rotate(179 495.1 683.5)" fill="url(#g21_3)"/><ellipse cx="495.5" cy="691.8" rx="4.5" ry="3.0" transform="rotate(144 495.5 691.8)" fill="url(#g21_0)"/><ellipse cx="498.6" cy="694.7" rx="3.7" ry="2.4" transform="rotate(54 498.6 694.7)" fill="url(#g21_3)"/><ellipse cx="493.0" cy="705.2" rx="4.1" ry="3.5" transform="rotate(135 493.0 705.2)" fill="url(#g21_0)"/><ellipse cx="493.4" cy="715.2" rx="3.4" ry="2.2" transform="rotate(29 493.4 715.2)" fill="url(#g21_1)"/><ellipse cx="498.7" cy="723.9" rx="4.5" ry="3.6" transform="rotate(88 498.7 723.9)" fill="url(#g21_0)"/><ellipse cx="491.8" cy="728.4" rx="4.2" ry="3.3" transform="rotate(165 491.8 728.4)" fill="url(#g21_0)"/><ellipse cx="497.7" cy="738.1" rx="4.4" ry="3.1" transform="rotate(108 497.7 738.1)" fill="url(#g21_2)"/><ellipse cx="498.7" cy="750.7" rx="4.5" ry="3.5" transform="rotate(57 498.7 750.7)" fill="url(#g21_1)"/><ellipse cx="495.6" cy="756.7" rx="4.2" ry="3.4" transform="rotate(159 495.6 756.7)" fill="url(#g21_1)"/><ellipse cx="494.4" cy="767.1" rx="3.7" ry="3.3" transform="rotate(58 494.4 767.1)" fill="url(#g21_3)"/><ellipse cx="503.6" cy="647.5" rx="3.9" ry="2.5" transform="rotate(43 503.6 647.5)" fill="url(#g21_0)"/><ellipse cx="506.4" cy="651.2" rx="4.0" ry="3.3" transform="rotate(118 506.4 651.2)" fill="url(#g21_4)"/><ellipse cx="507.2" cy="662.3" rx="3.9" ry="3.3" transform="rotate(120 507.2 662.3)" fill="url(#g21_3)"/><ellipse cx="501.3" cy="675.2" rx="3.5" ry="2.3" transform="rotate(168 501.3 675.2)" fill="url(#g21_3)"/><ellipse cx="504.9" cy="680.3" rx="3.7" ry="3.0" transform="rotate(6 504.9 680.3)" fill="url(#g21_0)"/><ellipse cx="501.9" cy="687.9" rx="3.3" ry="2.9" transform="rotate(58 501.9 687.9)" fill="url(#g21_2)"/><ellipse cx="506.3" cy="699.8" rx="3.5" ry="2.3" transform="rotate(78 506.3 699.8)" fill="url(#g21_4)"/><ellipse cx="500.2" cy="703.4" rx="4.7" ry="3.1" transform="rotate(89 500.2 703.4)" fill="url(#g21_3)"/><ellipse cx="500.8" cy="715.5" rx="3.4" ry="2.5" transform="rotate(49 500.8 715.5)" fill="url(#g21_0)"/><ellipse cx="507.5" cy="721.2" rx="4.4" ry="3.9" transform="rotate(132 507.5 721.2)" fill="url(#g21_3)"/><ellipse cx="502.5" cy="733.8" rx="4.0" ry="2.8" transform="rotate(12 502.5 733.8)" fill="url(#g21_1)"/><ellipse cx="503.5" cy="740.4" rx="4.4" ry="3.3" transform="rotate(101 503.5 740.4)" fill="url(#g21_2)"/><ellipse cx="505.2" cy="749.9" rx="4.2" ry="3.0" transform="rotate(145 505.2 749.9)" fill="url(#g21_3)"/><ellipse cx="506.5" cy="755.9" rx="4.0" ry="3.2" transform="rotate(102 506.5 755.9)" fill="url(#g21_1)"/><ellipse cx="500.4" cy="769.4" rx="3.5" ry="2.8" transform="rotate(97 500.4 769.4)" fill="url(#g21_3)"/></g></g><rect x="383.6" y="645.9" width="114.2" height="114.0" fill="none" stroke="#151515" stroke-width="1.7"/>
<clipPath id="clip22"><rect x="384.8" y="767.2" width="114.2" height="114.1"/></clipPath><defs><filter id="bi22" x="-5%" y="-5%" width="110%" height="110%"><feGaussianBlur stdDeviation="0.7"/></filter><radialGradient id="g22_0" cx="0.45" cy="0.45" r="0.6"><stop offset="0" stop-color="#98a4c6"/><stop offset="0.5" stop-color="#98a4c6"/><stop offset="0.85" stop-color="#7684ae"/><stop offset="1" stop-color="#7684ae"/></radialGradient><radialGradient id="g22_1" cx="0.45" cy="0.45" r="0.6"><stop offset="0" stop-color="#a6b0cc"/><stop offset="0.5" stop-color="#a6b0cc"/><stop offset="0.85" stop-color="#8690b8"/><stop offset="1" stop-color="#8690b8"/></radialGradient><radialGradient id="g22_2" cx="0.45" cy="0.45" r="0.6"><stop offset="0" stop-color="#8492ba"/><stop offset="0.5" stop-color="#8492ba"/><stop offset="0.85" stop-color="#66749e"/><stop offset="1" stop-color="#66749e"/></radialGradient><radialGradient id="g22_3" cx="0.45" cy="0.45" r="0.6"><stop offset="0" stop-color="#aca2aa"/><stop offset="0.5" stop-color="#aca2aa"/><stop offset="0.85" stop-color="#8a8088"/><stop offset="1" stop-color="#8a8088"/></radialGradient></defs><g clip-path="url(#clip22)"><rect x="384.8" y="767.2" width="114.2" height="114.1" fill="#d8dadb"/><g filter="url(#b3)"><ellipse cx="494.2" cy="783.2" rx="6.2" ry="10.0" fill="#e0dcd8" opacity="0.5"/><ellipse cx="465.0" cy="851.6" rx="13.0" ry="9.0" fill="#e0dcd8" opacity="0.5"/><ellipse cx="411.3" cy="876.7" rx="8.6" ry="8.0" fill="#dccbc0" opacity="0.5"/><ellipse cx="463.1" cy="872.6" rx="11.7" ry="5.2" fill="#e0dcd8" opacity="0.5"/><ellipse cx="452.1" cy="802.6" rx="7.5" ry="9.2" fill="#dccbc0" opacity="0.5"/><ellipse cx="445.4" cy="850.4" rx="13.9" ry="9.8" fill="#e0dcd8" opacity="0.5"/><ellipse cx="464.6" cy="837.1" rx="8.1" ry="9.8" fill="#ccd0dc" opacity="0.5"/><ellipse cx="487.7" cy="866.5" rx="13.6" ry="7.6" fill="#ccd0dc" opacity="0.5"/><ellipse cx="479.0" cy="843.4" rx="7.5" ry="5.2" fill="#dccbc0" opacity="0.5"/><ellipse cx="487.7" cy="815.1" rx="8.0" ry="6.4" fill="#ccd0dc" opacity="0.5"/><ellipse cx="430.2" cy="872.7" rx="7.5" ry="7.8" fill="#ccd0dc" opacity="0.5"/><ellipse cx="451.3" cy="801.1" rx="10.8" ry="7.7" fill="#ccd0dc" opacity="0.5"/><ellipse cx="471.3" cy="869.8" rx="9.4" ry="5.5" fill="#ccd0dc" opacity="0.5"/><ellipse cx="425.4" cy="816.5" rx="9.2" ry="9.6" fill="#e0dcd8" opacity="0.5"/></g><g filter="url(#bi22)"><ellipse cx="384.9" cy="766.4" rx="3.2" ry="2.4" transform="rotate(31 384.9 766.4)" fill="url(#g22_1)"/><ellipse cx="383.7" cy="774.3" rx="3.6" ry="2.0" transform="rotate(7 383.7 774.3)" fill="url(#g22_1)"/><ellipse cx="387.0" cy="785.1" rx="3.3" ry="2.4" transform="rotate(9 387.0 785.1)" fill="url(#g22_0)"/><ellipse cx="387.3" cy="795.6" rx="3.7" ry="2.8" transform="rotate(90 387.3 795.6)" fill="url(#g22_1)"/><ellipse cx="385.4" cy="804.5" rx="4.2" ry="2.7" transform="rotate(131 385.4 804.5)" fill="url(#g22_1)"/><ellipse cx="383.7" cy="811.3" rx="4.3" ry="2.9" transform="rotate(170 383.7 811.3)" fill="url(#g22_0)"/><ellipse cx="384.8" cy="818.6" rx="3.5" ry="2.0" transform="rotate(125 384.8 818.6)" fill="url(#g22_1)"/><ellipse cx="383.1" cy="822.5" rx="4.5" ry="2.8" transform="rotate(21 383.1 822.5)" fill="url(#g22_0)"/><ellipse cx="382.9" cy="837.2" rx="3.3" ry="1.9" transform="rotate(18 382.9 837.2)" fill="url(#g22_1)"/><ellipse cx="382.6" cy="841.6" rx="4.2" ry="3.2" transform="rotate(150 382.6 841.6)" fill="url(#g22_0)"/><ellipse cx="383.9" cy="853.8" rx="3.1" ry="1.7" transform="rotate(88 383.9 853.8)" fill="url(#g22_0)"/><ellipse cx="386.7" cy="861.2" rx="3.7" ry="2.2" transform="rotate(42 386.7 861.2)" fill="url(#g22_0)"/><ellipse cx="381.5" cy="869.3" rx="3.3" ry="2.5" transform="rotate(116 381.5 869.3)" fill="url(#g22_0)"/><ellipse cx="384.8" cy="877.2" rx="3.1" ry="2.0" transform="rotate(5 384.8 877.2)" fill="url(#g22_2)"/><ellipse cx="381.1" cy="885.8" rx="4.6" ry="3.5" transform="rotate(42 381.1 885.8)" fill="url(#g22_1)"/><ellipse cx="390.5" cy="766.0" rx="4.4" ry="3.3" transform="rotate(2 390.5 766.0)" fill="url(#g22_0)"/><ellipse cx="394.3" cy="773.1" rx="4.3" ry="3.3" transform="rotate(99 394.3 773.1)" fill="url(#g22_0)"/><ellipse cx="395.8" cy="784.1" rx="3.3" ry="1.9" transform="rotate(29 395.8 784.1)" fill="url(#g22_2)"/><ellipse cx="393.3" cy="793.9" rx="4.3" ry="3.4" transform="rotate(34 393.3 793.9)" fill="url(#g22_0)"/><ellipse cx="396.0" cy="802.8" rx="3.6" ry="2.5" transform="rotate(35 396.0 802.8)" fill="url(#g22_0)"/><ellipse cx="389.8" cy="808.3" rx="3.4" ry="2.2" transform="rotate(175 389.8 808.3)" fill="url(#g22_0)"/><ellipse cx="393.6" cy="820.4" rx="4.0" ry="2.6" transform="rotate(138 393.6 820.4)" fill="url(#g22_0)"/><ellipse cx="396.6" cy="827.4" rx="4.3" ry="3.2" transform="rotate(18 396.6 827.4)" fill="url(#g22_0)"/><ellipse cx="390.8" cy="834.4" rx="4.5" ry="3.5" transform="rotate(74 390.8 834.4)" fill="url(#g22_1)"/><ellipse cx="395.0" cy="841.5" rx="4.6" ry="3.6" transform="rotate(131 395.0 841.5)" fill="url(#g22_2)"/><ellipse cx="395.5" cy="852.4" rx="3.5" ry="2.1" transform="rotate(43 395.5 852.4)" fill="url(#g22_0)"/><ellipse cx="396.4" cy="858.1" rx="3.0" ry="1.8" transform="rotate(19 396.4 858.1)" fill="url(#g22_1)"/><ellipse cx="391.9" cy="865.5" rx="3.8" ry="2.3" transform="rotate(64 391.9 865.5)" fill="url(#g22_2)"/><ellipse cx="391.7" cy="876.7" rx="4.4" ry="3.5" transform="rotate(67 391.7 876.7)" fill="url(#g22_0)"/><ellipse cx="396.6" cy="884.9" rx="3.3" ry="1.8" transform="rotate(43 396.6 884.9)" fill="url(#g22_0)"/><ellipse cx="398.9" cy="763.8" rx="4.6" ry="3.4" transform="rotate(20 398.9 763.8)" fill="url(#g22_1)"/><ellipse cx="403.9" cy="775.6" rx="3.1" ry="1.9" transform="rotate(69 403.9 775.6)" fill="url(#g22_2)"/><ellipse cx="402.2" cy="783.7" rx="4.0" ry="2.1" transform="rotate(124 402.2 783.7)" fill="url(#g22_2)"/><ellipse cx="402.9" cy="791.3" rx="3.5" ry="1.7" transform="rotate(15 402.9 791.3)" fill="url(#g22_0)"/><ellipse cx="401.2" cy="802.9" rx="3.3" ry="2.1" transform="rotate(114 401.2 802.9)" fill="url(#g22_1)"/><ellipse cx="398.0" cy="812.4" rx="3.9" ry="2.3" transform="rotate(43 398.0 812.4)" fill="url(#g22_1)"/><ellipse cx="404.9" cy="816.4" rx="3.6" ry="2.4" transform="rotate(31 404.9 816.4)" fill="url(#g22_0)"/><ellipse cx="404.8" cy="826.4" rx="4.3" ry="2.5" transform="rotate(156 404.8 826.4)" fill="url(#g22_2)"/><ellipse cx="399.5" cy="834.6" rx="4.1" ry="2.7" transform="rotate(108 399.5 834.6)" fill="url(#g22_0)"/><ellipse cx="402.0" cy="841.7" rx="4.3" ry="2.6" transform="rotate(176 402.0 841.7)" fill="url(#g22_1)"/><ellipse cx="399.5" cy="850.6" rx="3.2" ry="2.3" transform="rotate(8 399.5 850.6)" fill="url(#g22_1)"/><ellipse cx="400.1" cy="861.7" rx="3.2" ry="2.3" transform="rotate(129 400.1 861.7)" fill="url(#g22_0)"/><ellipse cx="398.8" cy="867.0" rx="4.0" ry="2.3" transform="rotate(2 398.8 867.0)" fill="url(#g22_1)"/><ellipse cx="403.9" cy="873.8" rx="4.5" ry="2.9" transform="rotate(29 403.9 873.8)" fill="url(#g22_0)"/><ellipse cx="400.6" cy="884.6" rx="3.3" ry="1.7" transform="rotate(90 400.6 884.6)" fill="url(#g22_0)"/><ellipse cx="409.6" cy="766.8" rx="4.1" ry="2.8" transform="rotate(41 409.6 766.8)" fill="url(#g22_0)"/><ellipse cx="412.7" cy="772.2" rx="3.2" ry="1.7" transform="rotate(149 412.7 772.2)" fill="url(#g22_1)"/><ellipse cx="413.2" cy="785.0" rx="3.5" ry="2.2" transform="rotate(132 413.2 785.0)" fill="url(#g22_0)"/><ellipse cx="412.3" cy="791.7" rx="3.1" ry="1.8" transform="rotate(101 412.3 791.7)" fill="url(#g22_0)"/><ellipse cx="413.1" cy="804.0" rx="3.8" ry="2.9" transform="rotate(124 413.1 804.0)" fill="url(#g22_1)"/><ellipse cx="407.4" cy="812.6" rx="4.5" ry="2.8" transform="rotate(69 407.4 812.6)" fill="url(#g22_0)"/><ellipse cx="410.9" cy="820.3" rx="3.6" ry="2.1" transform="rotate(110 410.9 820.3)" fill="url(#g22_2)"/><ellipse cx="407.5" cy="824.4" rx="4.0" ry="2.1" transform="rotate(147 407.5 824.4)" fill="url(#g22_0)"/><ellipse cx="412.5" cy="834.1" rx="3.3" ry="1.7" transform="rotate(20 412.5 834.1)" fill="url(#g22_0)"/><ellipse cx="411.9" cy="845.0" rx="4.0" ry="2.4" transform="rotate(120 411.9 845.0)" fill="url(#g22_2)"/><ellipse cx="409.0" cy="848.0" rx="3.8" ry="2.1" transform="rotate(34 409.0 848.0)" fill="url(#g22_0)"/><ellipse cx="406.8" cy="862.6" rx="3.4" ry="2.7" transform="rotate(133 406.8 862.6)" fill="url(#g22_0)"/><ellipse cx="413.0" cy="870.3" rx="3.8" ry="2.9" transform="rotate(86 413.0 870.3)" fill="url(#g22_0)"/><ellipse cx="407.4" cy="875.0" rx="4.4" ry="3.3" transform="rotate(21 407.4 875.0)" fill="url(#g22_0)"/><ellipse cx="407.1" cy="882.7" rx="3.6" ry="2.2" transform="rotate(27 407.1 882.7)" fill="url(#g22_1)"/><ellipse cx="416.5" cy="770.1" rx="3.8" ry="2.4" transform="rotate(138 416.5 770.1)" fill="url(#g22_0)"/><ellipse cx="416.6" cy="772.7" rx="3.5" ry="2.0" transform="rotate(132 416.6 772.7)" fill="url(#g22_0)"/><ellipse cx="420.0" cy="782.3" rx="3.1" ry="1.8" transform="rotate(71 420.0 782.3)" fill="url(#g22_2)"/><ellipse cx="416.1" cy="790.2" rx="3.2" ry="1.9" transform="rotate(173 416.1 790.2)" fill="url(#g22_3)"/><ellipse cx="416.3" cy="797.4" rx="3.8" ry="2.6" transform="rotate(20 416.3 797.4)" fill="url(#g22_0)"/><ellipse cx="420.4" cy="805.4" rx="4.1" ry="2.9" transform="rotate(142 420.4 805.4)" fill="url(#g22_1)"/><ellipse cx="418.1" cy="817.7" rx="3.2" ry="2.1" transform="rotate(43 418.1 817.7)" fill="url(#g22_0)"/><ellipse cx="415.0" cy="823.4" rx="3.1" ry="2.0" transform="rotate(43 415.0 823.4)" fill="url(#g22_1)"/><ellipse cx="418.4" cy="832.4" rx="3.2" ry="2.2" transform="rotate(122 418.4 832.4)" fill="url(#g22_1)"/><ellipse cx="418.5" cy="843.4" rx="3.0" ry="1.8" transform="rotate(144 418.5 843.4)" fill="url(#g22_0)"/><ellipse cx="415.4" cy="850.6" rx="4.3" ry="2.3" transform="rotate(20 415.4 850.6)" fill="url(#g22_1)"/><ellipse cx="421.2" cy="858.8" rx="3.4" ry="2.5" transform="rotate(17 421.2 858.8)" fill="url(#g22_0)"/><ellipse cx="419.1" cy="870.6" rx="4.4" ry="2.6" transform="rotate(48 419.1 870.6)" fill="url(#g22_0)"/><ellipse cx="415.5" cy="874.7" rx="4.2" ry="3.4" transform="rotate(49 415.5 874.7)" fill="url(#g22_0)"/><ellipse cx="420.2" cy="888.3" rx="4.3" ry="2.7" transform="rotate(134 420.2 888.3)" fill="url(#g22_2)"/><ellipse cx="428.6" cy="767.1" rx="4.6" ry="3.4" transform="rotate(42 428.6 767.1)" fill="url(#g22_1)"/><ellipse cx="423.7" cy="774.7" rx="4.3" ry="2.8" transform="rotate(94 423.7 774.7)" fill="url(#g22_2)"/><ellipse cx="423.7" cy="782.9" rx="3.8" ry="2.4" transform="rotate(123 423.7 782.9)" fill="url(#g22_3)"/><ellipse cx="429.1" cy="792.7" rx="4.1" ry="2.7" transform="rotate(178 429.1 792.7)" fill="url(#g22_1)"/><ellipse cx="427.5" cy="800.0" rx="3.7" ry="2.7" transform="rotate(67 427.5 800.0)" fill="url(#g22_2)"/><ellipse cx="428.5" cy="812.6" rx="4.1" ry="2.8" transform="rotate(66 428.5 812.6)" fill="url(#g22_0)"/><ellipse cx="428.0" cy="819.5" rx="4.2" ry="3.0" transform="rotate(6 428.0 819.5)" fill="url(#g22_1)"/><ellipse cx="425.1" cy="825.2" rx="4.4" ry="2.7" transform="rotate(84 425.1 825.2)" fill="url(#g22_0)"/><ellipse cx="424.4" cy="832.2" rx="3.3" ry="2.2" transform="rotate(9 424.4 832.2)" fill="url(#g22_0)"/><ellipse cx="423.7" cy="844.6" rx="4.6" ry="3.3" transform="rotate(93 423.7 844.6)" fill="url(#g22_0)"/><ellipse cx="428.9" cy="848.4" rx="3.1" ry="2.0" transform="rotate(155 428.9 848.4)" fill="url(#g22_0)"/><ellipse cx="429.5" cy="858.3" rx="4.5" ry="3.3" transform="rotate(156 429.5 858.3)" fill="url(#g22_3)"/><ellipse cx="429.2" cy="865.7" rx="3.8" ry="2.5" transform="rotate(130 429.2 865.7)" fill="url(#g22_0)"/><ellipse cx="427.4" cy="874.8" rx="3.3" ry="2.1" transform="rotate(145 427.4 874.8)" fill="url(#g22_1)"/><ellipse cx="425.7" cy="882.7" rx="3.6" ry="2.2" transform="rotate(49 425.7 882.7)" fill="url(#g22_0)"/><ellipse cx="433.1" cy="765.6" rx="4.1" ry="2.8" transform="rotate(113 433.1 765.6)" fill="url(#g22_2)"/><ellipse cx="436.5" cy="772.8" rx="3.6" ry="2.4" transform="rotate(134 436.5 772.8)" fill="url(#g22_1)"/><ellipse cx="432.1" cy="783.8" rx="4.0" ry="3.0" transform="rotate(80 432.1 783.8)" fill="url(#g22_0)"/><ellipse cx="431.7" cy="792.4" rx="4.2" ry="2.2" transform="rotate(94 431.7 792.4)" fill="url(#g22_1)"/><ellipse cx="435.7" cy="798.8" rx="3.1" ry="1.6" transform="rotate(55 435.7 798.8)" fill="url(#g22_2)"/><ellipse cx="434.6" cy="812.9" rx="4.3" ry="2.9" transform="rotate(79 434.6 812.9)" fill="url(#g22_1)"/><ellipse cx="437.8" cy="816.3" rx="3.2" ry="2.5" transform="rotate(114 437.8 816.3)" fill="url(#g22_0)"/><ellipse cx="434.4" cy="823.0" rx="3.9" ry="2.9" transform="rotate(90 434.4 823.0)" fill="url(#g22_1)"/><ellipse cx="437.0" cy="833.1" rx="4.0" ry="3.2" transform="rotate(129 437.0 833.1)" fill="url(#g22_0)"/><ellipse cx="436.4" cy="843.9" rx="4.2" ry="3.0" transform="rotate(164 436.4 843.9)" fill="url(#g22_3)"/><ellipse cx="433.0" cy="851.0" rx="3.1" ry="2.4" transform="rotate(19 433.0 851.0)" fill="url(#g22_0)"/><ellipse cx="436.1" cy="859.1" rx="3.3" ry="2.1" transform="rotate(40 436.1 859.1)" fill="url(#g22_1)"/><ellipse cx="436.8" cy="866.5" rx="3.7" ry="2.6" transform="rotate(96 436.8 866.5)" fill="url(#g22_2)"/><ellipse cx="438.2" cy="879.9" rx="3.3" ry="2.1" transform="rotate(21 438.2 879.9)" fill="url(#g22_1)"/><ellipse cx="434.4" cy="887.4" rx="3.8" ry="2.8" transform="rotate(6 434.4 887.4)" fill="url(#g22_1)"/><ellipse cx="442.9" cy="769.7" rx="3.2" ry="1.7" transform="rotate(124 442.9 769.7)" fill="url(#g22_0)"/><ellipse cx="443.1" cy="774.9" rx="4.6" ry="3.1" transform="rotate(150 443.1 774.9)" fill="url(#g22_2)"/><ellipse cx="446.3" cy="783.6" rx="3.5" ry="2.3" transform="rotate(161 446.3 783.6)" fill="url(#g22_2)"/><ellipse cx="443.4" cy="795.5" rx="4.2" ry="2.2" transform="rotate(114 443.4 795.5)" fill="url(#g22_2)"/><ellipse cx="440.1" cy="799.9" rx="4.0" ry="2.6" transform="rotate(95 440.1 799.9)" fill="url(#g22_0)"/><ellipse cx="441.8" cy="812.0" rx="3.6" ry="2.3" transform="rotate(106 441.8 812.0)" fill="url(#g22_0)"/><ellipse cx="443.0" cy="817.6" rx="4.4" ry="3.3" transform="rotate(32 443.0 817.6)" fill="url(#g22_1)"/><ellipse cx="445.5" cy="829.0" rx="3.8" ry="2.7" transform="rotate(116 445.5 829.0)" fill="url(#g22_1)"/><ellipse cx="446.6" cy="838.1" rx="4.6" ry="2.5" transform="rotate(129 446.6 838.1)" fill="url(#g22_0)"/><ellipse cx="441.9" cy="839.8" rx="4.5" ry="3.4" transform="rotate(95 441.9 839.8)" fill="url(#g22_1)"/><ellipse cx="441.4" cy="854.4" rx="4.2" ry="2.3" transform="rotate(103 441.4 854.4)" fill="url(#g22_3)"/><ellipse cx="441.8" cy="858.6" rx="3.6" ry="2.2" transform="rotate(21 441.8 858.6)" fill="url(#g22_1)"/><ellipse cx="441.7" cy="869.4" rx="3.7" ry="2.8" transform="rotate(134 441.7 869.4)" fill="url(#g22_2)"/><ellipse cx="441.0" cy="878.6" rx="4.2" ry="2.5" transform="rotate(0 441.0 878.6)" fill="url(#g22_0)"/><ellipse cx="445.7" cy="888.3" rx="3.1" ry="1.8" transform="rotate(72 445.7 888.3)" fill="url(#g22_0)"/><ellipse cx="453.1" cy="769.9" rx="4.3" ry="2.4" transform="rotate(164 453.1 769.9)" fill="url(#g22_2)"/><ellipse cx="449.4" cy="778.3" rx="4.5" ry="3.4" transform="rotate(135 449.4 778.3)" fill="url(#g22_2)"/><ellipse cx="452.3" cy="780.3" rx="4.1" ry="2.7" transform="rotate(27 452.3 780.3)" fill="url(#g22_0)"/><ellipse cx="454.9" cy="795.5" rx="3.1" ry="1.6" transform="rotate(126 454.9 795.5)" fill="url(#g22_0)"/><ellipse cx="454.8" cy="800.5" rx="4.1" ry="2.1" transform="rotate(140 454.8 800.5)" fill="url(#g22_0)"/><ellipse cx="451.5" cy="809.1" rx="3.5" ry="2.0" transform="rotate(81 451.5 809.1)" fill="url(#g22_0)"/><ellipse cx="449.4" cy="814.8" rx="4.4" ry="2.6" transform="rotate(177 449.4 814.8)" fill="url(#g22_2)"/><ellipse cx="449.5" cy="828.7" rx="4.6" ry="2.9" transform="rotate(87 449.5 828.7)" fill="url(#g22_1)"/><ellipse cx="451.9" cy="832.6" rx="4.2" ry="2.4" transform="rotate(69 451.9 832.6)" fill="url(#g22_0)"/><ellipse cx="450.7" cy="845.1" rx="3.2" ry="1.8" transform="rotate(71 450.7 845.1)" fill="url(#g22_0)"/><ellipse cx="448.3" cy="847.8" rx="3.3" ry="2.5" transform="rotate(140 448.3 847.8)" fill="url(#g22_2)"/><ellipse cx="453.5" cy="863.4" rx="3.4" ry="2.4" transform="rotate(81 453.5 863.4)" fill="url(#g22_3)"/><ellipse cx="451.6" cy="869.7" rx="4.2" ry="3.3" transform="rotate(138 451.6 869.7)" fill="url(#g22_0)"/><ellipse cx="453.1" cy="878.6" rx="4.5" ry="2.6" transform="rotate(131 453.1 878.6)" fill="url(#g22_2)"/><ellipse cx="449.4" cy="881.9" rx="3.9" ry="2.6" transform="rotate(59 449.4 881.9)" fill="url(#g22_1)"/><ellipse cx="457.7" cy="767.7" rx="3.9" ry="2.9" transform="rotate(130 457.7 767.7)" fill="url(#g22_0)"/><ellipse cx="460.8" cy="772.8" rx="3.8" ry="2.7" transform="rotate(127 460.8 772.8)" fill="url(#g22_0)"/><ellipse cx="460.6" cy="781.5" rx="3.8" ry="2.5" transform="rotate(88 460.6 781.5)" fill="url(#g22_2)"/><ellipse cx="458.9" cy="792.2" rx="3.4" ry="1.9" transform="rotate(114 458.9 792.2)" fill="url(#g22_0)"/><ellipse cx="462.7" cy="799.9" rx="3.2" ry="2.3" transform="rotate(4 462.7 799.9)" fill="url(#g22_0)"/><ellipse cx="461.6" cy="805.5" rx="4.1" ry="2.8" transform="rotate(176 461.6 805.5)" fill="url(#g22_0)"/><ellipse cx="462.9" cy="821.2" rx="3.8" ry="2.0" transform="rotate(61 462.9 821.2)" fill="url(#g22_2)"/><ellipse cx="456.6" cy="827.0" rx="3.8" ry="2.8" transform="rotate(67 456.6 827.0)" fill="url(#g22_3)"/><ellipse cx="457.5" cy="833.8" rx="3.5" ry="2.3" transform="rotate(39 457.5 833.8)" fill="url(#g22_0)"/><ellipse cx="460.0" cy="846.0" rx="3.0" ry="1.8" transform="rotate(27 460.0 846.0)" fill="url(#g22_2)"/><ellipse cx="462.5" cy="847.5" rx="4.3" ry="3.3" transform="rotate(83 462.5 847.5)" fill="url(#g22_1)"/><ellipse cx="462.6" cy="862.8" rx="3.4" ry="2.4" transform="rotate(14 462.6 862.8)" fill="url(#g22_0)"/><ellipse cx="463.5" cy="869.0" rx="3.9" ry="2.4" transform="rotate(82 463.5 869.0)" fill="url(#g22_0)"/><ellipse cx="460.9" cy="879.7" rx="3.2" ry="1.6" transform="rotate(112 460.9 879.7)" fill="url(#g22_2)"/><ellipse cx="459.9" cy="881.7" rx="4.0" ry="2.8" transform="rotate(42 459.9 881.7)" fill="url(#g22_2)"/><ellipse cx="469.1" cy="769.4" rx="3.4" ry="2.1" transform="rotate(119 469.1 769.4)" fill="url(#g22_1)"/><ellipse cx="471.4" cy="779.0" rx="4.2" ry="2.1" transform="rotate(84 471.4 779.0)" fill="url(#g22_1)"/><ellipse cx="470.9" cy="782.6" rx="3.1" ry="2.1" transform="rotate(35 470.9 782.6)" fill="url(#g22_1)"/><ellipse cx="466.8" cy="795.3" rx="3.0" ry="2.0" transform="rotate(158 466.8 795.3)" fill="url(#g22_1)"/><ellipse cx="466.1" cy="801.2" rx="4.3" ry="3.0" transform="rotate(163 466.1 801.2)" fill="url(#g22_2)"/><ellipse cx="467.9" cy="806.4" rx="4.1" ry="2.6" transform="rotate(147 467.9 806.4)" fill="url(#g22_1)"/><ellipse cx="470.5" cy="814.9" rx="4.2" ry="3.2" transform="rotate(146 470.5 814.9)" fill="url(#g22_2)"/><ellipse cx="470.1" cy="823.5" rx="3.5" ry="2.1" transform="rotate(53 470.1 823.5)" fill="url(#g22_1)"/><ellipse cx="467.8" cy="835.6" rx="4.4" ry="3.5" transform="rotate(1 467.8 835.6)" fill="url(#g22_1)"/><ellipse cx="469.4" cy="842.3" rx="4.2" ry="3.2" transform="rotate(44 469.4 842.3)" fill="url(#g22_1)"/><ellipse cx="466.2" cy="850.7" rx="3.6" ry="2.7" transform="rotate(164 466.2 850.7)" fill="url(#g22_2)"/><ellipse cx="469.0" cy="861.2" rx="4.0" ry="2.7" transform="rotate(25 469.0 861.2)" fill="url(#g22_0)"/><ellipse cx="472.3" cy="868.7" rx="3.2" ry="1.9" transform="rotate(24 472.3 868.7)" fill="url(#g22_0)"/><ellipse cx="467.9" cy="874.8" rx="3.0" ry="2.0" transform="rotate(167 467.9 874.8)" fill="url(#g22_1)"/><ellipse cx="468.0" cy="883.9" rx="3.4" ry="2.0" transform="rotate(35 468.0 883.9)" fill="url(#g22_1)"/><ellipse cx="480.3" cy="766.2" rx="4.4" ry="2.9" transform="rotate(115 480.3 766.2)" fill="url(#g22_1)"/><ellipse cx="476.4" cy="778.5" rx="3.9" ry="2.2" transform="rotate(55 476.4 778.5)" fill="url(#g22_0)"/><ellipse cx="477.7" cy="783.1" rx="3.4" ry="2.0" transform="rotate(179 477.7 783.1)" fill="url(#g22_2)"/><ellipse cx="480.0" cy="795.4" rx="3.2" ry="2.1" transform="rotate(130 480.0 795.4)" fill="url(#g22_1)"/><ellipse cx="477.4" cy="801.8" rx="4.0" ry="2.2" transform="rotate(10 477.4 801.8)" fill="url(#g22_0)"/><ellipse cx="473.7" cy="807.8" rx="3.1" ry="1.6" transform="rotate(118 473.7 807.8)" fill="url(#g22_0)"/><ellipse cx="478.8" cy="817.0" rx="4.3" ry="2.9" transform="rotate(157 478.8 817.0)" fill="url(#g22_0)"/><ellipse cx="476.6" cy="829.2" rx="4.1" ry="2.6" transform="rotate(157 476.6 829.2)" fill="url(#g22_2)"/><ellipse cx="478.3" cy="830.8" rx="4.4" ry="2.4" transform="rotate(3 478.3 830.8)" fill="url(#g22_0)"/><ellipse cx="474.9" cy="840.8" rx="3.8" ry="2.5" transform="rotate(122 474.9 840.8)" fill="url(#g22_2)"/><ellipse cx="478.7" cy="854.0" rx="3.7" ry="2.0" transform="rotate(128 478.7 854.0)" fill="url(#g22_3)"/><ellipse cx="474.7" cy="860.5" rx="3.6" ry="2.9" transform="rotate(6 474.7 860.5)" fill="url(#g22_1)"/><ellipse cx="476.1" cy="867.0" rx="4.2" ry="2.1" transform="rotate(50 476.1 867.0)" fill="url(#g22_3)"/><ellipse cx="476.9" cy="872.7" rx="4.0" ry="2.8" transform="rotate(167 476.9 872.7)" fill="url(#g22_2)"/><ellipse cx="480.6" cy="883.0" rx="3.5" ry="2.5" transform="rotate(62 480.6 883.0)" fill="url(#g22_0)"/><ellipse cx="482.1" cy="764.9" rx="3.2" ry="2.0" transform="rotate(126 482.1 764.9)" fill="url(#g22_0)"/><ellipse cx="484.0" cy="772.4" rx="3.7" ry="2.5" transform="rotate(108 484.0 772.4)" fill="url(#g22_1)"/><ellipse cx="485.9" cy="785.5" rx="4.3" ry="3.2" transform="rotate(0 485.9 785.5)" fill="url(#g22_3)"/><ellipse cx="485.4" cy="796.1" rx="4.2" ry="2.7" transform="rotate(8 485.4 796.1)" fill="url(#g22_0)"/><ellipse cx="487.7" cy="797.1" rx="3.1" ry="2.2" transform="rotate(109 487.7 797.1)" fill="url(#g22_1)"/><ellipse cx="482.3" cy="812.7" rx="4.2" ry="2.1" transform="rotate(103 482.3 812.7)" fill="url(#g22_0)"/><ellipse cx="483.6" cy="818.5" rx="4.6" ry="2.3" transform="rotate(145 483.6 818.5)" fill="url(#g22_3)"/><ellipse cx="482.5" cy="829.0" rx="3.0" ry="1.8" transform="rotate(4 482.5 829.0)" fill="url(#g22_0)"/><ellipse cx="483.1" cy="834.9" rx="3.7" ry="2.9" transform="rotate(136 483.1 834.9)" fill="url(#g22_0)"/><ellipse cx="482.4" cy="841.1" rx="4.3" ry="3.2" transform="rotate(151 482.4 841.1)" fill="url(#g22_2)"/><ellipse cx="487.3" cy="851.6" rx="4.3" ry="3.2" transform="rotate(147 487.3 851.6)" fill="url(#g22_2)"/><ellipse cx="485.8" cy="856.5" rx="4.0" ry="2.8" transform="rotate(171 485.8 856.5)" fill="url(#g22_2)"/><ellipse cx="488.6" cy="871.1" rx="3.5" ry="2.7" transform="rotate(102 488.6 871.1)" fill="url(#g22_1)"/><ellipse cx="485.2" cy="876.4" rx="3.7" ry="2.6" transform="rotate(46 485.2 876.4)" fill="url(#g22_1)"/><ellipse cx="486.7" cy="888.4" rx="4.2" ry="2.8" transform="rotate(67 486.7 888.4)" fill="url(#g22_1)"/><ellipse cx="497.2" cy="763.6" rx="3.6" ry="2.1" transform="rotate(140 497.2 763.6)" fill="url(#g22_1)"/><ellipse cx="490.2" cy="778.6" rx="3.7" ry="2.0" transform="rotate(18 490.2 778.6)" fill="url(#g22_0)"/><ellipse cx="492.1" cy="780.8" rx="4.1" ry="2.2" transform="rotate(78 492.1 780.8)" fill="url(#g22_1)"/><ellipse cx="493.6" cy="790.8" rx="3.7" ry="2.4" transform="rotate(104 493.6 790.8)" fill="url(#g22_1)"/><ellipse cx="492.6" cy="802.2" rx="4.4" ry="3.4" transform="rotate(111 492.6 802.2)" fill="url(#g22_0)"/><ellipse cx="490.2" cy="808.7" rx="4.6" ry="3.7" transform="rotate(128 490.2 808.7)" fill="url(#g22_0)"/><ellipse cx="491.8" cy="815.0" rx="3.7" ry="2.9" transform="rotate(38 491.8 815.0)" fill="url(#g22_2)"/><ellipse cx="494.4" cy="824.2" rx="3.7" ry="1.9" transform="rotate(114 494.4 824.2)" fill="url(#g22_2)"/><ellipse cx="492.7" cy="838.0" rx="3.5" ry="2.1" transform="rotate(125 492.7 838.0)" fill="url(#g22_0)"/><ellipse cx="490.5" cy="842.8" rx="3.8" ry="2.1" transform="rotate(31 490.5 842.8)" fill="url(#g22_0)"/><ellipse cx="491.7" cy="848.6" rx="4.0" ry="3.1" transform="rotate(108 491.7 848.6)" fill="url(#g22_0)"/><ellipse cx="494.4" cy="863.0" rx="3.6" ry="2.6" transform="rotate(1 494.4 863.0)" fill="url(#g22_2)"/><ellipse cx="496.7" cy="868.3" rx="4.4" ry="3.0" transform="rotate(141 496.7 868.3)" fill="url(#g22_1)"/><ellipse cx="493.1" cy="874.7" rx="3.9" ry="2.9" transform="rotate(6 493.1 874.7)" fill="url(#g22_1)"/><ellipse cx="490.5" cy="885.9" rx="4.1" ry="3.2" transform="rotate(118 490.5 885.9)" fill="url(#g22_1)"/><ellipse cx="503.8" cy="768.5" rx="4.1" ry="2.9" transform="rotate(153 503.8 768.5)" fill="url(#g22_0)"/><ellipse cx="505.8" cy="773.3" rx="3.1" ry="1.6" transform="rotate(99 505.8 773.3)" fill="url(#g22_2)"/><ellipse cx="499.6" cy="786.9" rx="3.8" ry="2.7" transform="rotate(30 499.6 786.9)" fill="url(#g22_3)"/><ellipse cx="502.1" cy="790.4" rx="4.0" ry="2.1" transform="rotate(117 502.1 790.4)" fill="url(#g22_2)"/><ellipse cx="499.6" cy="798.9" rx="3.4" ry="1.9" transform="rotate(112 499.6 798.9)" fill="url(#g22_2)"/><ellipse cx="502.1" cy="810.7" rx="4.5" ry="3.3" transform="rotate(68 502.1 810.7)" fill="url(#g22_2)"/><ellipse cx="500.0" cy="820.0" rx="3.1" ry="1.9" transform="rotate(19 500.0 820.0)" fill="url(#g22_1)"/><ellipse cx="499.5" cy="826.8" rx="3.3" ry="2.3" transform="rotate(89 499.5 826.8)" fill="url(#g22_0)"/><ellipse cx="499.7" cy="836.3" rx="3.3" ry="2.0" transform="rotate(165 499.7 836.3)" fill="url(#g22_2)"/><ellipse cx="504.1" cy="843.8" rx="4.3" ry="3.3" transform="rotate(150 504.1 843.8)" fill="url(#g22_2)"/><ellipse cx="501.8" cy="853.1" rx="3.6" ry="2.4" transform="rotate(5 501.8 853.1)" fill="url(#g22_0)"/><ellipse cx="503.7" cy="856.5" rx="3.2" ry="2.4" transform="rotate(161 503.7 856.5)" fill="url(#g22_3)"/><ellipse cx="504.6" cy="866.5" rx="4.0" ry="2.6" transform="rotate(15 504.6 866.5)" fill="url(#g22_0)"/><ellipse cx="503.3" cy="875.8" rx="3.9" ry="3.0" transform="rotate(13 503.3 875.8)" fill="url(#g22_0)"/><ellipse cx="506.0" cy="881.9" rx="3.6" ry="2.4" transform="rotate(48 506.0 881.9)" fill="url(#g22_0)"/></g><g filter="url(#b04)"><ellipse cx="476" cy="774" rx="3.5" ry="2.4499999999999997" fill="#c8703a"/><ellipse cx="481" cy="778" rx="3" ry="2.0999999999999996" fill="#b85a2a"/><ellipse cx="485" cy="772" rx="2.5" ry="1.75" fill="#d08040"/><ellipse cx="410" cy="789" rx="3" ry="2.0999999999999996" fill="#c05a28"/><ellipse cx="415" cy="792" rx="3" ry="2.0999999999999996" fill="#b04a20"/><ellipse cx="420" cy="790" rx="2" ry="1.4" fill="#d07030"/><ellipse cx="489" cy="804" rx="2.5" ry="1.75" fill="#c06030"/><ellipse cx="491" cy="809" rx="2.5" ry="1.75" fill="#b85a2a"/><ellipse cx="435" cy="815" rx="2.5" ry="1.75" fill="#d09060"/><ellipse cx="438" cy="819" rx="2" ry="1.4" fill="#c07040"/><ellipse cx="405" cy="855" rx="3" ry="2.0999999999999996" fill="#b04a20"/><ellipse cx="404" cy="860" rx="3.5" ry="2.4499999999999997" fill="#a03a18"/><ellipse cx="407" cy="864" rx="2.5" ry="1.75" fill="#c05a28"/><ellipse cx="495" cy="866" rx="3" ry="2.0999999999999996" fill="#c07040"/><ellipse cx="497" cy="871" rx="2.5" ry="1.75" fill="#b85a2a"/><ellipse cx="455" cy="834" rx="2" ry="1.4" fill="#c88050"/></g></g><rect x="384.8" y="767.2" width="114.2" height="114.1" fill="none" stroke="#151515" stroke-width="1.7"/>
<line x1="466.80" y1="746.60" x2="489.50" y2="746.60" stroke="#fff" stroke-width="2.6" />
<line x1="466.80" y1="867.60" x2="489.50" y2="867.60" stroke="#fff" stroke-width="2.6" />
<text x="0" y="0" transform="translate(370.30,709.00) rotate(-90)" font-size="15.6" text-anchor="middle" dominant-baseline="central" font-weight="normal" fill="#000" font-family='"Liberation Sans", sans-serif' >DMSO</text>
<text x="0" y="0" transform="translate(370.30,827.40) rotate(-90)" font-size="16" text-anchor="middle" dominant-baseline="central" font-weight="normal" fill="#000" font-family='"Liberation Sans", sans-serif' >NS1643</text>
<line x1="565.80" y1="657.05" x2="565.80" y2="870.70" stroke="#151515" stroke-width="1.4" /><line x1="561.20" y1="657.65" x2="565.80" y2="657.65" stroke="#151515" stroke-width="1.3" /><text x="0" y="0" transform="translate(556.30,663.55) scale(0.85,1)" font-size="16.8" text-anchor="end" font-weight="normal" fill="#111" font-family='"Liberation Sans", sans-serif' >35</text><line x1="561.20" y1="688.00" x2="565.80" y2="688.00" stroke="#151515" stroke-width="1.3" /><text x="0" y="0" transform="translate(556.30,693.90) scale(0.85,1)" font-size="16.8" text-anchor="end" font-weight="normal" fill="#111" font-family='"Liberation Sans", sans-serif' >30</text><line x1="561.20" y1="718.35" x2="565.80" y2="718.35" stroke="#151515" stroke-width="1.3" /><text x="0" y="0" transform="translate(556.30,724.25) scale(0.85,1)" font-size="16.8" text-anchor="end" font-weight="normal" fill="#111" font-family='"Liberation Sans", sans-serif' >25</text><line x1="561.20" y1="748.70" x2="565.80" y2="748.70" stroke="#151515" stroke-width="1.3" /><text x="0" y="0" transform="translate(556.30,754.60) scale(0.85,1)" font-size="16.8" text-anchor="end" font-weight="normal" fill="#111" font-family='"Liberation Sans", sans-serif' >20</text><line x1="561.20" y1="779.05" x2="565.80" y2="779.05" stroke="#151515" stroke-width="1.3" /><text x="0" y="0" transform="translate(556.30,784.95) scale(0.85,1)" font-size="16.8" text-anchor="end" font-weight="normal" fill="#111" font-family='"Liberation Sans", sans-serif' >15</text><line x1="561.20" y1="809.40" x2="565.80" y2="809.40" stroke="#151515" stroke-width="1.3" /><text x="0" y="0" transform="translate(556.30,815.30) scale(0.85,1)" font-size="16.8" text-anchor="end" font-weight="normal" fill="#111" font-family='"Liberation Sans", sans-serif' >10</text><line x1="561.20" y1="839.75" x2="565.80" y2="839.75" stroke="#151515" stroke-width="1.3" /><text x="0" y="0" transform="translate(556.30,845.65) scale(0.85,1)" font-size="16.8" text-anchor="end" font-weight="normal" fill="#111" font-family='"Liberation Sans", sans-serif' >5</text><line x1="561.20" y1="870.10" x2="565.80" y2="870.10" stroke="#151515" stroke-width="1.3" /><text x="0" y="0" transform="translate(556.30,876.00) scale(0.85,1)" font-size="16.8" text-anchor="end" font-weight="normal" fill="#111" font-family='"Liberation Sans", sans-serif' >0</text>
<text x="0" y="0" transform="translate(534.60,851.20) rotate(-90)" font-size="16" text-anchor="middle" dominant-baseline="central" font-weight="normal" fill="#000" font-family='"Liberation Sans", sans-serif' >H-score</text>
<rect x="597.20" y="692.80" width="26.80" height="36.60" fill="#fe2210" stroke="#3a0a0a" stroke-width="1.1"/><line x1="597.20" y1="696.30" x2="624.00" y2="696.30" stroke="#3a0a0a" stroke-width="1.3" /><line x1="604.50" y1="701.80" x2="614.90" y2="712.20" stroke="#3a0a0a" stroke-width="1.1" /><line x1="604.50" y1="712.20" x2="614.90" y2="701.80" stroke="#3a0a0a" stroke-width="1.1" /><circle cx="609.7" cy="696.3" r="2.6" fill="#fe2210" stroke="#3a0a0a" stroke-width="1"/>
<rect x="627.70" y="782.30" width="27.60" height="41.00" fill="#3d7ad0" stroke="#0c1a33" stroke-width="1.1"/><line x1="627.70" y1="806.70" x2="655.30" y2="806.70" stroke="#0c1a33" stroke-width="1.3" /><line x1="636.70" y1="800.30" x2="647.90" y2="811.50" stroke="#0c1a33" stroke-width="1.1" /><line x1="636.70" y1="811.50" x2="647.90" y2="800.30" stroke="#0c1a33" stroke-width="1.1" /><circle cx="642.3" cy="806.7" r="2.6" fill="#3d7ad0" stroke="#0c1a33" stroke-width="1"/>
<text x="626.70" y="749.20" font-size="12.3" text-anchor="middle" font-weight="normal" fill="#1a1a1a" font-family='"Liberation Sans", sans-serif' letter-spacing="0.35">DMSO</text>
<text x="658.20" y="840.80" font-size="12.3" text-anchor="middle" font-weight="normal" fill="#1a1a1a" font-family='"Liberation Sans", sans-serif' letter-spacing="0.35">NS1643</text>
<text x="642.50" y="783.40" font-size="19" text-anchor="middle" font-weight="normal" fill="#000" font-family='"Liberation Sans", sans-serif' >*</text>
</svg></div></body></html>
